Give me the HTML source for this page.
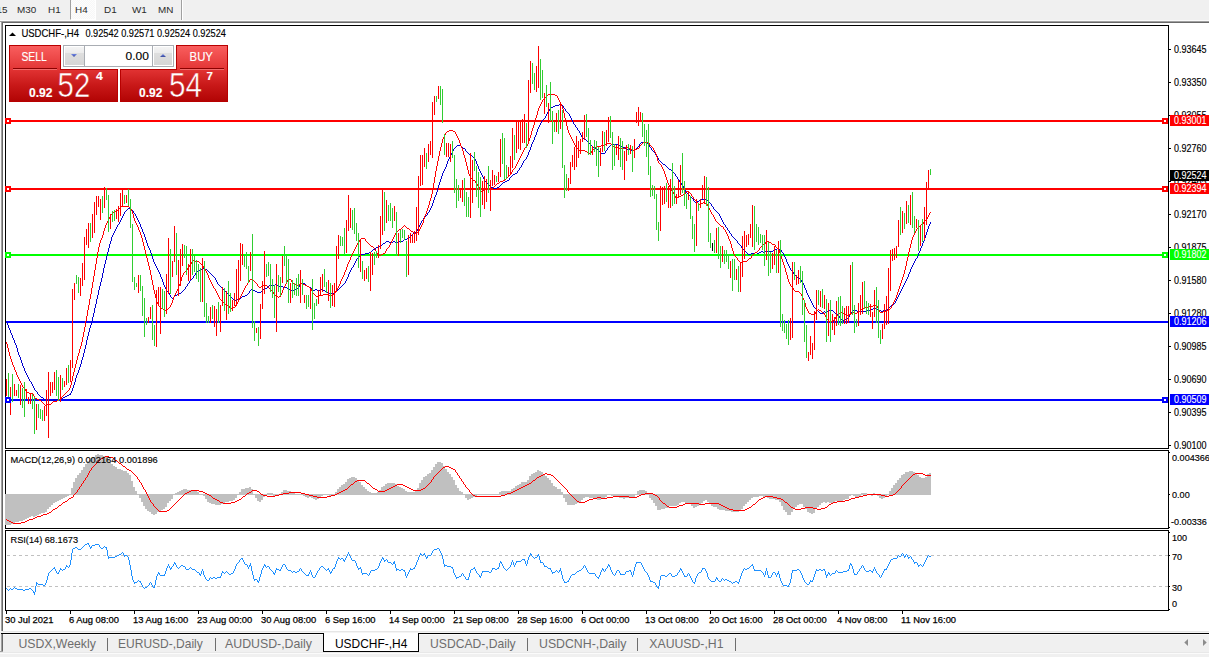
<!DOCTYPE html>
<html><head><meta charset="utf-8"><title>USDCHF-,H4</title>
<style>
*{box-sizing:border-box}
html,body{margin:0;padding:0;overflow:hidden}
body{width:1209px;height:657px;overflow:hidden;position:relative;background:#f0f0f0;font-family:"Liberation Sans",Arial,sans-serif}
.a{position:absolute}
.tb{position:absolute;top:0;left:0;width:1209px;height:20px;background:#f0f0f0}
.ti{position:absolute;top:4px;font-size:9.9px;color:#2b2b2b;line-height:11px;white-space:nowrap}
.press{position:absolute;left:70px;top:0;width:26px;height:20px;border-left:1px solid #a0a0a0;border-right:1px solid #fff;border-bottom:1px solid #fff;
 background-color:#f7f7f7;background-image:linear-gradient(45deg,#fdfdfd 25%,transparent 25%,transparent 75%,#fdfdfd 75%),linear-gradient(45deg,#fdfdfd 25%,transparent 25%,transparent 75%,#fdfdfd 75%);background-size:2px 2px;background-position:0 0,1px 1px}
.mdi{position:absolute;left:3px;top:23px;width:1206px;height:608px;background:#fff}
.tabs{position:absolute;left:0;top:633px;width:1209px;height:24px}
.tab{position:absolute;top:637px;font-size:12.1px;color:#6d6d6d;white-space:nowrap;line-height:14px}
.sep{position:absolute;top:638px;width:1px;height:13px;background:#6d6d6d}
.box{position:absolute}
.w{color:#fff;position:absolute;white-space:nowrap}
</style></head><body>
<!-- toolbar -->
<div class="tb"></div>
<div class="press"></div>
<div class="ti" style="left:-3.5px">15</div>
<div class="ti" style="left:17px">M30</div>
<div class="ti" style="left:48px">H1</div>
<div class="ti" style="left:75px">H4</div>
<div class="ti" style="left:104px">D1</div>
<div class="ti" style="left:132px">W1</div>
<div class="ti" style="left:158px">MN</div>
<div class="a" style="left:181px;top:0;width:1px;height:20px;background:#a0a0a0"></div>
<div class="a" style="left:182px;top:0;width:1px;height:20px;background:#fff"></div>
<div class="a" style="left:0;top:20px;width:1209px;height:1px;background:#fafafa"></div>
<div class="a" style="left:0;top:21px;width:1209px;height:1px;background:#a0a0a0"></div>
<div class="a" style="left:1px;top:22px;width:1208px;height:1px;background:#696969"></div>
<!-- mdi frame -->
<div class="a" style="left:0;top:22px;width:1px;height:610px;background:#f8f8f8"></div>
<div class="a" style="left:1px;top:21px;width:1px;height:610px;background:#a0a0a0"></div>
<div class="a" style="left:2px;top:22px;width:1px;height:609px;background:#696969"></div>
<div class="mdi"></div>
<div class="a" style="left:2px;top:631px;width:1207px;height:1px;background:#e6e6e6"></div>
<div class="a" style="left:2px;top:632px;width:1207px;height:1px;background:#f4f4f4"></div>
<!-- tab bar -->
<div class="a" style="left:1px;top:633px;width:1208px;height:1px;background:#000"></div>
<div class="a" style="left:3px;top:634px;width:1206px;height:1px;background:#fafafa"></div>
<div class="a" style="left:1px;top:634px;width:1px;height:18px;background:#a0a0a0"></div>
<div class="a" style="left:2px;top:634px;width:1px;height:17px;background:#696969"></div>
<div class="a" style="left:0;top:651px;width:3px;height:1px;background:#a0a0a0"></div>
<div class="a" style="left:0;top:652px;width:1209px;height:1px;background:#e8e8e8"></div>
<div class="a" style="left:0;top:653px;width:1209px;height:1px;background:#fbfbfb"></div>
<div class="sep" style="left:107px"></div>
<div class="sep" style="left:215px"></div>
<div class="a" style="left:323px;top:633px;width:96px;height:19px;background:#fff;border:1px solid #000;border-top:none"></div>
<div class="sep" style="left:527px"></div>
<div class="sep" style="left:637px"></div>
<div class="sep" style="left:735px"></div>
<svg class="a" style="left:0;top:630px" width="1209" height="27" viewBox="0 630 1209 27" font-family="Liberation Sans, Arial, sans-serif"><text x="18.4" y="647.8" font-size="12.4" fill="#6d6d6d" textLength="77.4" lengthAdjust="spacingAndGlyphs">USDX,Weekly</text><text x="118.1" y="647.8" font-size="12.4" fill="#6d6d6d" textLength="84.7" lengthAdjust="spacingAndGlyphs">EURUSD-,Daily</text><text x="225" y="647.8" font-size="12.4" fill="#6d6d6d" textLength="87.0" lengthAdjust="spacingAndGlyphs">AUDUSD-,Daily</text><text x="335" y="647.8" font-size="12.4" fill="#000" textLength="72.3" lengthAdjust="spacingAndGlyphs">USDCHF-,H4</text><text x="430.1" y="647.8" font-size="12.4" fill="#6d6d6d" textLength="85.6" lengthAdjust="spacingAndGlyphs">USDCAD-,Daily</text><text x="539" y="647.8" font-size="12.4" fill="#6d6d6d" textLength="87.5" lengthAdjust="spacingAndGlyphs">USDCNH-,Daily</text><text x="649.3" y="647.8" font-size="12.4" fill="#6d6d6d" textLength="74.2" lengthAdjust="spacingAndGlyphs">XAUUSD-,H1</text></svg>
<svg class="a" style="left:1180px;top:637px" width="29" height="14" viewBox="0 0 29 14"><path d="M8 2 L4.3 5.5 L8 9 Z" fill="#8c8c8c"/><path d="M23 2 L26.7 5.5 L23 9 Z" fill="#8c8c8c"/></svg>

<!-- chart svg -->
<svg class="a" style="left:0;top:0" width="1209" height="657" viewBox="0 0 1209 657" font-family="Liberation Sans, Arial, sans-serif">
<g shape-rendering="crispEdges">
<!-- panel frames -->
<rect x="5.5" y="25.5" width="1163" height="423" fill="none" stroke="#000"/>
<rect x="5.5" y="450.5" width="1163" height="78" fill="none" stroke="#000"/>
<rect x="5.5" y="530.5" width="1163" height="80" fill="none" stroke="#000"/>
<rect x="1169" y="49" width="2" height="1" fill="#000"/>
<rect x="1169" y="82" width="2" height="1" fill="#000"/>
<rect x="1169" y="115" width="2" height="1" fill="#000"/>
<rect x="1169" y="148" width="2" height="1" fill="#000"/>
<rect x="1169" y="181" width="2" height="1" fill="#000"/>
<rect x="1169" y="214" width="2" height="1" fill="#000"/>
<rect x="1169" y="247" width="2" height="1" fill="#000"/>
<rect x="1169" y="280" width="2" height="1" fill="#000"/>
<rect x="1169" y="313" width="2" height="1" fill="#000"/>
<rect x="1169" y="346" width="2" height="1" fill="#000"/>
<rect x="1169" y="379" width="2" height="1" fill="#000"/>
<rect x="1169" y="412" width="2" height="1" fill="#000"/>
<rect x="1169" y="445" width="2" height="1" fill="#000"/>
<rect x="6" y="611" width="1" height="3" fill="#000"/>
<rect x="70" y="611" width="1" height="3" fill="#000"/>
<rect x="134" y="611" width="1" height="3" fill="#000"/>
<rect x="198" y="611" width="1" height="3" fill="#000"/>
<rect x="262" y="611" width="1" height="3" fill="#000"/>
<rect x="326" y="611" width="1" height="3" fill="#000"/>
<rect x="390" y="611" width="1" height="3" fill="#000"/>
<rect x="454" y="611" width="1" height="3" fill="#000"/>
<rect x="518" y="611" width="1" height="3" fill="#000"/>
<rect x="582" y="611" width="1" height="3" fill="#000"/>
<rect x="646" y="611" width="1" height="3" fill="#000"/>
<rect x="710" y="611" width="1" height="3" fill="#000"/>
<rect x="774" y="611" width="1" height="3" fill="#000"/>
<rect x="838" y="611" width="1" height="3" fill="#000"/>
<rect x="902" y="611" width="1" height="3" fill="#000"/>
<rect x="1169" y="452" width="1" height="1" fill="#000"/>
<rect x="1169" y="494" width="1" height="1" fill="#000"/>
<rect x="1169" y="527" width="1" height="1" fill="#000"/>
<rect x="1169" y="532" width="1" height="1" fill="#000"/>
<rect x="1169" y="555" width="1" height="1" fill="#000"/>
<rect x="1169" y="586" width="1" height="1" fill="#000"/>
<rect x="1169" y="609" width="1" height="1" fill="#000"/>
<!-- rsi levels -->
<line x1="6" y1="555.5" x2="1168" y2="555.5" stroke="#c0c0c0" stroke-dasharray="3 3" stroke-dashoffset="5"/>
<line x1="6" y1="586.5" x2="1168" y2="586.5" stroke="#c0c0c0" stroke-dasharray="3 3" stroke-dashoffset="5"/>
</g>
<!-- horizontal lines -->
<g shape-rendering="crispEdges">
<rect x="6" y="120" width="1162" height="2" fill="#ff0000"/>
<rect x="6" y="188" width="1162" height="2" fill="#ff0000"/>
<rect x="6" y="254" width="1162" height="2" fill="#00ff00"/>
<rect x="6" y="321" width="1162" height="2" fill="#0000ff"/>
<rect x="6" y="399" width="1162" height="2" fill="#0000ff"/>
</g>
<g shape-rendering="crispEdges">
<path fill="#0000cd" d="M6 322h1v1h-1zM7 323h1v2h-1zM8 325h1v3h-1zM9 328h1v2h-1zM10 330h1v3h-1zM11 333h1v2h-1zM12 335h1v3h-1zM13 338h1v2h-1zM14 340h1v3h-1zM15 343h1v2h-1zM16 345h1v3h-1zM17 348h1v4h-1zM18 352h1v3h-1zM19 355h1v2h-1zM20 357h1v3h-1zM21 360h1v3h-1zM22 363h1v3h-1zM23 366h1v2h-1zM24 368h1v3h-1zM25 371h1v2h-1zM26 373h1v2h-1zM27 375h1v2h-1zM28 377h1v2h-1zM29 379h1v2h-1zM30 381h1v1h-1zM31 382h1v2h-1zM32 384h1v2h-1zM33 386h1v2h-1zM34 388h1v2h-1zM35 390h1v1h-1zM36 391h1v1h-1zM37 392h1v2h-1zM38 394h1v1h-1zM39 395h1v1h-1zM40 396h1v1h-1zM41 397h1v1h-1zM42 397h1v1h-1zM43 398h1v1h-1zM44 399h1v1h-1zM45 399h1v1h-1zM46 399h1v1h-1zM47 400h1v1h-1zM48 400h1v1h-1zM49 400h1v1h-1zM50 400h1v1h-1zM51 400h1v1h-1zM52 400h1v1h-1zM53 399h1v1h-1zM54 399h1v1h-1zM55 399h1v1h-1zM56 399h1v1h-1zM57 399h1v1h-1zM58 399h1v1h-1zM59 399h1v1h-1zM60 399h1v1h-1zM61 398h1v1h-1zM62 398h1v1h-1zM63 397h1v1h-1zM64 397h1v1h-1zM65 396h1v1h-1zM66 396h1v1h-1zM67 395h1v1h-1zM68 395h1v1h-1zM69 394h1v1h-1zM70 393h1v2h-1zM71 391h1v2h-1zM72 388h1v3h-1zM73 385h1v3h-1zM74 382h1v3h-1zM75 378h1v4h-1zM76 375h1v3h-1zM77 373h1v2h-1zM78 370h1v3h-1zM79 367h1v3h-1zM80 364h1v3h-1zM81 360h1v4h-1zM82 357h1v3h-1zM83 353h1v4h-1zM84 349h1v4h-1zM85 345h1v4h-1zM86 340h1v5h-1zM87 336h1v4h-1zM88 332h1v4h-1zM89 328h1v4h-1zM90 325h1v3h-1zM91 321h1v4h-1zM92 317h1v4h-1zM93 313h1v4h-1zM94 308h1v5h-1zM95 304h1v4h-1zM96 299h1v5h-1zM97 295h1v4h-1zM98 290h1v5h-1zM99 286h1v4h-1zM100 282h1v4h-1zM101 278h1v4h-1zM102 273h1v5h-1zM103 268h1v5h-1zM104 264h1v4h-1zM105 260h1v4h-1zM106 256h1v4h-1zM107 252h1v4h-1zM108 248h1v4h-1zM109 244h1v4h-1zM110 241h1v3h-1zM111 237h1v4h-1zM112 235h1v2h-1zM113 233h1v2h-1zM114 231h1v2h-1zM115 229h1v2h-1zM116 227h1v2h-1zM117 225h1v2h-1zM118 224h1v1h-1zM119 222h1v2h-1zM120 220h1v2h-1zM121 218h1v2h-1zM122 216h1v2h-1zM123 214h1v2h-1zM124 212h1v2h-1zM125 211h1v1h-1zM126 210h1v1h-1zM127 209h1v1h-1zM128 208h1v1h-1zM129 208h1v1h-1zM130 208h1v1h-1zM131 209h1v1h-1zM132 210h1v1h-1zM133 211h1v2h-1zM134 213h1v1h-1zM135 214h1v2h-1zM136 216h1v2h-1zM137 218h1v2h-1zM138 220h1v2h-1zM139 222h1v2h-1zM140 224h1v3h-1zM141 227h1v2h-1zM142 229h1v3h-1zM143 232h1v2h-1zM144 234h1v3h-1zM145 237h1v3h-1zM146 240h1v3h-1zM147 243h1v3h-1zM148 246h1v2h-1zM149 248h1v2h-1zM150 250h1v3h-1zM151 253h1v3h-1zM152 256h1v3h-1zM153 259h1v3h-1zM154 262h1v2h-1zM155 264h1v2h-1zM156 266h1v2h-1zM157 268h1v2h-1zM158 270h1v2h-1zM159 272h1v2h-1zM160 274h1v3h-1zM161 277h1v2h-1zM162 279h1v3h-1zM163 282h1v3h-1zM164 285h1v2h-1zM165 287h1v2h-1zM166 289h1v2h-1zM167 291h1v1h-1zM168 292h1v1h-1zM169 293h1v2h-1zM170 295h1v2h-1zM171 297h1v1h-1zM172 298h1v1h-1zM173 297h1v1h-1zM174 296h1v1h-1zM175 295h1v1h-1zM176 295h1v1h-1zM177 294h1v1h-1zM178 294h1v1h-1zM179 293h1v1h-1zM180 293h1v1h-1zM181 292h1v1h-1zM182 291h1v1h-1zM183 290h1v1h-1zM184 289h1v1h-1zM185 287h1v2h-1zM186 286h1v1h-1zM187 284h1v2h-1zM188 283h1v1h-1zM189 281h1v2h-1zM190 280h1v1h-1zM191 279h1v1h-1zM192 278h1v1h-1zM193 276h1v2h-1zM194 275h1v1h-1zM195 273h1v2h-1zM196 272h1v1h-1zM197 271h1v1h-1zM198 270h1v1h-1zM199 270h1v1h-1zM200 270h1v1h-1zM201 269h1v1h-1zM202 269h1v1h-1zM203 268h1v1h-1zM204 268h1v1h-1zM205 269h1v1h-1zM206 269h1v1h-1zM207 270h1v1h-1zM208 271h1v1h-1zM209 272h1v1h-1zM210 273h1v1h-1zM211 274h1v1h-1zM212 275h1v1h-1zM213 276h1v1h-1zM214 277h1v1h-1zM215 278h1v2h-1zM216 280h1v2h-1zM217 282h1v2h-1zM218 284h1v1h-1zM219 285h1v1h-1zM220 286h1v1h-1zM221 287h1v1h-1zM222 288h1v1h-1zM223 289h1v1h-1zM224 290h1v1h-1zM225 291h1v1h-1zM226 292h1v1h-1zM227 293h1v1h-1zM228 294h1v1h-1zM229 295h1v1h-1zM230 296h1v1h-1zM231 297h1v1h-1zM232 298h1v1h-1zM233 299h1v1h-1zM234 299h1v1h-1zM235 300h1v1h-1zM236 300h1v1h-1zM237 299h1v1h-1zM238 299h1v1h-1zM239 298h1v1h-1zM240 298h1v1h-1zM241 297h1v1h-1zM242 296h1v1h-1zM243 296h1v1h-1zM244 296h1v1h-1zM245 295h1v1h-1zM246 295h1v1h-1zM247 294h1v1h-1zM248 293h1v1h-1zM249 291h1v2h-1zM250 290h1v1h-1zM251 289h1v1h-1zM252 289h1v1h-1zM253 290h1v1h-1zM254 290h1v1h-1zM255 291h1v1h-1zM256 291h1v1h-1zM257 292h1v1h-1zM258 292h1v1h-1zM259 292h1v1h-1zM260 292h1v1h-1zM261 291h1v1h-1zM262 290h1v1h-1zM263 289h1v1h-1zM264 289h1v1h-1zM265 288h1v1h-1zM266 288h1v1h-1zM267 287h1v1h-1zM268 286h1v1h-1zM269 285h1v1h-1zM270 285h1v1h-1zM271 285h1v1h-1zM272 285h1v1h-1zM273 285h1v1h-1zM274 285h1v1h-1zM275 284h1v1h-1zM276 284h1v1h-1zM277 285h1v1h-1zM278 285h1v1h-1zM279 286h1v1h-1zM280 286h1v1h-1zM281 286h1v1h-1zM282 286h1v1h-1zM283 287h1v1h-1zM284 287h1v1h-1zM285 287h1v1h-1zM286 287h1v1h-1zM287 288h1v1h-1zM288 288h1v1h-1zM289 289h1v1h-1zM290 289h1v1h-1zM291 290h1v1h-1zM292 291h1v1h-1zM293 290h1v1h-1zM294 290h1v1h-1zM295 289h1v1h-1zM296 289h1v1h-1zM297 288h1v1h-1zM298 287h1v1h-1zM299 285h1v2h-1zM300 284h1v1h-1zM301 283h1v1h-1zM302 282h1v1h-1zM303 283h1v1h-1zM304 283h1v1h-1zM305 284h1v1h-1zM306 285h1v1h-1zM307 286h1v1h-1zM308 286h1v1h-1zM309 287h1v1h-1zM310 287h1v1h-1zM311 288h1v1h-1zM312 289h1v1h-1zM313 290h1v1h-1zM314 290h1v1h-1zM315 289h1v1h-1zM316 289h1v1h-1zM317 290h1v1h-1zM318 290h1v1h-1zM319 290h1v1h-1zM320 290h1v1h-1zM321 289h1v1h-1zM322 289h1v1h-1zM323 290h1v1h-1zM324 290h1v1h-1zM325 291h1v1h-1zM326 292h1v1h-1zM327 292h1v1h-1zM328 292h1v1h-1zM329 293h1v1h-1zM330 293h1v1h-1zM331 293h1v1h-1zM332 293h1v1h-1zM333 293h1v1h-1zM334 293h1v1h-1zM335 292h1v1h-1zM336 291h1v1h-1zM337 290h1v1h-1zM338 289h1v1h-1zM339 288h1v1h-1zM340 287h1v1h-1zM341 286h1v1h-1zM342 285h1v1h-1zM343 284h1v1h-1zM344 283h1v1h-1zM345 281h1v2h-1zM346 279h1v2h-1zM347 277h1v2h-1zM348 274h1v3h-1zM349 272h1v2h-1zM350 270h1v2h-1zM351 268h1v2h-1zM352 267h1v1h-1zM353 265h1v2h-1zM354 263h1v2h-1zM355 261h1v2h-1zM356 259h1v2h-1zM357 258h1v1h-1zM358 257h1v1h-1zM359 256h1v1h-1zM360 255h1v1h-1zM361 254h1v1h-1zM362 254h1v1h-1zM363 254h1v1h-1zM364 254h1v1h-1zM365 253h1v1h-1zM366 253h1v1h-1zM367 253h1v1h-1zM368 253h1v1h-1zM369 252h1v1h-1zM370 252h1v1h-1zM371 251h1v1h-1zM372 250h1v1h-1zM373 249h1v1h-1zM374 249h1v1h-1zM375 248h1v1h-1zM376 247h1v1h-1zM377 247h1v1h-1zM378 247h1v1h-1zM379 246h1v1h-1zM380 246h1v1h-1zM381 245h1v1h-1zM382 244h1v1h-1zM383 243h1v1h-1zM384 243h1v1h-1zM385 242h1v1h-1zM386 241h1v1h-1zM387 241h1v1h-1zM388 241h1v1h-1zM389 242h1v1h-1zM390 242h1v1h-1zM391 242h1v1h-1zM392 242h1v1h-1zM393 241h1v1h-1zM394 241h1v1h-1zM395 242h1v1h-1zM396 242h1v1h-1zM397 242h1v1h-1zM398 242h1v1h-1zM399 241h1v1h-1zM400 241h1v1h-1zM401 241h1v1h-1zM402 241h1v1h-1zM403 240h1v1h-1zM404 239h1v1h-1zM405 239h1v1h-1zM406 239h1v1h-1zM407 238h1v1h-1zM408 238h1v1h-1zM409 237h1v1h-1zM410 236h1v1h-1zM411 235h1v1h-1zM412 234h1v1h-1zM413 233h1v1h-1zM414 233h1v1h-1zM415 232h1v1h-1zM416 231h1v1h-1zM417 229h1v2h-1zM418 227h1v2h-1zM419 225h1v2h-1zM420 223h1v2h-1zM421 221h1v2h-1zM422 220h1v1h-1zM423 218h1v2h-1zM424 217h1v1h-1zM425 216h1v1h-1zM426 215h1v1h-1zM427 213h1v2h-1zM428 212h1v1h-1zM429 210h1v2h-1zM430 208h1v2h-1zM431 206h1v2h-1zM432 203h1v3h-1zM433 200h1v3h-1zM434 197h1v3h-1zM435 195h1v2h-1zM436 192h1v3h-1zM437 188h1v4h-1zM438 185h1v3h-1zM439 182h1v3h-1zM440 179h1v3h-1zM441 176h1v3h-1zM442 173h1v3h-1zM443 171h1v2h-1zM444 169h1v2h-1zM445 167h1v2h-1zM446 164h1v3h-1zM447 161h1v3h-1zM448 159h1v2h-1zM449 157h1v2h-1zM450 155h1v2h-1zM451 153h1v2h-1zM452 151h1v2h-1zM453 149h1v2h-1zM454 148h1v1h-1zM455 147h1v1h-1zM456 146h1v1h-1zM457 145h1v1h-1zM458 145h1v1h-1zM459 145h1v1h-1zM460 145h1v1h-1zM461 146h1v1h-1zM462 147h1v1h-1zM463 148h1v1h-1zM464 148h1v1h-1zM465 149h1v2h-1zM466 151h1v1h-1zM467 152h1v1h-1zM468 153h1v1h-1zM469 154h1v1h-1zM470 154h1v1h-1zM471 155h1v1h-1zM472 156h1v1h-1zM473 157h1v1h-1zM474 158h1v1h-1zM475 159h1v2h-1zM476 161h1v3h-1zM477 164h1v2h-1zM478 166h1v3h-1zM479 169h1v2h-1zM480 171h1v2h-1zM481 173h1v2h-1zM482 175h1v2h-1zM483 177h1v2h-1zM484 179h1v2h-1zM485 181h1v1h-1zM486 182h1v1h-1zM487 183h1v1h-1zM488 184h1v1h-1zM489 185h1v1h-1zM490 186h1v1h-1zM491 187h1v1h-1zM492 187h1v1h-1zM493 188h1v1h-1zM494 188h1v1h-1zM495 188h1v1h-1zM496 188h1v1h-1zM497 187h1v1h-1zM498 187h1v1h-1zM499 186h1v1h-1zM500 185h1v1h-1zM501 184h1v1h-1zM502 183h1v1h-1zM503 182h1v1h-1zM504 182h1v1h-1zM505 181h1v1h-1zM506 181h1v1h-1zM507 180h1v1h-1zM508 180h1v1h-1zM509 178h1v2h-1zM510 177h1v1h-1zM511 176h1v1h-1zM512 175h1v1h-1zM513 174h1v1h-1zM514 174h1v1h-1zM515 173h1v1h-1zM516 173h1v1h-1zM517 171h1v2h-1zM518 170h1v1h-1zM519 168h1v2h-1zM520 167h1v1h-1zM521 165h1v2h-1zM522 163h1v2h-1zM523 161h1v2h-1zM524 160h1v1h-1zM525 159h1v1h-1zM526 157h1v2h-1zM527 155h1v2h-1zM528 152h1v3h-1zM529 150h1v2h-1zM530 147h1v3h-1zM531 144h1v3h-1zM532 142h1v2h-1zM533 140h1v2h-1zM534 137h1v3h-1zM535 135h1v2h-1zM536 132h1v3h-1zM537 129h1v3h-1zM538 127h1v2h-1zM539 125h1v2h-1zM540 123h1v2h-1zM541 121h1v2h-1zM542 120h1v1h-1zM543 119h1v1h-1zM544 118h1v1h-1zM545 116h1v2h-1zM546 114h1v2h-1zM547 112h1v2h-1zM548 111h1v1h-1zM549 109h1v2h-1zM550 108h1v1h-1zM551 107h1v1h-1zM552 107h1v1h-1zM553 106h1v1h-1zM554 106h1v1h-1zM555 105h1v1h-1zM556 105h1v1h-1zM557 105h1v1h-1zM558 105h1v1h-1zM559 104h1v1h-1zM560 104h1v1h-1zM561 105h1v1h-1zM562 105h1v1h-1zM563 106h1v2h-1zM564 108h1v1h-1zM565 109h1v2h-1zM566 111h1v1h-1zM567 112h1v1h-1zM568 113h1v1h-1zM569 114h1v2h-1zM570 116h1v2h-1zM571 118h1v2h-1zM572 120h1v2h-1zM573 122h1v2h-1zM574 124h1v1h-1zM575 125h1v2h-1zM576 127h1v1h-1zM577 128h1v2h-1zM578 130h1v1h-1zM579 131h1v2h-1zM580 133h1v2h-1zM581 135h1v2h-1zM582 137h1v1h-1zM583 138h1v1h-1zM584 138h1v1h-1zM585 139h1v1h-1zM586 140h1v1h-1zM587 141h1v1h-1zM588 142h1v1h-1zM589 143h1v1h-1zM590 144h1v1h-1zM591 145h1v1h-1zM592 146h1v1h-1zM593 147h1v1h-1zM594 147h1v1h-1zM595 148h1v1h-1zM596 148h1v1h-1zM597 149h1v1h-1zM598 150h1v1h-1zM599 151h1v1h-1zM600 152h1v1h-1zM601 153h1v1h-1zM602 153h1v1h-1zM603 153h1v1h-1zM604 153h1v1h-1zM605 151h1v2h-1zM606 150h1v1h-1zM607 148h1v2h-1zM608 147h1v1h-1zM609 146h1v1h-1zM610 145h1v1h-1zM611 144h1v1h-1zM612 144h1v1h-1zM613 144h1v1h-1zM614 144h1v1h-1zM615 144h1v1h-1zM616 144h1v1h-1zM617 144h1v1h-1zM618 144h1v1h-1zM619 145h1v1h-1zM620 145h1v1h-1zM621 146h1v1h-1zM622 146h1v1h-1zM623 147h1v1h-1zM624 147h1v1h-1zM625 148h1v1h-1zM626 148h1v1h-1zM627 149h1v1h-1zM628 149h1v1h-1zM629 149h1v1h-1zM630 149h1v1h-1zM631 150h1v1h-1zM632 150h1v1h-1zM633 150h1v1h-1zM634 150h1v1h-1zM635 149h1v1h-1zM636 148h1v1h-1zM637 147h1v1h-1zM638 146h1v1h-1zM639 144h1v2h-1zM640 143h1v1h-1zM641 142h1v1h-1zM642 142h1v1h-1zM643 142h1v1h-1zM644 142h1v1h-1zM645 142h1v1h-1zM646 142h1v1h-1zM647 143h1v1h-1zM648 144h1v1h-1zM649 145h1v2h-1zM650 147h1v1h-1zM651 148h1v2h-1zM652 150h1v1h-1zM653 151h1v1h-1zM654 152h1v1h-1zM655 153h1v2h-1zM656 155h1v1h-1zM657 156h1v2h-1zM658 158h1v2h-1zM659 160h1v1h-1zM660 161h1v1h-1zM661 162h1v1h-1zM662 163h1v1h-1zM663 164h1v1h-1zM664 164h1v1h-1zM665 165h1v1h-1zM666 166h1v1h-1zM667 167h1v1h-1zM668 168h1v1h-1zM669 169h1v1h-1zM670 169h1v1h-1zM671 170h1v1h-1zM672 171h1v1h-1zM673 172h1v1h-1zM674 173h1v1h-1zM675 174h1v2h-1zM676 176h1v1h-1zM677 177h1v2h-1zM678 179h1v1h-1zM679 180h1v2h-1zM680 182h1v1h-1zM681 183h1v2h-1zM682 185h1v1h-1zM683 186h1v2h-1zM684 188h1v2h-1zM685 190h1v2h-1zM686 192h1v1h-1zM687 193h1v1h-1zM688 194h1v1h-1zM689 195h1v1h-1zM690 196h1v1h-1zM691 197h1v1h-1zM692 198h1v1h-1zM693 199h1v2h-1zM694 201h1v1h-1zM695 202h1v1h-1zM696 202h1v1h-1zM697 201h1v1h-1zM698 201h1v1h-1zM699 200h1v1h-1zM700 199h1v1h-1zM701 199h1v1h-1zM702 199h1v1h-1zM703 199h1v1h-1zM704 199h1v1h-1zM705 199h1v1h-1zM706 199h1v1h-1zM707 200h1v1h-1zM708 201h1v1h-1zM709 202h1v1h-1zM710 203h1v1h-1zM711 204h1v2h-1zM712 206h1v1h-1zM713 207h1v2h-1zM714 209h1v1h-1zM715 210h1v1h-1zM716 211h1v1h-1zM717 212h1v1h-1zM718 213h1v1h-1zM719 214h1v2h-1zM720 216h1v2h-1zM721 218h1v2h-1zM722 220h1v2h-1zM723 222h1v2h-1zM724 224h1v1h-1zM725 225h1v2h-1zM726 227h1v1h-1zM727 228h1v2h-1zM728 230h1v1h-1zM729 231h1v2h-1zM730 233h1v1h-1zM731 234h1v2h-1zM732 236h1v1h-1zM733 237h1v1h-1zM734 238h1v1h-1zM735 239h1v1h-1zM736 240h1v1h-1zM737 241h1v2h-1zM738 243h1v1h-1zM739 244h1v1h-1zM740 245h1v1h-1zM741 246h1v2h-1zM742 248h1v1h-1zM743 249h1v1h-1zM744 250h1v1h-1zM745 251h1v1h-1zM746 252h1v1h-1zM747 253h1v1h-1zM748 254h1v1h-1zM749 254h1v1h-1zM750 254h1v1h-1zM751 253h1v1h-1zM752 253h1v1h-1zM753 253h1v1h-1zM754 253h1v1h-1zM755 252h1v1h-1zM756 252h1v1h-1zM757 253h1v1h-1zM758 253h1v1h-1zM759 252h1v1h-1zM760 252h1v1h-1zM761 251h1v1h-1zM762 251h1v1h-1zM763 252h1v1h-1zM764 252h1v1h-1zM765 251h1v1h-1zM766 250h1v1h-1zM767 251h1v1h-1zM768 251h1v1h-1zM769 251h1v1h-1zM770 251h1v1h-1zM771 251h1v1h-1zM772 251h1v1h-1zM773 250h1v1h-1zM774 249h1v1h-1zM775 249h1v1h-1zM776 249h1v1h-1zM777 248h1v1h-1zM778 248h1v1h-1zM779 249h1v1h-1zM780 249h1v1h-1zM781 250h1v2h-1zM782 252h1v1h-1zM783 253h1v2h-1zM784 255h1v2h-1zM785 257h1v2h-1zM786 259h1v3h-1zM787 262h1v2h-1zM788 264h1v2h-1zM789 266h1v2h-1zM790 268h1v2h-1zM791 270h1v1h-1zM792 271h1v1h-1zM793 272h1v2h-1zM794 274h1v1h-1zM795 275h1v1h-1zM796 276h1v1h-1zM797 277h1v1h-1zM798 277h1v1h-1zM799 278h1v1h-1zM800 279h1v1h-1zM801 280h1v2h-1zM802 282h1v1h-1zM803 283h1v2h-1zM804 285h1v3h-1zM805 288h1v2h-1zM806 290h1v3h-1zM807 293h1v2h-1zM808 295h1v2h-1zM809 297h1v2h-1zM810 299h1v2h-1zM811 301h1v2h-1zM812 303h1v2h-1zM813 305h1v2h-1zM814 307h1v1h-1zM815 308h1v1h-1zM816 309h1v1h-1zM817 310h1v1h-1zM818 311h1v1h-1zM819 312h1v1h-1zM820 313h1v1h-1zM821 313h1v1h-1zM822 313h1v1h-1zM823 312h1v1h-1zM824 311h1v1h-1zM825 312h1v1h-1zM826 312h1v1h-1zM827 311h1v1h-1zM828 311h1v1h-1zM829 310h1v1h-1zM830 310h1v1h-1zM831 310h1v1h-1zM832 310h1v1h-1zM833 311h1v1h-1zM834 312h1v1h-1zM835 313h1v1h-1zM836 313h1v1h-1zM837 314h1v1h-1zM838 315h1v1h-1zM839 316h1v2h-1zM840 318h1v1h-1zM841 319h1v1h-1zM842 320h1v1h-1zM843 320h1v1h-1zM844 320h1v1h-1zM845 319h1v1h-1zM846 319h1v1h-1zM847 318h1v1h-1zM848 317h1v1h-1zM849 315h1v2h-1zM850 314h1v1h-1zM851 312h1v2h-1zM852 311h1v1h-1zM853 310h1v1h-1zM854 310h1v1h-1zM855 310h1v1h-1zM856 310h1v1h-1zM857 311h1v1h-1zM858 311h1v1h-1zM859 311h1v1h-1zM860 311h1v1h-1zM861 311h1v1h-1zM862 311h1v1h-1zM863 311h1v1h-1zM864 311h1v1h-1zM865 311h1v1h-1zM866 311h1v1h-1zM867 310h1v1h-1zM868 310h1v1h-1zM869 310h1v1h-1zM870 310h1v1h-1zM871 309h1v1h-1zM872 309h1v1h-1zM873 308h1v1h-1zM874 308h1v1h-1zM875 308h1v1h-1zM876 308h1v1h-1zM877 309h1v1h-1zM878 309h1v1h-1zM879 310h1v1h-1zM880 310h1v1h-1zM881 311h1v1h-1zM882 311h1v1h-1zM883 310h1v1h-1zM884 310h1v1h-1zM885 310h1v1h-1zM886 310h1v1h-1zM887 309h1v1h-1zM888 308h1v1h-1zM889 307h1v1h-1zM890 306h1v1h-1zM891 305h1v1h-1zM892 305h1v1h-1zM893 304h1v1h-1zM894 303h1v1h-1zM895 301h1v2h-1zM896 299h1v2h-1zM897 297h1v2h-1zM898 295h1v2h-1zM899 293h1v2h-1zM900 291h1v2h-1zM901 289h1v2h-1zM902 287h1v2h-1zM903 285h1v2h-1zM904 283h1v2h-1zM905 281h1v2h-1zM906 279h1v2h-1zM907 277h1v2h-1zM908 274h1v3h-1zM909 272h1v2h-1zM910 269h1v3h-1zM911 267h1v2h-1zM912 265h1v2h-1zM913 263h1v2h-1zM914 261h1v2h-1zM915 259h1v2h-1zM916 258h1v1h-1zM917 256h1v2h-1zM918 253h1v3h-1zM919 251h1v2h-1zM920 248h1v3h-1zM921 246h1v2h-1zM922 243h1v3h-1zM923 241h1v2h-1zM924 238h1v3h-1zM925 235h1v3h-1zM926 232h1v3h-1zM927 229h1v3h-1zM928 226h1v3h-1zM929 224h1v2h-1zM930 222h1v2h-1z"/><path fill="#ff0000" d="M6 342h1v2h-1zM7 344h1v4h-1zM8 348h1v4h-1zM9 352h1v4h-1zM10 356h1v3h-1zM11 359h1v3h-1zM12 362h1v3h-1zM13 365h1v2h-1zM14 367h1v3h-1zM15 370h1v2h-1zM16 372h1v3h-1zM17 375h1v2h-1zM18 377h1v2h-1zM19 379h1v2h-1zM20 381h1v2h-1zM21 383h1v2h-1zM22 385h1v2h-1zM23 387h1v1h-1zM24 388h1v1h-1zM25 389h1v2h-1zM26 391h1v1h-1zM27 392h1v1h-1zM28 392h1v1h-1zM29 393h1v1h-1zM30 393h1v1h-1zM31 393h1v1h-1zM32 393h1v1h-1zM33 394h1v2h-1zM34 396h1v2h-1zM35 398h1v1h-1zM36 398h1v1h-1zM37 399h1v1h-1zM38 399h1v1h-1zM39 400h1v1h-1zM40 400h1v1h-1zM41 401h1v1h-1zM42 402h1v1h-1zM43 403h1v1h-1zM44 404h1v1h-1zM45 405h1v1h-1zM46 405h1v1h-1zM47 404h1v1h-1zM48 404h1v1h-1zM49 404h1v1h-1zM50 404h1v1h-1zM51 403h1v1h-1zM52 402h1v1h-1zM53 401h1v1h-1zM54 401h1v1h-1zM55 401h1v1h-1zM56 401h1v1h-1zM57 400h1v1h-1zM58 400h1v1h-1zM59 399h1v1h-1zM60 399h1v1h-1zM61 397h1v2h-1zM62 396h1v1h-1zM63 395h1v1h-1zM64 394h1v1h-1zM65 393h1v1h-1zM66 392h1v1h-1zM67 391h1v1h-1zM68 390h1v1h-1zM69 388h1v2h-1zM70 385h1v3h-1zM71 381h1v4h-1zM72 376h1v5h-1zM73 372h1v4h-1zM74 368h1v4h-1zM75 364h1v4h-1zM76 360h1v4h-1zM77 356h1v4h-1zM78 353h1v3h-1zM79 349h1v4h-1zM80 346h1v3h-1zM81 342h1v4h-1zM82 337h1v5h-1zM83 332h1v5h-1zM84 327h1v5h-1zM85 321h1v6h-1zM86 316h1v5h-1zM87 310h1v6h-1zM88 305h1v5h-1zM89 299h1v6h-1zM90 294h1v5h-1zM91 288h1v6h-1zM92 282h1v6h-1zM93 276h1v6h-1zM94 270h1v6h-1zM95 264h1v6h-1zM96 258h1v6h-1zM97 252h1v6h-1zM98 247h1v5h-1zM99 243h1v4h-1zM100 240h1v3h-1zM101 238h1v2h-1zM102 235h1v3h-1zM103 231h1v4h-1zM104 228h1v3h-1zM105 225h1v3h-1zM106 223h1v2h-1zM107 221h1v2h-1zM108 219h1v2h-1zM109 217h1v2h-1zM110 215h1v2h-1zM111 214h1v1h-1zM112 213h1v1h-1zM113 212h1v1h-1zM114 212h1v1h-1zM115 211h1v1h-1zM116 211h1v1h-1zM117 210h1v1h-1zM118 209h1v1h-1zM119 208h1v1h-1zM120 207h1v1h-1zM121 206h1v1h-1zM122 206h1v1h-1zM123 206h1v1h-1zM124 206h1v1h-1zM125 206h1v1h-1zM126 206h1v1h-1zM127 206h1v1h-1zM128 206h1v1h-1zM129 207h1v1h-1zM130 207h1v2h-1zM131 209h1v2h-1zM132 211h1v3h-1zM133 214h1v4h-1zM134 218h1v3h-1zM135 221h1v2h-1zM136 223h1v2h-1zM137 225h1v2h-1zM138 227h1v3h-1zM139 230h1v2h-1zM140 232h1v3h-1zM141 235h1v3h-1zM142 238h1v4h-1zM143 242h1v4h-1zM144 246h1v4h-1zM145 250h1v4h-1zM146 254h1v4h-1zM147 258h1v4h-1zM148 262h1v4h-1zM149 266h1v4h-1zM150 270h1v5h-1zM151 275h1v5h-1zM152 280h1v5h-1zM153 285h1v5h-1zM154 290h1v4h-1zM155 294h1v4h-1zM156 298h1v4h-1zM157 302h1v2h-1zM158 304h1v2h-1zM159 306h1v1h-1zM160 307h1v1h-1zM161 308h1v1h-1zM162 308h1v1h-1zM163 309h1v1h-1zM164 310h1v1h-1zM165 310h1v1h-1zM166 310h1v1h-1zM167 309h1v1h-1zM168 308h1v1h-1zM169 307h1v1h-1zM170 305h1v2h-1zM171 303h1v2h-1zM172 300h1v3h-1zM173 297h1v3h-1zM174 295h1v2h-1zM175 293h1v2h-1zM176 291h1v2h-1zM177 289h1v2h-1zM178 286h1v3h-1zM179 284h1v2h-1zM180 281h1v3h-1zM181 277h1v4h-1zM182 275h1v2h-1zM183 273h1v2h-1zM184 272h1v1h-1zM185 271h1v1h-1zM186 270h1v1h-1zM187 268h1v2h-1zM188 267h1v1h-1zM189 265h1v2h-1zM190 264h1v1h-1zM191 262h1v2h-1zM192 261h1v1h-1zM193 260h1v1h-1zM194 260h1v1h-1zM195 261h1v1h-1zM196 261h1v1h-1zM197 261h1v1h-1zM198 261h1v1h-1zM199 262h1v1h-1zM200 263h1v1h-1zM201 264h1v1h-1zM202 265h1v1h-1zM203 266h1v2h-1zM204 268h1v1h-1zM205 269h1v2h-1zM206 271h1v2h-1zM207 273h1v2h-1zM208 275h1v3h-1zM209 278h1v2h-1zM210 280h1v2h-1zM211 282h1v2h-1zM212 284h1v2h-1zM213 286h1v2h-1zM214 288h1v1h-1zM215 289h1v2h-1zM216 291h1v2h-1zM217 293h1v2h-1zM218 295h1v2h-1zM219 297h1v2h-1zM220 299h1v1h-1zM221 300h1v1h-1zM222 301h1v1h-1zM223 302h1v1h-1zM224 303h1v1h-1zM225 304h1v1h-1zM226 304h1v1h-1zM227 305h1v1h-1zM228 305h1v1h-1zM229 306h1v2h-1zM230 308h1v1h-1zM231 308h1v1h-1zM232 308h1v1h-1zM233 307h1v1h-1zM234 307h1v1h-1zM235 305h1v2h-1zM236 304h1v1h-1zM237 302h1v2h-1zM238 300h1v2h-1zM239 298h1v2h-1zM240 296h1v2h-1zM241 294h1v2h-1zM242 292h1v2h-1zM243 290h1v2h-1zM244 288h1v2h-1zM245 286h1v2h-1zM246 285h1v1h-1zM247 283h1v2h-1zM248 282h1v1h-1zM249 280h1v2h-1zM250 279h1v1h-1zM251 279h1v1h-1zM252 279h1v1h-1zM253 280h1v1h-1zM254 281h1v1h-1zM255 282h1v1h-1zM256 283h1v1h-1zM257 284h1v2h-1zM258 286h1v1h-1zM259 287h1v1h-1zM260 287h1v1h-1zM261 286h1v1h-1zM262 286h1v1h-1zM263 285h1v1h-1zM264 285h1v1h-1zM265 285h1v1h-1zM266 285h1v1h-1zM267 286h1v1h-1zM268 287h1v1h-1zM269 288h1v1h-1zM270 289h1v1h-1zM271 290h1v1h-1zM272 291h1v1h-1zM273 292h1v2h-1zM274 294h1v1h-1zM275 295h1v1h-1zM276 295h1v1h-1zM277 296h1v1h-1zM278 297h1v1h-1zM279 296h1v1h-1zM280 295h1v2h-1zM281 293h1v2h-1zM282 290h1v3h-1zM283 288h1v2h-1zM284 286h1v2h-1zM285 284h1v2h-1zM286 282h1v2h-1zM287 280h1v2h-1zM288 279h1v1h-1zM289 279h1v1h-1zM290 279h1v1h-1zM291 280h1v2h-1zM292 282h1v1h-1zM293 283h1v1h-1zM294 283h1v1h-1zM295 284h1v1h-1zM296 284h1v1h-1zM297 285h1v1h-1zM298 285h1v1h-1zM299 284h1v1h-1zM300 284h1v1h-1zM301 283h1v1h-1zM302 283h1v1h-1zM303 284h1v1h-1zM304 284h1v1h-1zM305 285h1v1h-1zM306 285h1v1h-1zM307 286h1v1h-1zM308 286h1v1h-1zM309 287h1v1h-1zM310 288h1v1h-1zM311 289h1v2h-1zM312 291h1v2h-1zM313 293h1v1h-1zM314 294h1v1h-1zM315 295h1v1h-1zM316 296h1v1h-1zM317 296h1v1h-1zM318 296h1v1h-1zM319 295h1v1h-1zM320 295h1v1h-1zM321 295h1v1h-1zM322 295h1v1h-1zM323 294h1v1h-1zM324 294h1v1h-1zM325 294h1v1h-1zM326 294h1v1h-1zM327 294h1v1h-1zM328 294h1v1h-1zM329 295h1v1h-1zM330 295h1v1h-1zM331 295h1v1h-1zM332 295h1v1h-1zM333 294h1v1h-1zM334 293h1v1h-1zM335 291h1v2h-1zM336 290h1v1h-1zM337 288h1v2h-1zM338 286h1v2h-1zM339 284h1v2h-1zM340 281h1v3h-1zM341 279h1v2h-1zM342 277h1v2h-1zM343 275h1v2h-1zM344 272h1v3h-1zM345 270h1v2h-1zM346 267h1v3h-1zM347 264h1v3h-1zM348 262h1v2h-1zM349 260h1v2h-1zM350 257h1v3h-1zM351 255h1v2h-1zM352 253h1v2h-1zM353 251h1v2h-1zM354 249h1v2h-1zM355 247h1v2h-1zM356 245h1v2h-1zM357 243h1v2h-1zM358 242h1v1h-1zM359 240h1v2h-1zM360 239h1v1h-1zM361 238h1v1h-1zM362 238h1v1h-1zM363 238h1v1h-1zM364 238h1v1h-1zM365 239h1v2h-1zM366 241h1v1h-1zM367 242h1v1h-1zM368 243h1v1h-1zM369 244h1v1h-1zM370 245h1v1h-1zM371 246h1v1h-1zM372 246h1v1h-1zM373 247h1v1h-1zM374 248h1v1h-1zM375 249h1v2h-1zM376 251h1v2h-1zM377 253h1v2h-1zM378 255h1v1h-1zM379 255h1v1h-1zM380 255h1v1h-1zM381 254h1v1h-1zM382 254h1v1h-1zM383 253h1v1h-1zM384 253h1v1h-1zM385 251h1v2h-1zM386 249h1v2h-1zM387 248h1v1h-1zM388 247h1v1h-1zM389 245h1v2h-1zM390 243h1v2h-1zM391 241h1v2h-1zM392 239h1v2h-1zM393 237h1v2h-1zM394 235h1v2h-1zM395 233h1v2h-1zM396 232h1v1h-1zM397 231h1v1h-1zM398 230h1v1h-1zM399 229h1v1h-1zM400 229h1v1h-1zM401 228h1v1h-1zM402 227h1v1h-1zM403 226h1v1h-1zM404 225h1v1h-1zM405 226h1v1h-1zM406 227h1v1h-1zM407 228h1v1h-1zM408 228h1v1h-1zM409 229h1v1h-1zM410 230h1v1h-1zM411 231h1v1h-1zM412 231h1v1h-1zM413 232h1v1h-1zM414 233h1v1h-1zM415 233h1v1h-1zM416 233h1v1h-1zM417 232h1v1h-1zM418 231h1v1h-1zM419 229h1v2h-1zM420 227h1v2h-1zM421 225h1v2h-1zM422 223h1v2h-1zM423 219h1v4h-1zM424 216h1v3h-1zM425 214h1v2h-1zM426 211h1v3h-1zM427 208h1v3h-1zM428 205h1v3h-1zM429 201h1v4h-1zM430 198h1v3h-1zM431 194h1v4h-1zM432 189h1v5h-1zM433 183h1v6h-1zM434 177h1v6h-1zM435 171h1v6h-1zM436 166h1v5h-1zM437 161h1v5h-1zM438 156h1v5h-1zM439 151h1v5h-1zM440 147h1v4h-1zM441 143h1v4h-1zM442 139h1v4h-1zM443 137h1v2h-1zM444 135h1v2h-1zM445 133h1v2h-1zM446 132h1v1h-1zM447 131h1v1h-1zM448 131h1v1h-1zM449 130h1v1h-1zM450 130h1v1h-1zM451 130h1v1h-1zM452 130h1v1h-1zM453 131h1v1h-1zM454 131h1v1h-1zM455 132h1v2h-1zM456 134h1v2h-1zM457 136h1v2h-1zM458 138h1v2h-1zM459 140h1v3h-1zM460 143h1v3h-1zM461 146h1v2h-1zM462 148h1v3h-1zM463 151h1v4h-1zM464 155h1v3h-1zM465 158h1v4h-1zM466 162h1v4h-1zM467 166h1v4h-1zM468 170h1v4h-1zM469 174h1v2h-1zM470 176h1v2h-1zM471 178h1v1h-1zM472 179h1v1h-1zM473 180h1v1h-1zM474 180h1v1h-1zM475 181h1v2h-1zM476 183h1v1h-1zM477 184h1v2h-1zM478 186h1v1h-1zM479 187h1v2h-1zM480 189h1v2h-1zM481 191h1v1h-1zM482 191h1v1h-1zM483 190h1v1h-1zM484 190h1v1h-1zM485 189h1v1h-1zM486 189h1v1h-1zM487 189h1v1h-1zM488 189h1v1h-1zM489 189h1v1h-1zM490 189h1v1h-1zM491 188h1v1h-1zM492 188h1v1h-1zM493 187h1v1h-1zM494 186h1v1h-1zM495 185h1v1h-1zM496 184h1v1h-1zM497 183h1v1h-1zM498 183h1v1h-1zM499 182h1v1h-1zM500 181h1v1h-1zM501 181h1v1h-1zM502 181h1v1h-1zM503 180h1v1h-1zM504 180h1v1h-1zM505 179h1v1h-1zM506 178h1v1h-1zM507 177h1v1h-1zM508 176h1v1h-1zM509 175h1v1h-1zM510 174h1v1h-1zM511 172h1v2h-1zM512 170h1v2h-1zM513 169h1v1h-1zM514 168h1v1h-1zM515 166h1v2h-1zM516 164h1v2h-1zM517 162h1v2h-1zM518 160h1v2h-1zM519 158h1v2h-1zM520 156h1v2h-1zM521 154h1v2h-1zM522 152h1v2h-1zM523 150h1v2h-1zM524 148h1v2h-1zM525 147h1v1h-1zM526 146h1v1h-1zM527 144h1v2h-1zM528 141h1v3h-1zM529 138h1v3h-1zM530 135h1v3h-1zM531 131h1v4h-1zM532 128h1v3h-1zM533 125h1v3h-1zM534 122h1v3h-1zM535 118h1v4h-1zM536 115h1v3h-1zM537 111h1v4h-1zM538 108h1v3h-1zM539 106h1v2h-1zM540 104h1v2h-1zM541 102h1v2h-1zM542 100h1v2h-1zM543 99h1v1h-1zM544 98h1v1h-1zM545 97h1v1h-1zM546 96h1v1h-1zM547 95h1v1h-1zM548 94h1v1h-1zM549 94h1v1h-1zM550 94h1v1h-1zM551 94h1v1h-1zM552 94h1v1h-1zM553 94h1v1h-1zM554 94h1v1h-1zM555 95h1v1h-1zM556 95h1v1h-1zM557 96h1v2h-1zM558 98h1v2h-1zM559 100h1v2h-1zM560 102h1v2h-1zM561 104h1v2h-1zM562 106h1v3h-1zM563 109h1v4h-1zM564 113h1v5h-1zM565 118h1v4h-1zM566 122h1v4h-1zM567 126h1v4h-1zM568 130h1v3h-1zM569 133h1v2h-1zM570 135h1v2h-1zM571 137h1v2h-1zM572 139h1v2h-1zM573 141h1v2h-1zM574 143h1v2h-1zM575 145h1v2h-1zM576 147h1v1h-1zM577 148h1v1h-1zM578 149h1v1h-1zM579 150h1v1h-1zM580 150h1v1h-1zM581 150h1v1h-1zM582 150h1v1h-1zM583 150h1v1h-1zM584 150h1v1h-1zM585 151h1v1h-1zM586 151h1v1h-1zM587 152h1v1h-1zM588 153h1v1h-1zM589 153h1v1h-1zM590 153h1v1h-1zM591 151h1v2h-1zM592 150h1v1h-1zM593 149h1v1h-1zM594 148h1v1h-1zM595 147h1v1h-1zM596 146h1v1h-1zM597 146h1v1h-1zM598 146h1v1h-1zM599 146h1v1h-1zM600 146h1v1h-1zM601 145h1v1h-1zM602 145h1v1h-1zM603 145h1v1h-1zM604 145h1v1h-1zM605 144h1v1h-1zM606 144h1v1h-1zM607 143h1v1h-1zM608 143h1v1h-1zM609 143h1v1h-1zM610 143h1v1h-1zM611 144h1v1h-1zM612 145h1v1h-1zM613 146h1v1h-1zM614 147h1v1h-1zM615 147h1v1h-1zM616 147h1v1h-1zM617 147h1v1h-1zM618 147h1v1h-1zM619 148h1v1h-1zM620 148h1v1h-1zM621 148h1v1h-1zM622 148h1v1h-1zM623 148h1v1h-1zM624 148h1v1h-1zM625 147h1v1h-1zM626 147h1v1h-1zM627 147h1v1h-1zM628 147h1v1h-1zM629 148h1v1h-1zM630 148h1v1h-1zM631 149h1v1h-1zM632 149h1v1h-1zM633 150h1v1h-1zM634 150h1v1h-1zM635 149h1v1h-1zM636 149h1v1h-1zM637 148h1v1h-1zM638 148h1v1h-1zM639 146h1v2h-1zM640 145h1v1h-1zM641 144h1v1h-1zM642 143h1v1h-1zM643 142h1v1h-1zM644 142h1v1h-1zM645 142h1v1h-1zM646 142h1v1h-1zM647 142h1v1h-1zM648 142h1v1h-1zM649 143h1v2h-1zM650 145h1v1h-1zM651 146h1v1h-1zM652 147h1v1h-1zM653 148h1v2h-1zM654 150h1v2h-1zM655 152h1v2h-1zM656 154h1v3h-1zM657 157h1v4h-1zM658 161h1v2h-1zM659 163h1v1h-1zM660 164h1v1h-1zM661 165h1v2h-1zM662 167h1v2h-1zM663 169h1v2h-1zM664 171h1v3h-1zM665 174h1v3h-1zM666 177h1v3h-1zM667 180h1v3h-1zM668 183h1v2h-1zM669 185h1v2h-1zM670 187h1v2h-1zM671 189h1v2h-1zM672 191h1v1h-1zM673 192h1v2h-1zM674 194h1v2h-1zM675 196h1v2h-1zM676 198h1v1h-1zM677 197h1v1h-1zM678 197h1v1h-1zM679 196h1v1h-1zM680 196h1v1h-1zM681 195h1v1h-1zM682 195h1v1h-1zM683 194h1v1h-1zM684 194h1v1h-1zM685 192h1v2h-1zM686 191h1v1h-1zM687 191h1v1h-1zM688 191h1v1h-1zM689 192h1v1h-1zM690 193h1v1h-1zM691 194h1v2h-1zM692 196h1v1h-1zM693 197h1v2h-1zM694 199h1v1h-1zM695 200h1v1h-1zM696 201h1v1h-1zM697 202h1v1h-1zM698 203h1v1h-1zM699 204h1v1h-1zM700 204h1v1h-1zM701 203h1v1h-1zM702 203h1v1h-1zM703 202h1v1h-1zM704 202h1v1h-1zM705 203h1v1h-1zM706 203h1v1h-1zM707 204h1v2h-1zM708 206h1v2h-1zM709 208h1v2h-1zM710 210h1v2h-1zM711 212h1v2h-1zM712 214h1v1h-1zM713 215h1v2h-1zM714 217h1v2h-1zM715 219h1v2h-1zM716 221h1v1h-1zM717 222h1v1h-1zM718 223h1v1h-1zM719 224h1v1h-1zM720 225h1v1h-1zM721 226h1v1h-1zM722 226h1v1h-1zM723 227h1v2h-1zM724 229h1v1h-1zM725 230h1v2h-1zM726 232h1v2h-1zM727 234h1v2h-1zM728 236h1v3h-1zM729 239h1v2h-1zM730 241h1v3h-1zM731 244h1v4h-1zM732 248h1v3h-1zM733 251h1v3h-1zM734 254h1v2h-1zM735 256h1v1h-1zM736 257h1v1h-1zM737 258h1v2h-1zM738 260h1v1h-1zM739 261h1v1h-1zM740 262h1v1h-1zM741 262h1v1h-1zM742 262h1v1h-1zM743 261h1v1h-1zM744 261h1v1h-1zM745 261h1v1h-1zM746 261h1v1h-1zM747 260h1v1h-1zM748 259h1v1h-1zM749 258h1v1h-1zM750 258h1v1h-1zM751 256h1v2h-1zM752 255h1v1h-1zM753 254h1v1h-1zM754 253h1v1h-1zM755 252h1v1h-1zM756 252h1v1h-1zM757 251h1v1h-1zM758 250h1v1h-1zM759 248h1v2h-1zM760 247h1v1h-1zM761 246h1v1h-1zM762 245h1v1h-1zM763 244h1v1h-1zM764 244h1v1h-1zM765 242h1v2h-1zM766 240h1v2h-1zM767 241h1v1h-1zM768 241h1v1h-1zM769 242h1v1h-1zM770 242h1v1h-1zM771 243h1v1h-1zM772 244h1v1h-1zM773 244h1v1h-1zM774 244h1v1h-1zM775 245h1v2h-1zM776 247h1v1h-1zM777 248h1v1h-1zM778 248h1v2h-1zM779 250h1v3h-1zM780 253h1v3h-1zM781 256h1v3h-1zM782 259h1v3h-1zM783 262h1v3h-1zM784 265h1v3h-1zM785 268h1v4h-1zM786 272h1v3h-1zM787 275h1v4h-1zM788 279h1v3h-1zM789 282h1v2h-1zM790 284h1v2h-1zM791 286h1v1h-1zM792 287h1v1h-1zM793 288h1v2h-1zM794 290h1v1h-1zM795 291h1v1h-1zM796 291h1v1h-1zM797 291h1v1h-1zM798 291h1v1h-1zM799 292h1v1h-1zM800 293h1v1h-1zM801 294h1v2h-1zM802 296h1v2h-1zM803 298h1v2h-1zM804 300h1v3h-1zM805 303h1v4h-1zM806 307h1v2h-1zM807 309h1v2h-1zM808 311h1v2h-1zM809 313h1v1h-1zM810 313h1v1h-1zM811 314h1v1h-1zM812 314h1v1h-1zM813 314h1v1h-1zM814 314h1v1h-1zM815 312h1v2h-1zM816 311h1v1h-1zM817 310h1v1h-1zM818 309h1v1h-1zM819 310h1v1h-1zM820 310h1v1h-1zM821 311h1v1h-1zM822 312h1v1h-1zM823 313h1v1h-1zM824 313h1v2h-1zM825 315h1v2h-1zM826 317h1v2h-1zM827 319h1v1h-1zM828 320h1v1h-1zM829 321h1v1h-1zM830 322h1v1h-1zM831 321h1v1h-1zM832 321h1v1h-1zM833 320h1v1h-1zM834 319h1v1h-1zM835 317h1v2h-1zM836 316h1v1h-1zM837 315h1v1h-1zM838 314h1v1h-1zM839 313h1v1h-1zM840 312h1v1h-1zM841 312h1v1h-1zM842 312h1v1h-1zM843 313h1v1h-1zM844 313h1v1h-1zM845 314h1v1h-1zM846 314h1v1h-1zM847 315h1v1h-1zM848 315h1v1h-1zM849 314h1v1h-1zM850 313h1v1h-1zM851 313h1v1h-1zM852 313h1v1h-1zM853 312h1v1h-1zM854 312h1v1h-1zM855 313h1v1h-1zM856 313h1v1h-1zM857 312h1v1h-1zM858 312h1v1h-1zM859 311h1v1h-1zM860 310h1v1h-1zM861 309h1v1h-1zM862 308h1v1h-1zM863 308h1v1h-1zM864 308h1v1h-1zM865 307h1v1h-1zM866 307h1v1h-1zM867 307h1v1h-1zM868 307h1v1h-1zM869 306h1v1h-1zM870 306h1v1h-1zM871 306h1v1h-1zM872 306h1v1h-1zM873 305h1v1h-1zM874 305h1v1h-1zM875 305h1v1h-1zM876 305h1v1h-1zM877 306h1v2h-1zM878 308h1v2h-1zM879 310h1v2h-1zM880 312h1v1h-1zM881 312h1v1h-1zM882 312h1v1h-1zM883 311h1v1h-1zM884 311h1v1h-1zM885 311h1v1h-1zM886 311h1v1h-1zM887 310h1v1h-1zM888 310h1v1h-1zM889 309h1v1h-1zM890 308h1v1h-1zM891 306h1v2h-1zM892 304h1v2h-1zM893 302h1v2h-1zM894 300h1v2h-1zM895 298h1v2h-1zM896 295h1v3h-1zM897 292h1v3h-1zM898 289h1v3h-1zM899 286h1v3h-1zM900 283h1v3h-1zM901 280h1v3h-1zM902 277h1v3h-1zM903 274h1v3h-1zM904 270h1v4h-1zM905 266h1v4h-1zM906 261h1v5h-1zM907 257h1v4h-1zM908 252h1v5h-1zM909 248h1v4h-1zM910 244h1v4h-1zM911 240h1v4h-1zM912 237h1v3h-1zM913 235h1v2h-1zM914 233h1v2h-1zM915 231h1v2h-1zM916 229h1v2h-1zM917 228h1v1h-1zM918 227h1v1h-1zM919 226h1v1h-1zM920 225h1v1h-1zM921 224h1v1h-1zM922 224h1v1h-1zM923 222h1v2h-1zM924 221h1v1h-1zM925 220h1v1h-1zM926 219h1v1h-1zM927 217h1v2h-1zM928 215h1v2h-1zM929 213h1v2h-1zM930 212h1v1h-1z"/>
</g>
<g shape-rendering="crispEdges">
<rect x="6" y="379" width="1" height="17" fill="#ff0000"/>
<rect x="8" y="373" width="1" height="28" fill="#32cd32"/>
<rect x="10" y="387" width="1" height="28" fill="#ff0000"/>
<rect x="12" y="374" width="1" height="28" fill="#32cd32"/>
<rect x="14" y="384" width="1" height="12" fill="#ff0000"/>
<rect x="16" y="390" width="1" height="6" fill="#ff0000"/>
<rect x="18" y="384" width="1" height="14" fill="#32cd32"/>
<rect x="20" y="385" width="1" height="20" fill="#ff0000"/>
<rect x="22" y="388" width="1" height="20" fill="#32cd32"/>
<rect x="24" y="382" width="1" height="35" fill="#32cd32"/>
<rect x="26" y="389" width="1" height="10" fill="#ff0000"/>
<rect x="28" y="397" width="1" height="7" fill="#ff0000"/>
<rect x="30" y="394" width="1" height="10" fill="#ff0000"/>
<rect x="32" y="394" width="1" height="15" fill="#32cd32"/>
<rect x="34" y="397" width="1" height="37" fill="#32cd32"/>
<rect x="36" y="404" width="1" height="26" fill="#ff0000"/>
<rect x="38" y="404" width="1" height="14" fill="#32cd32"/>
<rect x="40" y="409" width="1" height="10" fill="#32cd32"/>
<rect x="42" y="410" width="1" height="11" fill="#32cd32"/>
<rect x="44" y="406" width="1" height="15" fill="#ff0000"/>
<rect x="46" y="390" width="1" height="26" fill="#ff0000"/>
<rect x="48" y="372" width="1" height="66" fill="#ff0000"/>
<rect x="50" y="382" width="1" height="14" fill="#ff0000"/>
<rect x="52" y="382" width="1" height="11" fill="#ff0000"/>
<rect x="54" y="372" width="1" height="18" fill="#ff0000"/>
<rect x="56" y="370" width="1" height="26" fill="#32cd32"/>
<rect x="58" y="377" width="1" height="24" fill="#32cd32"/>
<rect x="60" y="375" width="1" height="27" fill="#ff0000"/>
<rect x="62" y="378" width="1" height="12" fill="#32cd32"/>
<rect x="64" y="381" width="1" height="6" fill="#ff0000"/>
<rect x="66" y="368" width="1" height="17" fill="#ff0000"/>
<rect x="68" y="365" width="1" height="18" fill="#32cd32"/>
<rect x="70" y="360" width="1" height="22" fill="#ff0000"/>
<rect x="72" y="289" width="1" height="79" fill="#ff0000"/>
<rect x="74" y="283" width="1" height="17" fill="#ff0000"/>
<rect x="76" y="275" width="1" height="9" fill="#32cd32"/>
<rect x="78" y="277" width="1" height="16" fill="#32cd32"/>
<rect x="80" y="278" width="1" height="18" fill="#ff0000"/>
<rect x="82" y="263" width="1" height="23" fill="#ff0000"/>
<rect x="84" y="237" width="1" height="43" fill="#ff0000"/>
<rect x="86" y="229" width="1" height="16" fill="#ff0000"/>
<rect x="88" y="223" width="1" height="25" fill="#ff0000"/>
<rect x="90" y="223" width="1" height="19" fill="#32cd32"/>
<rect x="92" y="214" width="1" height="24" fill="#ff0000"/>
<rect x="94" y="202" width="1" height="31" fill="#ff0000"/>
<rect x="96" y="196" width="1" height="19" fill="#ff0000"/>
<rect x="98" y="196" width="1" height="11" fill="#ff0000"/>
<rect x="100" y="199" width="1" height="21" fill="#ff0000"/>
<rect x="102" y="196" width="1" height="17" fill="#32cd32"/>
<rect x="104" y="187" width="1" height="21" fill="#ff0000"/>
<rect x="106" y="188" width="1" height="12" fill="#32cd32"/>
<rect x="108" y="195" width="1" height="37" fill="#32cd32"/>
<rect x="110" y="214" width="1" height="15" fill="#ff0000"/>
<rect x="112" y="211" width="1" height="11" fill="#32cd32"/>
<rect x="114" y="210" width="1" height="11" fill="#32cd32"/>
<rect x="116" y="209" width="1" height="10" fill="#ff0000"/>
<rect x="118" y="206" width="1" height="16" fill="#ff0000"/>
<rect x="120" y="193" width="1" height="23" fill="#ff0000"/>
<rect x="122" y="189" width="1" height="18" fill="#ff0000"/>
<rect x="124" y="195" width="1" height="9" fill="#32cd32"/>
<rect x="126" y="195" width="1" height="8" fill="#ff0000"/>
<rect x="128" y="189" width="1" height="17" fill="#32cd32"/>
<rect x="130" y="199" width="1" height="29" fill="#32cd32"/>
<rect x="132" y="224" width="1" height="58" fill="#32cd32"/>
<rect x="134" y="277" width="1" height="13" fill="#32cd32"/>
<rect x="136" y="283" width="1" height="4" fill="#32cd32"/>
<rect x="138" y="275" width="1" height="18" fill="#ff0000"/>
<rect x="140" y="275" width="1" height="16" fill="#32cd32"/>
<rect x="142" y="286" width="1" height="30" fill="#32cd32"/>
<rect x="144" y="298" width="1" height="39" fill="#32cd32"/>
<rect x="146" y="318" width="1" height="7" fill="#32cd32"/>
<rect x="148" y="317" width="1" height="6" fill="#ff0000"/>
<rect x="150" y="307" width="1" height="12" fill="#ff0000"/>
<rect x="152" y="305" width="1" height="35" fill="#32cd32"/>
<rect x="154" y="325" width="1" height="21" fill="#32cd32"/>
<rect x="156" y="290" width="1" height="57" fill="#ff0000"/>
<rect x="158" y="287" width="1" height="19" fill="#ff0000"/>
<rect x="160" y="287" width="1" height="47" fill="#ff0000"/>
<rect x="162" y="289" width="1" height="20" fill="#32cd32"/>
<rect x="164" y="291" width="1" height="26" fill="#32cd32"/>
<rect x="166" y="274" width="1" height="40" fill="#ff0000"/>
<rect x="168" y="238" width="1" height="56" fill="#ff0000"/>
<rect x="170" y="249" width="1" height="45" fill="#32cd32"/>
<rect x="172" y="261" width="1" height="16" fill="#ff0000"/>
<rect x="174" y="226" width="1" height="36" fill="#ff0000"/>
<rect x="176" y="233" width="1" height="42" fill="#32cd32"/>
<rect x="178" y="260" width="1" height="36" fill="#ff0000"/>
<rect x="180" y="249" width="1" height="37" fill="#ff0000"/>
<rect x="182" y="244" width="1" height="22" fill="#ff0000"/>
<rect x="184" y="245" width="1" height="13" fill="#32cd32"/>
<rect x="186" y="246" width="1" height="29" fill="#32cd32"/>
<rect x="188" y="264" width="1" height="17" fill="#ff0000"/>
<rect x="190" y="249" width="1" height="31" fill="#ff0000"/>
<rect x="192" y="249" width="1" height="26" fill="#32cd32"/>
<rect x="194" y="256" width="1" height="16" fill="#32cd32"/>
<rect x="196" y="260" width="1" height="19" fill="#32cd32"/>
<rect x="198" y="264" width="1" height="18" fill="#32cd32"/>
<rect x="200" y="268" width="1" height="34" fill="#32cd32"/>
<rect x="202" y="258" width="1" height="44" fill="#ff0000"/>
<rect x="204" y="261" width="1" height="56" fill="#32cd32"/>
<rect x="206" y="303" width="1" height="20" fill="#32cd32"/>
<rect x="208" y="316" width="1" height="7" fill="#32cd32"/>
<rect x="210" y="307" width="1" height="16" fill="#ff0000"/>
<rect x="212" y="305" width="1" height="14" fill="#32cd32"/>
<rect x="214" y="306" width="1" height="21" fill="#ff0000"/>
<rect x="216" y="309" width="1" height="27" fill="#ff0000"/>
<rect x="218" y="302" width="1" height="21" fill="#32cd32"/>
<rect x="220" y="305" width="1" height="27" fill="#ff0000"/>
<rect x="222" y="287" width="1" height="19" fill="#ff0000"/>
<rect x="224" y="288" width="1" height="23" fill="#32cd32"/>
<rect x="226" y="291" width="1" height="29" fill="#ff0000"/>
<rect x="228" y="281" width="1" height="33" fill="#32cd32"/>
<rect x="230" y="293" width="1" height="19" fill="#32cd32"/>
<rect x="232" y="300" width="1" height="11" fill="#ff0000"/>
<rect x="234" y="293" width="1" height="13" fill="#ff0000"/>
<rect x="236" y="269" width="1" height="37" fill="#ff0000"/>
<rect x="238" y="260" width="1" height="40" fill="#ff0000"/>
<rect x="240" y="243" width="1" height="38" fill="#ff0000"/>
<rect x="242" y="244" width="1" height="21" fill="#ff0000"/>
<rect x="244" y="256" width="1" height="11" fill="#32cd32"/>
<rect x="246" y="252" width="1" height="17" fill="#32cd32"/>
<rect x="248" y="266" width="1" height="17" fill="#32cd32"/>
<rect x="250" y="252" width="1" height="19" fill="#ff0000"/>
<rect x="252" y="234" width="1" height="94" fill="#32cd32"/>
<rect x="254" y="321" width="1" height="20" fill="#32cd32"/>
<rect x="256" y="328" width="1" height="5" fill="#ff0000"/>
<rect x="258" y="327" width="1" height="19" fill="#32cd32"/>
<rect x="260" y="304" width="1" height="35" fill="#ff0000"/>
<rect x="262" y="281" width="1" height="28" fill="#ff0000"/>
<rect x="264" y="251" width="1" height="43" fill="#ff0000"/>
<rect x="266" y="264" width="1" height="13" fill="#32cd32"/>
<rect x="268" y="262" width="1" height="14" fill="#32cd32"/>
<rect x="270" y="264" width="1" height="28" fill="#32cd32"/>
<rect x="272" y="279" width="1" height="19" fill="#32cd32"/>
<rect x="274" y="285" width="1" height="33" fill="#32cd32"/>
<rect x="276" y="264" width="1" height="68" fill="#ff0000"/>
<rect x="278" y="275" width="1" height="17" fill="#32cd32"/>
<rect x="280" y="277" width="1" height="19" fill="#32cd32"/>
<rect x="282" y="256" width="1" height="27" fill="#ff0000"/>
<rect x="284" y="246" width="1" height="20" fill="#32cd32"/>
<rect x="286" y="255" width="1" height="28" fill="#32cd32"/>
<rect x="288" y="259" width="1" height="44" fill="#32cd32"/>
<rect x="290" y="283" width="1" height="20" fill="#ff0000"/>
<rect x="292" y="280" width="1" height="18" fill="#32cd32"/>
<rect x="294" y="283" width="1" height="12" fill="#32cd32"/>
<rect x="296" y="278" width="1" height="18" fill="#32cd32"/>
<rect x="298" y="274" width="1" height="22" fill="#32cd32"/>
<rect x="300" y="270" width="1" height="33" fill="#ff0000"/>
<rect x="302" y="279" width="1" height="16" fill="#32cd32"/>
<rect x="304" y="295" width="1" height="8" fill="#ff0000"/>
<rect x="306" y="295" width="1" height="14" fill="#32cd32"/>
<rect x="308" y="295" width="1" height="12" fill="#32cd32"/>
<rect x="310" y="288" width="1" height="21" fill="#ff0000"/>
<rect x="312" y="279" width="1" height="51" fill="#32cd32"/>
<rect x="314" y="303" width="1" height="16" fill="#32cd32"/>
<rect x="316" y="299" width="1" height="7" fill="#32cd32"/>
<rect x="318" y="290" width="1" height="14" fill="#ff0000"/>
<rect x="320" y="277" width="1" height="18" fill="#ff0000"/>
<rect x="322" y="274" width="1" height="18" fill="#ff0000"/>
<rect x="324" y="269" width="1" height="18" fill="#32cd32"/>
<rect x="326" y="282" width="1" height="11" fill="#32cd32"/>
<rect x="328" y="280" width="1" height="21" fill="#ff0000"/>
<rect x="330" y="283" width="1" height="25" fill="#32cd32"/>
<rect x="332" y="285" width="1" height="21" fill="#ff0000"/>
<rect x="334" y="283" width="1" height="24" fill="#ff0000"/>
<rect x="336" y="246" width="1" height="46" fill="#ff0000"/>
<rect x="338" y="235" width="1" height="24" fill="#ff0000"/>
<rect x="340" y="236" width="1" height="10" fill="#32cd32"/>
<rect x="342" y="237" width="1" height="9" fill="#32cd32"/>
<rect x="344" y="228" width="1" height="27" fill="#32cd32"/>
<rect x="346" y="220" width="1" height="33" fill="#ff0000"/>
<rect x="348" y="195" width="1" height="36" fill="#ff0000"/>
<rect x="350" y="208" width="1" height="20" fill="#ff0000"/>
<rect x="352" y="210" width="1" height="20" fill="#32cd32"/>
<rect x="354" y="208" width="1" height="26" fill="#32cd32"/>
<rect x="356" y="223" width="1" height="18" fill="#32cd32"/>
<rect x="358" y="233" width="1" height="35" fill="#32cd32"/>
<rect x="360" y="239" width="1" height="33" fill="#ff0000"/>
<rect x="362" y="261" width="1" height="18" fill="#32cd32"/>
<rect x="364" y="270" width="1" height="11" fill="#ff0000"/>
<rect x="366" y="268" width="1" height="11" fill="#ff0000"/>
<rect x="368" y="266" width="1" height="16" fill="#32cd32"/>
<rect x="370" y="252" width="1" height="39" fill="#ff0000"/>
<rect x="372" y="253" width="1" height="22" fill="#ff0000"/>
<rect x="374" y="252" width="1" height="13" fill="#32cd32"/>
<rect x="376" y="251" width="1" height="7" fill="#32cd32"/>
<rect x="378" y="245" width="1" height="13" fill="#ff0000"/>
<rect x="380" y="216" width="1" height="33" fill="#ff0000"/>
<rect x="382" y="189" width="1" height="46" fill="#ff0000"/>
<rect x="384" y="192" width="1" height="39" fill="#32cd32"/>
<rect x="386" y="200" width="1" height="23" fill="#ff0000"/>
<rect x="388" y="205" width="1" height="16" fill="#32cd32"/>
<rect x="390" y="203" width="1" height="18" fill="#32cd32"/>
<rect x="392" y="208" width="1" height="20" fill="#32cd32"/>
<rect x="394" y="206" width="1" height="15" fill="#ff0000"/>
<rect x="396" y="212" width="1" height="44" fill="#32cd32"/>
<rect x="398" y="233" width="1" height="23" fill="#ff0000"/>
<rect x="400" y="230" width="1" height="13" fill="#32cd32"/>
<rect x="402" y="229" width="1" height="9" fill="#32cd32"/>
<rect x="404" y="230" width="1" height="10" fill="#32cd32"/>
<rect x="406" y="241" width="1" height="36" fill="#32cd32"/>
<rect x="408" y="235" width="1" height="40" fill="#ff0000"/>
<rect x="410" y="233" width="1" height="10" fill="#ff0000"/>
<rect x="412" y="234" width="1" height="9" fill="#ff0000"/>
<rect x="414" y="231" width="1" height="12" fill="#ff0000"/>
<rect x="416" y="207" width="1" height="34" fill="#ff0000"/>
<rect x="418" y="176" width="1" height="59" fill="#ff0000"/>
<rect x="420" y="155" width="1" height="31" fill="#ff0000"/>
<rect x="422" y="155" width="1" height="30" fill="#ff0000"/>
<rect x="424" y="148" width="1" height="19" fill="#ff0000"/>
<rect x="426" y="153" width="1" height="16" fill="#32cd32"/>
<rect x="428" y="144" width="1" height="18" fill="#ff0000"/>
<rect x="430" y="141" width="1" height="14" fill="#ff0000"/>
<rect x="432" y="102" width="1" height="56" fill="#ff0000"/>
<rect x="434" y="96" width="1" height="19" fill="#ff0000"/>
<rect x="436" y="96" width="1" height="6" fill="#32cd32"/>
<rect x="438" y="86" width="1" height="13" fill="#ff0000"/>
<rect x="440" y="86" width="1" height="19" fill="#32cd32"/>
<rect x="442" y="89" width="1" height="34" fill="#32cd32"/>
<rect x="444" y="134" width="1" height="21" fill="#32cd32"/>
<rect x="446" y="143" width="1" height="14" fill="#ff0000"/>
<rect x="448" y="143" width="1" height="14" fill="#ff0000"/>
<rect x="450" y="144" width="1" height="18" fill="#ff0000"/>
<rect x="452" y="141" width="1" height="17" fill="#32cd32"/>
<rect x="454" y="155" width="1" height="38" fill="#32cd32"/>
<rect x="456" y="179" width="1" height="29" fill="#32cd32"/>
<rect x="458" y="185" width="1" height="16" fill="#32cd32"/>
<rect x="460" y="189" width="1" height="9" fill="#ff0000"/>
<rect x="462" y="180" width="1" height="22" fill="#ff0000"/>
<rect x="464" y="178" width="1" height="28" fill="#32cd32"/>
<rect x="466" y="192" width="1" height="25" fill="#32cd32"/>
<rect x="468" y="197" width="1" height="20" fill="#32cd32"/>
<rect x="470" y="153" width="1" height="65" fill="#ff0000"/>
<rect x="472" y="160" width="1" height="43" fill="#ff0000"/>
<rect x="474" y="152" width="1" height="19" fill="#32cd32"/>
<rect x="476" y="166" width="1" height="31" fill="#32cd32"/>
<rect x="478" y="172" width="1" height="36" fill="#32cd32"/>
<rect x="480" y="177" width="1" height="40" fill="#32cd32"/>
<rect x="482" y="181" width="1" height="24" fill="#ff0000"/>
<rect x="484" y="176" width="1" height="33" fill="#ff0000"/>
<rect x="486" y="179" width="1" height="23" fill="#ff0000"/>
<rect x="488" y="166" width="1" height="27" fill="#32cd32"/>
<rect x="490" y="180" width="1" height="31" fill="#ff0000"/>
<rect x="492" y="170" width="1" height="16" fill="#ff0000"/>
<rect x="494" y="175" width="1" height="10" fill="#ff0000"/>
<rect x="496" y="176" width="1" height="6" fill="#32cd32"/>
<rect x="498" y="172" width="1" height="10" fill="#ff0000"/>
<rect x="500" y="139" width="1" height="38" fill="#ff0000"/>
<rect x="502" y="133" width="1" height="31" fill="#32cd32"/>
<rect x="504" y="138" width="1" height="42" fill="#32cd32"/>
<rect x="506" y="165" width="1" height="14" fill="#32cd32"/>
<rect x="508" y="167" width="1" height="10" fill="#ff0000"/>
<rect x="510" y="156" width="1" height="18" fill="#ff0000"/>
<rect x="512" y="128" width="1" height="40" fill="#ff0000"/>
<rect x="514" y="135" width="1" height="25" fill="#32cd32"/>
<rect x="516" y="122" width="1" height="31" fill="#ff0000"/>
<rect x="518" y="120" width="1" height="29" fill="#ff0000"/>
<rect x="520" y="120" width="1" height="30" fill="#ff0000"/>
<rect x="522" y="119" width="1" height="24" fill="#ff0000"/>
<rect x="524" y="114" width="1" height="29" fill="#ff0000"/>
<rect x="526" y="123" width="1" height="25" fill="#32cd32"/>
<rect x="528" y="80" width="1" height="62" fill="#ff0000"/>
<rect x="530" y="61" width="1" height="32" fill="#ff0000"/>
<rect x="532" y="63" width="1" height="21" fill="#32cd32"/>
<rect x="534" y="73" width="1" height="17" fill="#32cd32"/>
<rect x="536" y="66" width="1" height="26" fill="#ff0000"/>
<rect x="538" y="46" width="1" height="42" fill="#ff0000"/>
<rect x="540" y="59" width="1" height="41" fill="#32cd32"/>
<rect x="542" y="70" width="1" height="28" fill="#32cd32"/>
<rect x="544" y="93" width="1" height="21" fill="#ff0000"/>
<rect x="546" y="85" width="1" height="22" fill="#32cd32"/>
<rect x="548" y="103" width="1" height="20" fill="#ff0000"/>
<rect x="550" y="82" width="1" height="39" fill="#32cd32"/>
<rect x="552" y="111" width="1" height="33" fill="#32cd32"/>
<rect x="554" y="122" width="1" height="10" fill="#32cd32"/>
<rect x="556" y="113" width="1" height="19" fill="#ff0000"/>
<rect x="558" y="110" width="1" height="24" fill="#32cd32"/>
<rect x="560" y="102" width="1" height="27" fill="#ff0000"/>
<rect x="562" y="110" width="1" height="58" fill="#32cd32"/>
<rect x="564" y="165" width="1" height="33" fill="#32cd32"/>
<rect x="566" y="174" width="1" height="17" fill="#32cd32"/>
<rect x="568" y="178" width="1" height="13" fill="#ff0000"/>
<rect x="570" y="162" width="1" height="22" fill="#ff0000"/>
<rect x="572" y="155" width="1" height="12" fill="#ff0000"/>
<rect x="574" y="147" width="1" height="23" fill="#ff0000"/>
<rect x="576" y="136" width="1" height="31" fill="#ff0000"/>
<rect x="578" y="141" width="1" height="17" fill="#ff0000"/>
<rect x="580" y="139" width="1" height="15" fill="#ff0000"/>
<rect x="582" y="132" width="1" height="10" fill="#ff0000"/>
<rect x="584" y="115" width="1" height="25" fill="#ff0000"/>
<rect x="586" y="114" width="1" height="23" fill="#32cd32"/>
<rect x="588" y="128" width="1" height="27" fill="#32cd32"/>
<rect x="590" y="140" width="1" height="15" fill="#32cd32"/>
<rect x="592" y="146" width="1" height="9" fill="#ff0000"/>
<rect x="594" y="140" width="1" height="12" fill="#32cd32"/>
<rect x="596" y="141" width="1" height="25" fill="#32cd32"/>
<rect x="598" y="147" width="1" height="30" fill="#32cd32"/>
<rect x="600" y="148" width="1" height="18" fill="#ff0000"/>
<rect x="602" y="131" width="1" height="21" fill="#ff0000"/>
<rect x="604" y="132" width="1" height="19" fill="#32cd32"/>
<rect x="606" y="130" width="1" height="16" fill="#ff0000"/>
<rect x="608" y="117" width="1" height="25" fill="#ff0000"/>
<rect x="610" y="116" width="1" height="22" fill="#32cd32"/>
<rect x="612" y="132" width="1" height="38" fill="#32cd32"/>
<rect x="614" y="144" width="1" height="22" fill="#32cd32"/>
<rect x="616" y="145" width="1" height="10" fill="#ff0000"/>
<rect x="618" y="136" width="1" height="24" fill="#ff0000"/>
<rect x="620" y="138" width="1" height="29" fill="#32cd32"/>
<rect x="622" y="141" width="1" height="29" fill="#32cd32"/>
<rect x="624" y="151" width="1" height="29" fill="#ff0000"/>
<rect x="626" y="145" width="1" height="16" fill="#ff0000"/>
<rect x="628" y="144" width="1" height="11" fill="#32cd32"/>
<rect x="630" y="145" width="1" height="9" fill="#ff0000"/>
<rect x="632" y="146" width="1" height="26" fill="#32cd32"/>
<rect x="634" y="139" width="1" height="19" fill="#ff0000"/>
<rect x="636" y="112" width="1" height="11" fill="#ff0000"/>
<rect x="638" y="107" width="1" height="19" fill="#ff0000"/>
<rect x="640" y="112" width="1" height="9" fill="#ff0000"/>
<rect x="642" y="113" width="1" height="24" fill="#32cd32"/>
<rect x="644" y="124" width="1" height="22" fill="#32cd32"/>
<rect x="646" y="130" width="1" height="27" fill="#32cd32"/>
<rect x="648" y="124" width="1" height="51" fill="#32cd32"/>
<rect x="650" y="166" width="1" height="31" fill="#32cd32"/>
<rect x="652" y="185" width="1" height="11" fill="#32cd32"/>
<rect x="654" y="186" width="1" height="13" fill="#32cd32"/>
<rect x="656" y="194" width="1" height="36" fill="#32cd32"/>
<rect x="658" y="222" width="1" height="19" fill="#32cd32"/>
<rect x="660" y="186" width="1" height="45" fill="#ff0000"/>
<rect x="662" y="187" width="1" height="18" fill="#ff0000"/>
<rect x="664" y="186" width="1" height="18" fill="#ff0000"/>
<rect x="666" y="183" width="1" height="19" fill="#32cd32"/>
<rect x="668" y="186" width="1" height="22" fill="#ff0000"/>
<rect x="670" y="179" width="1" height="29" fill="#ff0000"/>
<rect x="672" y="163" width="1" height="43" fill="#32cd32"/>
<rect x="674" y="186" width="1" height="18" fill="#32cd32"/>
<rect x="676" y="194" width="1" height="10" fill="#ff0000"/>
<rect x="678" y="180" width="1" height="17" fill="#ff0000"/>
<rect x="680" y="165" width="1" height="30" fill="#ff0000"/>
<rect x="682" y="153" width="1" height="40" fill="#32cd32"/>
<rect x="684" y="181" width="1" height="25" fill="#32cd32"/>
<rect x="686" y="194" width="1" height="15" fill="#32cd32"/>
<rect x="688" y="192" width="1" height="8" fill="#ff0000"/>
<rect x="690" y="196" width="1" height="23" fill="#32cd32"/>
<rect x="692" y="216" width="1" height="23" fill="#32cd32"/>
<rect x="694" y="224" width="1" height="28" fill="#32cd32"/>
<rect x="696" y="199" width="1" height="47" fill="#ff0000"/>
<rect x="698" y="203" width="1" height="8" fill="#32cd32"/>
<rect x="700" y="199" width="1" height="9" fill="#ff0000"/>
<rect x="702" y="185" width="1" height="14" fill="#ff0000"/>
<rect x="704" y="176" width="1" height="28" fill="#ff0000"/>
<rect x="706" y="177" width="1" height="29" fill="#32cd32"/>
<rect x="708" y="187" width="1" height="55" fill="#32cd32"/>
<rect x="710" y="233" width="1" height="15" fill="#32cd32"/>
<rect x="712" y="243" width="1" height="8" fill="#000000"/>
<rect x="714" y="240" width="1" height="13" fill="#32cd32"/>
<rect x="716" y="228" width="1" height="25" fill="#ff0000"/>
<rect x="718" y="227" width="1" height="32" fill="#32cd32"/>
<rect x="720" y="246" width="1" height="22" fill="#32cd32"/>
<rect x="722" y="246" width="1" height="16" fill="#ff0000"/>
<rect x="724" y="250" width="1" height="14" fill="#32cd32"/>
<rect x="726" y="250" width="1" height="12" fill="#32cd32"/>
<rect x="728" y="254" width="1" height="15" fill="#32cd32"/>
<rect x="730" y="261" width="1" height="17" fill="#ff0000"/>
<rect x="732" y="259" width="1" height="32" fill="#32cd32"/>
<rect x="734" y="259" width="1" height="21" fill="#32cd32"/>
<rect x="736" y="269" width="1" height="11" fill="#ff0000"/>
<rect x="738" y="266" width="1" height="26" fill="#32cd32"/>
<rect x="740" y="262" width="1" height="30" fill="#ff0000"/>
<rect x="742" y="236" width="1" height="41" fill="#ff0000"/>
<rect x="744" y="231" width="1" height="28" fill="#ff0000"/>
<rect x="746" y="235" width="1" height="12" fill="#ff0000"/>
<rect x="748" y="234" width="1" height="11" fill="#ff0000"/>
<rect x="750" y="224" width="1" height="14" fill="#ff0000"/>
<rect x="752" y="205" width="1" height="42" fill="#ff0000"/>
<rect x="754" y="206" width="1" height="44" fill="#32cd32"/>
<rect x="756" y="224" width="1" height="18" fill="#32cd32"/>
<rect x="758" y="227" width="1" height="18" fill="#32cd32"/>
<rect x="760" y="234" width="1" height="9" fill="#32cd32"/>
<rect x="762" y="235" width="1" height="15" fill="#32cd32"/>
<rect x="764" y="235" width="1" height="31" fill="#32cd32"/>
<rect x="766" y="230" width="1" height="30" fill="#ff0000"/>
<rect x="768" y="242" width="1" height="34" fill="#32cd32"/>
<rect x="770" y="252" width="1" height="21" fill="#32cd32"/>
<rect x="772" y="253" width="1" height="16" fill="#ff0000"/>
<rect x="774" y="246" width="1" height="19" fill="#ff0000"/>
<rect x="776" y="250" width="1" height="23" fill="#32cd32"/>
<rect x="778" y="241" width="1" height="32" fill="#ff0000"/>
<rect x="780" y="240" width="1" height="87" fill="#32cd32"/>
<rect x="782" y="314" width="1" height="17" fill="#32cd32"/>
<rect x="784" y="320" width="1" height="13" fill="#32cd32"/>
<rect x="786" y="324" width="1" height="15" fill="#32cd32"/>
<rect x="788" y="320" width="1" height="25" fill="#32cd32"/>
<rect x="790" y="318" width="1" height="22" fill="#ff0000"/>
<rect x="792" y="262" width="1" height="76" fill="#ff0000"/>
<rect x="794" y="262" width="1" height="18" fill="#32cd32"/>
<rect x="796" y="275" width="1" height="10" fill="#ff0000"/>
<rect x="798" y="270" width="1" height="14" fill="#ff0000"/>
<rect x="800" y="266" width="1" height="17" fill="#32cd32"/>
<rect x="802" y="271" width="1" height="44" fill="#32cd32"/>
<rect x="804" y="300" width="1" height="42" fill="#32cd32"/>
<rect x="806" y="325" width="1" height="33" fill="#32cd32"/>
<rect x="808" y="352" width="1" height="9" fill="#ff0000"/>
<rect x="810" y="336" width="1" height="19" fill="#ff0000"/>
<rect x="812" y="343" width="1" height="16" fill="#ff0000"/>
<rect x="814" y="311" width="1" height="39" fill="#ff0000"/>
<rect x="816" y="290" width="1" height="30" fill="#ff0000"/>
<rect x="818" y="290" width="1" height="15" fill="#32cd32"/>
<rect x="820" y="291" width="1" height="16" fill="#ff0000"/>
<rect x="822" y="289" width="1" height="19" fill="#32cd32"/>
<rect x="824" y="295" width="1" height="14" fill="#ff0000"/>
<rect x="826" y="299" width="1" height="43" fill="#32cd32"/>
<rect x="828" y="303" width="1" height="33" fill="#ff0000"/>
<rect x="830" y="300" width="1" height="42" fill="#32cd32"/>
<rect x="832" y="314" width="1" height="16" fill="#ff0000"/>
<rect x="834" y="317" width="1" height="18" fill="#ff0000"/>
<rect x="836" y="301" width="1" height="25" fill="#ff0000"/>
<rect x="838" y="297" width="1" height="28" fill="#32cd32"/>
<rect x="840" y="296" width="1" height="30" fill="#32cd32"/>
<rect x="842" y="306" width="1" height="18" fill="#32cd32"/>
<rect x="844" y="308" width="1" height="16" fill="#ff0000"/>
<rect x="846" y="306" width="1" height="18" fill="#ff0000"/>
<rect x="848" y="306" width="1" height="17" fill="#ff0000"/>
<rect x="850" y="265" width="1" height="50" fill="#ff0000"/>
<rect x="852" y="262" width="1" height="53" fill="#32cd32"/>
<rect x="854" y="305" width="1" height="28" fill="#32cd32"/>
<rect x="856" y="319" width="1" height="8" fill="#32cd32"/>
<rect x="858" y="303" width="1" height="23" fill="#ff0000"/>
<rect x="860" y="295" width="1" height="20" fill="#ff0000"/>
<rect x="862" y="282" width="1" height="32" fill="#ff0000"/>
<rect x="864" y="281" width="1" height="28" fill="#32cd32"/>
<rect x="866" y="301" width="1" height="13" fill="#32cd32"/>
<rect x="868" y="303" width="1" height="12" fill="#32cd32"/>
<rect x="870" y="304" width="1" height="13" fill="#ff0000"/>
<rect x="872" y="312" width="1" height="17" fill="#ff0000"/>
<rect x="874" y="290" width="1" height="27" fill="#ff0000"/>
<rect x="876" y="287" width="1" height="36" fill="#32cd32"/>
<rect x="878" y="300" width="1" height="38" fill="#32cd32"/>
<rect x="880" y="330" width="1" height="14" fill="#32cd32"/>
<rect x="882" y="324" width="1" height="15" fill="#ff0000"/>
<rect x="884" y="304" width="1" height="25" fill="#ff0000"/>
<rect x="886" y="296" width="1" height="29" fill="#ff0000"/>
<rect x="888" y="268" width="1" height="56" fill="#ff0000"/>
<rect x="890" y="250" width="1" height="41" fill="#ff0000"/>
<rect x="892" y="249" width="1" height="12" fill="#ff0000"/>
<rect x="894" y="248" width="1" height="12" fill="#ff0000"/>
<rect x="896" y="246" width="1" height="12" fill="#ff0000"/>
<rect x="898" y="220" width="1" height="27" fill="#ff0000"/>
<rect x="900" y="207" width="1" height="28" fill="#32cd32"/>
<rect x="902" y="211" width="1" height="22" fill="#ff0000"/>
<rect x="904" y="213" width="1" height="16" fill="#32cd32"/>
<rect x="906" y="201" width="1" height="23" fill="#ff0000"/>
<rect x="908" y="205" width="1" height="18" fill="#32cd32"/>
<rect x="910" y="195" width="1" height="30" fill="#ff0000"/>
<rect x="912" y="192" width="1" height="36" fill="#32cd32"/>
<rect x="914" y="216" width="1" height="17" fill="#32cd32"/>
<rect x="916" y="219" width="1" height="9" fill="#ff0000"/>
<rect x="918" y="220" width="1" height="31" fill="#32cd32"/>
<rect x="920" y="225" width="1" height="21" fill="#ff0000"/>
<rect x="922" y="219" width="1" height="23" fill="#32cd32"/>
<rect x="924" y="207" width="1" height="33" fill="#ff0000"/>
<rect x="926" y="182" width="1" height="43" fill="#ff0000"/>
<rect x="928" y="170" width="1" height="18" fill="#ff0000"/>
<rect x="930" y="169" width="1" height="6" fill="#32cd32"/>
</g>
<g shape-rendering="crispEdges">
<rect x="5" y="494" width="2" height="31" fill="#c0c0c0"/>
<rect x="7" y="494" width="2" height="31" fill="#c0c0c0"/>
<rect x="9" y="494" width="2" height="31" fill="#c0c0c0"/>
<rect x="11" y="494" width="2" height="30" fill="#c0c0c0"/>
<rect x="13" y="494" width="2" height="29" fill="#c0c0c0"/>
<rect x="15" y="494" width="2" height="28" fill="#c0c0c0"/>
<rect x="17" y="494" width="2" height="28" fill="#c0c0c0"/>
<rect x="19" y="494" width="2" height="27" fill="#c0c0c0"/>
<rect x="21" y="494" width="2" height="27" fill="#c0c0c0"/>
<rect x="23" y="494" width="2" height="26" fill="#c0c0c0"/>
<rect x="25" y="494" width="2" height="25" fill="#c0c0c0"/>
<rect x="27" y="494" width="2" height="24" fill="#c0c0c0"/>
<rect x="29" y="494" width="2" height="23" fill="#c0c0c0"/>
<rect x="31" y="494" width="2" height="22" fill="#c0c0c0"/>
<rect x="33" y="494" width="2" height="23" fill="#c0c0c0"/>
<rect x="35" y="494" width="2" height="22" fill="#c0c0c0"/>
<rect x="37" y="494" width="2" height="21" fill="#c0c0c0"/>
<rect x="39" y="494" width="2" height="20" fill="#c0c0c0"/>
<rect x="41" y="494" width="2" height="19" fill="#c0c0c0"/>
<rect x="43" y="494" width="2" height="19" fill="#c0c0c0"/>
<rect x="45" y="494" width="2" height="18" fill="#c0c0c0"/>
<rect x="47" y="494" width="2" height="15" fill="#c0c0c0"/>
<rect x="49" y="494" width="2" height="13" fill="#c0c0c0"/>
<rect x="51" y="494" width="2" height="11" fill="#c0c0c0"/>
<rect x="53" y="494" width="2" height="9" fill="#c0c0c0"/>
<rect x="55" y="494" width="2" height="8" fill="#c0c0c0"/>
<rect x="57" y="494" width="2" height="7" fill="#c0c0c0"/>
<rect x="59" y="494" width="2" height="6" fill="#c0c0c0"/>
<rect x="61" y="494" width="2" height="5" fill="#c0c0c0"/>
<rect x="63" y="494" width="2" height="4" fill="#c0c0c0"/>
<rect x="65" y="494" width="2" height="3" fill="#c0c0c0"/>
<rect x="67" y="494" width="2" height="2" fill="#c0c0c0"/>
<rect x="69" y="494" width="2" height="1" fill="#c0c0c0"/>
<rect x="71" y="488" width="2" height="7" fill="#c0c0c0"/>
<rect x="73" y="482" width="2" height="13" fill="#c0c0c0"/>
<rect x="75" y="478" width="2" height="17" fill="#c0c0c0"/>
<rect x="77" y="475" width="2" height="20" fill="#c0c0c0"/>
<rect x="79" y="473" width="2" height="22" fill="#c0c0c0"/>
<rect x="81" y="470" width="2" height="25" fill="#c0c0c0"/>
<rect x="83" y="467" width="2" height="28" fill="#c0c0c0"/>
<rect x="85" y="464" width="2" height="31" fill="#c0c0c0"/>
<rect x="87" y="461" width="2" height="34" fill="#c0c0c0"/>
<rect x="89" y="460" width="2" height="35" fill="#c0c0c0"/>
<rect x="91" y="458" width="2" height="37" fill="#c0c0c0"/>
<rect x="93" y="457" width="2" height="38" fill="#c0c0c0"/>
<rect x="95" y="455" width="2" height="40" fill="#c0c0c0"/>
<rect x="97" y="454" width="2" height="41" fill="#c0c0c0"/>
<rect x="99" y="455" width="2" height="40" fill="#c0c0c0"/>
<rect x="101" y="455" width="2" height="40" fill="#c0c0c0"/>
<rect x="103" y="456" width="2" height="39" fill="#c0c0c0"/>
<rect x="105" y="456" width="2" height="39" fill="#c0c0c0"/>
<rect x="107" y="459" width="2" height="36" fill="#c0c0c0"/>
<rect x="109" y="462" width="2" height="33" fill="#c0c0c0"/>
<rect x="111" y="464" width="2" height="31" fill="#c0c0c0"/>
<rect x="113" y="466" width="2" height="29" fill="#c0c0c0"/>
<rect x="115" y="467" width="2" height="28" fill="#c0c0c0"/>
<rect x="117" y="469" width="2" height="26" fill="#c0c0c0"/>
<rect x="119" y="469" width="2" height="26" fill="#c0c0c0"/>
<rect x="121" y="470" width="2" height="25" fill="#c0c0c0"/>
<rect x="123" y="471" width="2" height="24" fill="#c0c0c0"/>
<rect x="125" y="471" width="2" height="24" fill="#c0c0c0"/>
<rect x="127" y="473" width="2" height="22" fill="#c0c0c0"/>
<rect x="129" y="475" width="2" height="20" fill="#c0c0c0"/>
<rect x="131" y="481" width="2" height="14" fill="#c0c0c0"/>
<rect x="133" y="487" width="2" height="8" fill="#c0c0c0"/>
<rect x="135" y="491" width="2" height="4" fill="#c0c0c0"/>
<rect x="137" y="494" width="2" height="1" fill="#c0c0c0"/>
<rect x="139" y="494" width="2" height="4" fill="#c0c0c0"/>
<rect x="141" y="494" width="2" height="8" fill="#c0c0c0"/>
<rect x="143" y="494" width="2" height="12" fill="#c0c0c0"/>
<rect x="145" y="494" width="2" height="15" fill="#c0c0c0"/>
<rect x="147" y="494" width="2" height="17" fill="#c0c0c0"/>
<rect x="149" y="494" width="2" height="18" fill="#c0c0c0"/>
<rect x="151" y="494" width="2" height="20" fill="#c0c0c0"/>
<rect x="153" y="494" width="2" height="21" fill="#c0c0c0"/>
<rect x="155" y="494" width="2" height="20" fill="#c0c0c0"/>
<rect x="157" y="494" width="2" height="18" fill="#c0c0c0"/>
<rect x="159" y="494" width="2" height="17" fill="#c0c0c0"/>
<rect x="161" y="494" width="2" height="16" fill="#c0c0c0"/>
<rect x="163" y="494" width="2" height="15" fill="#c0c0c0"/>
<rect x="165" y="494" width="2" height="13" fill="#c0c0c0"/>
<rect x="167" y="494" width="2" height="9" fill="#c0c0c0"/>
<rect x="169" y="494" width="2" height="7" fill="#c0c0c0"/>
<rect x="171" y="494" width="2" height="5" fill="#c0c0c0"/>
<rect x="173" y="494" width="2" height="1" fill="#c0c0c0"/>
<rect x="175" y="493" width="2" height="2" fill="#c0c0c0"/>
<rect x="177" y="492" width="2" height="3" fill="#c0c0c0"/>
<rect x="179" y="491" width="2" height="4" fill="#c0c0c0"/>
<rect x="181" y="490" width="2" height="5" fill="#c0c0c0"/>
<rect x="183" y="489" width="2" height="6" fill="#c0c0c0"/>
<rect x="185" y="489" width="2" height="6" fill="#c0c0c0"/>
<rect x="187" y="490" width="2" height="5" fill="#c0c0c0"/>
<rect x="189" y="490" width="2" height="5" fill="#c0c0c0"/>
<rect x="191" y="490" width="2" height="5" fill="#c0c0c0"/>
<rect x="193" y="490" width="2" height="5" fill="#c0c0c0"/>
<rect x="195" y="491" width="2" height="4" fill="#c0c0c0"/>
<rect x="197" y="492" width="2" height="3" fill="#c0c0c0"/>
<rect x="199" y="494" width="2" height="1" fill="#c0c0c0"/>
<rect x="201" y="494" width="2" height="1" fill="#c0c0c0"/>
<rect x="203" y="494" width="2" height="2" fill="#c0c0c0"/>
<rect x="205" y="494" width="2" height="5" fill="#c0c0c0"/>
<rect x="207" y="494" width="2" height="8" fill="#c0c0c0"/>
<rect x="209" y="494" width="2" height="9" fill="#c0c0c0"/>
<rect x="211" y="494" width="2" height="10" fill="#c0c0c0"/>
<rect x="213" y="494" width="2" height="10" fill="#c0c0c0"/>
<rect x="215" y="494" width="2" height="11" fill="#c0c0c0"/>
<rect x="217" y="494" width="2" height="11" fill="#c0c0c0"/>
<rect x="219" y="494" width="2" height="11" fill="#c0c0c0"/>
<rect x="221" y="494" width="2" height="10" fill="#c0c0c0"/>
<rect x="223" y="494" width="2" height="9" fill="#c0c0c0"/>
<rect x="225" y="494" width="2" height="8" fill="#c0c0c0"/>
<rect x="227" y="494" width="2" height="8" fill="#c0c0c0"/>
<rect x="229" y="494" width="2" height="7" fill="#c0c0c0"/>
<rect x="231" y="494" width="2" height="7" fill="#c0c0c0"/>
<rect x="233" y="494" width="2" height="6" fill="#c0c0c0"/>
<rect x="235" y="494" width="2" height="4" fill="#c0c0c0"/>
<rect x="237" y="494" width="2" height="1" fill="#c0c0c0"/>
<rect x="239" y="492" width="2" height="3" fill="#c0c0c0"/>
<rect x="241" y="489" width="2" height="6" fill="#c0c0c0"/>
<rect x="243" y="489" width="2" height="6" fill="#c0c0c0"/>
<rect x="245" y="488" width="2" height="7" fill="#c0c0c0"/>
<rect x="247" y="488" width="2" height="7" fill="#c0c0c0"/>
<rect x="249" y="487" width="2" height="8" fill="#c0c0c0"/>
<rect x="251" y="489" width="2" height="6" fill="#c0c0c0"/>
<rect x="253" y="494" width="2" height="1" fill="#c0c0c0"/>
<rect x="255" y="494" width="2" height="4" fill="#c0c0c0"/>
<rect x="257" y="494" width="2" height="7" fill="#c0c0c0"/>
<rect x="259" y="494" width="2" height="8" fill="#c0c0c0"/>
<rect x="261" y="494" width="2" height="6" fill="#c0c0c0"/>
<rect x="263" y="494" width="2" height="3" fill="#c0c0c0"/>
<rect x="265" y="494" width="2" height="1" fill="#c0c0c0"/>
<rect x="267" y="493" width="2" height="2" fill="#c0c0c0"/>
<rect x="269" y="493" width="2" height="2" fill="#c0c0c0"/>
<rect x="271" y="493" width="2" height="2" fill="#c0c0c0"/>
<rect x="273" y="494" width="2" height="2" fill="#c0c0c0"/>
<rect x="275" y="494" width="2" height="1" fill="#c0c0c0"/>
<rect x="277" y="494" width="2" height="1" fill="#c0c0c0"/>
<rect x="279" y="494" width="2" height="1" fill="#c0c0c0"/>
<rect x="281" y="492" width="2" height="3" fill="#c0c0c0"/>
<rect x="283" y="490" width="2" height="5" fill="#c0c0c0"/>
<rect x="285" y="490" width="2" height="5" fill="#c0c0c0"/>
<rect x="287" y="491" width="2" height="4" fill="#c0c0c0"/>
<rect x="289" y="491" width="2" height="4" fill="#c0c0c0"/>
<rect x="291" y="493" width="2" height="2" fill="#c0c0c0"/>
<rect x="293" y="493" width="2" height="2" fill="#c0c0c0"/>
<rect x="295" y="494" width="2" height="1" fill="#c0c0c0"/>
<rect x="297" y="494" width="2" height="1" fill="#c0c0c0"/>
<rect x="299" y="494" width="2" height="1" fill="#c0c0c0"/>
<rect x="301" y="494" width="2" height="1" fill="#c0c0c0"/>
<rect x="303" y="494" width="2" height="2" fill="#c0c0c0"/>
<rect x="305" y="494" width="2" height="3" fill="#c0c0c0"/>
<rect x="307" y="494" width="2" height="4" fill="#c0c0c0"/>
<rect x="309" y="494" width="2" height="3" fill="#c0c0c0"/>
<rect x="311" y="494" width="2" height="4" fill="#c0c0c0"/>
<rect x="313" y="494" width="2" height="5" fill="#c0c0c0"/>
<rect x="315" y="494" width="2" height="6" fill="#c0c0c0"/>
<rect x="317" y="494" width="2" height="5" fill="#c0c0c0"/>
<rect x="319" y="494" width="2" height="3" fill="#c0c0c0"/>
<rect x="321" y="494" width="2" height="2" fill="#c0c0c0"/>
<rect x="323" y="494" width="2" height="1" fill="#c0c0c0"/>
<rect x="325" y="494" width="2" height="1" fill="#c0c0c0"/>
<rect x="327" y="494" width="2" height="1" fill="#c0c0c0"/>
<rect x="329" y="494" width="2" height="2" fill="#c0c0c0"/>
<rect x="331" y="494" width="2" height="1" fill="#c0c0c0"/>
<rect x="333" y="494" width="2" height="1" fill="#c0c0c0"/>
<rect x="335" y="492" width="2" height="3" fill="#c0c0c0"/>
<rect x="337" y="489" width="2" height="6" fill="#c0c0c0"/>
<rect x="339" y="487" width="2" height="8" fill="#c0c0c0"/>
<rect x="341" y="485" width="2" height="10" fill="#c0c0c0"/>
<rect x="343" y="484" width="2" height="11" fill="#c0c0c0"/>
<rect x="345" y="482" width="2" height="13" fill="#c0c0c0"/>
<rect x="347" y="479" width="2" height="16" fill="#c0c0c0"/>
<rect x="349" y="478" width="2" height="17" fill="#c0c0c0"/>
<rect x="351" y="477" width="2" height="18" fill="#c0c0c0"/>
<rect x="353" y="477" width="2" height="18" fill="#c0c0c0"/>
<rect x="355" y="478" width="2" height="17" fill="#c0c0c0"/>
<rect x="357" y="481" width="2" height="14" fill="#c0c0c0"/>
<rect x="359" y="482" width="2" height="13" fill="#c0c0c0"/>
<rect x="361" y="485" width="2" height="10" fill="#c0c0c0"/>
<rect x="363" y="487" width="2" height="8" fill="#c0c0c0"/>
<rect x="365" y="489" width="2" height="6" fill="#c0c0c0"/>
<rect x="367" y="491" width="2" height="4" fill="#c0c0c0"/>
<rect x="369" y="492" width="2" height="3" fill="#c0c0c0"/>
<rect x="371" y="493" width="2" height="2" fill="#c0c0c0"/>
<rect x="373" y="493" width="2" height="2" fill="#c0c0c0"/>
<rect x="375" y="493" width="2" height="2" fill="#c0c0c0"/>
<rect x="377" y="492" width="2" height="3" fill="#c0c0c0"/>
<rect x="379" y="490" width="2" height="5" fill="#c0c0c0"/>
<rect x="381" y="487" width="2" height="8" fill="#c0c0c0"/>
<rect x="383" y="486" width="2" height="9" fill="#c0c0c0"/>
<rect x="385" y="484" width="2" height="11" fill="#c0c0c0"/>
<rect x="387" y="483" width="2" height="12" fill="#c0c0c0"/>
<rect x="389" y="483" width="2" height="12" fill="#c0c0c0"/>
<rect x="391" y="483" width="2" height="12" fill="#c0c0c0"/>
<rect x="393" y="483" width="2" height="12" fill="#c0c0c0"/>
<rect x="395" y="484" width="2" height="11" fill="#c0c0c0"/>
<rect x="397" y="486" width="2" height="9" fill="#c0c0c0"/>
<rect x="399" y="487" width="2" height="8" fill="#c0c0c0"/>
<rect x="401" y="488" width="2" height="7" fill="#c0c0c0"/>
<rect x="403" y="489" width="2" height="6" fill="#c0c0c0"/>
<rect x="405" y="491" width="2" height="4" fill="#c0c0c0"/>
<rect x="407" y="492" width="2" height="3" fill="#c0c0c0"/>
<rect x="409" y="492" width="2" height="3" fill="#c0c0c0"/>
<rect x="411" y="492" width="2" height="3" fill="#c0c0c0"/>
<rect x="413" y="492" width="2" height="3" fill="#c0c0c0"/>
<rect x="415" y="491" width="2" height="4" fill="#c0c0c0"/>
<rect x="417" y="488" width="2" height="7" fill="#c0c0c0"/>
<rect x="419" y="483" width="2" height="12" fill="#c0c0c0"/>
<rect x="421" y="480" width="2" height="15" fill="#c0c0c0"/>
<rect x="423" y="477" width="2" height="18" fill="#c0c0c0"/>
<rect x="425" y="476" width="2" height="19" fill="#c0c0c0"/>
<rect x="427" y="474" width="2" height="21" fill="#c0c0c0"/>
<rect x="429" y="473" width="2" height="22" fill="#c0c0c0"/>
<rect x="431" y="470" width="2" height="25" fill="#c0c0c0"/>
<rect x="433" y="467" width="2" height="28" fill="#c0c0c0"/>
<rect x="435" y="464" width="2" height="31" fill="#c0c0c0"/>
<rect x="437" y="462" width="2" height="33" fill="#c0c0c0"/>
<rect x="439" y="462" width="2" height="33" fill="#c0c0c0"/>
<rect x="441" y="463" width="2" height="32" fill="#c0c0c0"/>
<rect x="443" y="466" width="2" height="29" fill="#c0c0c0"/>
<rect x="445" y="469" width="2" height="26" fill="#c0c0c0"/>
<rect x="447" y="472" width="2" height="23" fill="#c0c0c0"/>
<rect x="449" y="474" width="2" height="21" fill="#c0c0c0"/>
<rect x="451" y="477" width="2" height="18" fill="#c0c0c0"/>
<rect x="453" y="480" width="2" height="15" fill="#c0c0c0"/>
<rect x="455" y="485" width="2" height="10" fill="#c0c0c0"/>
<rect x="457" y="488" width="2" height="7" fill="#c0c0c0"/>
<rect x="459" y="491" width="2" height="4" fill="#c0c0c0"/>
<rect x="461" y="492" width="2" height="3" fill="#c0c0c0"/>
<rect x="463" y="494" width="2" height="1" fill="#c0c0c0"/>
<rect x="465" y="494" width="2" height="4" fill="#c0c0c0"/>
<rect x="467" y="494" width="2" height="6" fill="#c0c0c0"/>
<rect x="469" y="494" width="2" height="5" fill="#c0c0c0"/>
<rect x="471" y="494" width="2" height="4" fill="#c0c0c0"/>
<rect x="473" y="494" width="2" height="3" fill="#c0c0c0"/>
<rect x="475" y="494" width="2" height="3" fill="#c0c0c0"/>
<rect x="477" y="494" width="2" height="1" fill="#c0c0c0"/>
<rect x="479" y="494" width="2" height="1" fill="#c0c0c0"/>
<rect x="481" y="494" width="2" height="1" fill="#c0c0c0"/>
<rect x="483" y="494" width="2" height="1" fill="#c0c0c0"/>
<rect x="485" y="494" width="2" height="1" fill="#c0c0c0"/>
<rect x="487" y="494" width="2" height="1" fill="#c0c0c0"/>
<rect x="489" y="494" width="2" height="1" fill="#c0c0c0"/>
<rect x="491" y="494" width="2" height="1" fill="#c0c0c0"/>
<rect x="493" y="494" width="2" height="1" fill="#c0c0c0"/>
<rect x="495" y="494" width="2" height="1" fill="#c0c0c0"/>
<rect x="497" y="494" width="2" height="1" fill="#c0c0c0"/>
<rect x="499" y="492" width="2" height="3" fill="#c0c0c0"/>
<rect x="501" y="491" width="2" height="4" fill="#c0c0c0"/>
<rect x="503" y="491" width="2" height="4" fill="#c0c0c0"/>
<rect x="505" y="491" width="2" height="4" fill="#c0c0c0"/>
<rect x="507" y="491" width="2" height="4" fill="#c0c0c0"/>
<rect x="509" y="491" width="2" height="4" fill="#c0c0c0"/>
<rect x="511" y="489" width="2" height="6" fill="#c0c0c0"/>
<rect x="513" y="488" width="2" height="7" fill="#c0c0c0"/>
<rect x="515" y="486" width="2" height="9" fill="#c0c0c0"/>
<rect x="517" y="485" width="2" height="10" fill="#c0c0c0"/>
<rect x="519" y="484" width="2" height="11" fill="#c0c0c0"/>
<rect x="521" y="482" width="2" height="13" fill="#c0c0c0"/>
<rect x="523" y="482" width="2" height="13" fill="#c0c0c0"/>
<rect x="525" y="482" width="2" height="13" fill="#c0c0c0"/>
<rect x="527" y="480" width="2" height="15" fill="#c0c0c0"/>
<rect x="529" y="476" width="2" height="19" fill="#c0c0c0"/>
<rect x="531" y="474" width="2" height="21" fill="#c0c0c0"/>
<rect x="533" y="473" width="2" height="22" fill="#c0c0c0"/>
<rect x="535" y="472" width="2" height="23" fill="#c0c0c0"/>
<rect x="537" y="470" width="2" height="25" fill="#c0c0c0"/>
<rect x="539" y="471" width="2" height="24" fill="#c0c0c0"/>
<rect x="541" y="472" width="2" height="23" fill="#c0c0c0"/>
<rect x="543" y="474" width="2" height="21" fill="#c0c0c0"/>
<rect x="545" y="476" width="2" height="19" fill="#c0c0c0"/>
<rect x="547" y="478" width="2" height="17" fill="#c0c0c0"/>
<rect x="549" y="480" width="2" height="15" fill="#c0c0c0"/>
<rect x="551" y="483" width="2" height="12" fill="#c0c0c0"/>
<rect x="553" y="486" width="2" height="9" fill="#c0c0c0"/>
<rect x="555" y="487" width="2" height="8" fill="#c0c0c0"/>
<rect x="557" y="489" width="2" height="6" fill="#c0c0c0"/>
<rect x="559" y="489" width="2" height="6" fill="#c0c0c0"/>
<rect x="561" y="492" width="2" height="3" fill="#c0c0c0"/>
<rect x="563" y="494" width="2" height="4" fill="#c0c0c0"/>
<rect x="565" y="494" width="2" height="8" fill="#c0c0c0"/>
<rect x="567" y="494" width="2" height="11" fill="#c0c0c0"/>
<rect x="569" y="494" width="2" height="11" fill="#c0c0c0"/>
<rect x="571" y="494" width="2" height="11" fill="#c0c0c0"/>
<rect x="573" y="494" width="2" height="11" fill="#c0c0c0"/>
<rect x="575" y="494" width="2" height="10" fill="#c0c0c0"/>
<rect x="577" y="494" width="2" height="9" fill="#c0c0c0"/>
<rect x="579" y="494" width="2" height="8" fill="#c0c0c0"/>
<rect x="581" y="494" width="2" height="6" fill="#c0c0c0"/>
<rect x="583" y="494" width="2" height="4" fill="#c0c0c0"/>
<rect x="585" y="494" width="2" height="3" fill="#c0c0c0"/>
<rect x="587" y="494" width="2" height="3" fill="#c0c0c0"/>
<rect x="589" y="494" width="2" height="4" fill="#c0c0c0"/>
<rect x="591" y="494" width="2" height="4" fill="#c0c0c0"/>
<rect x="593" y="494" width="2" height="4" fill="#c0c0c0"/>
<rect x="595" y="494" width="2" height="5" fill="#c0c0c0"/>
<rect x="597" y="494" width="2" height="6" fill="#c0c0c0"/>
<rect x="599" y="494" width="2" height="6" fill="#c0c0c0"/>
<rect x="601" y="494" width="2" height="5" fill="#c0c0c0"/>
<rect x="603" y="494" width="2" height="4" fill="#c0c0c0"/>
<rect x="605" y="494" width="2" height="3" fill="#c0c0c0"/>
<rect x="607" y="494" width="2" height="1" fill="#c0c0c0"/>
<rect x="609" y="494" width="2" height="1" fill="#c0c0c0"/>
<rect x="611" y="494" width="2" height="2" fill="#c0c0c0"/>
<rect x="613" y="494" width="2" height="3" fill="#c0c0c0"/>
<rect x="615" y="494" width="2" height="3" fill="#c0c0c0"/>
<rect x="617" y="494" width="2" height="3" fill="#c0c0c0"/>
<rect x="619" y="494" width="2" height="4" fill="#c0c0c0"/>
<rect x="621" y="494" width="2" height="4" fill="#c0c0c0"/>
<rect x="623" y="494" width="2" height="5" fill="#c0c0c0"/>
<rect x="625" y="494" width="2" height="4" fill="#c0c0c0"/>
<rect x="627" y="494" width="2" height="4" fill="#c0c0c0"/>
<rect x="629" y="494" width="2" height="3" fill="#c0c0c0"/>
<rect x="631" y="494" width="2" height="4" fill="#c0c0c0"/>
<rect x="633" y="494" width="2" height="3" fill="#c0c0c0"/>
<rect x="635" y="494" width="2" height="1" fill="#c0c0c0"/>
<rect x="637" y="491" width="2" height="4" fill="#c0c0c0"/>
<rect x="639" y="490" width="2" height="5" fill="#c0c0c0"/>
<rect x="641" y="490" width="2" height="5" fill="#c0c0c0"/>
<rect x="643" y="490" width="2" height="5" fill="#c0c0c0"/>
<rect x="645" y="491" width="2" height="4" fill="#c0c0c0"/>
<rect x="647" y="493" width="2" height="2" fill="#c0c0c0"/>
<rect x="649" y="494" width="2" height="4" fill="#c0c0c0"/>
<rect x="651" y="494" width="2" height="6" fill="#c0c0c0"/>
<rect x="653" y="494" width="2" height="9" fill="#c0c0c0"/>
<rect x="655" y="494" width="2" height="12" fill="#c0c0c0"/>
<rect x="657" y="494" width="2" height="16" fill="#c0c0c0"/>
<rect x="659" y="494" width="2" height="16" fill="#c0c0c0"/>
<rect x="661" y="494" width="2" height="15" fill="#c0c0c0"/>
<rect x="663" y="494" width="2" height="15" fill="#c0c0c0"/>
<rect x="665" y="494" width="2" height="14" fill="#c0c0c0"/>
<rect x="667" y="494" width="2" height="14" fill="#c0c0c0"/>
<rect x="669" y="494" width="2" height="12" fill="#c0c0c0"/>
<rect x="671" y="494" width="2" height="12" fill="#c0c0c0"/>
<rect x="673" y="494" width="2" height="12" fill="#c0c0c0"/>
<rect x="675" y="494" width="2" height="12" fill="#c0c0c0"/>
<rect x="677" y="494" width="2" height="11" fill="#c0c0c0"/>
<rect x="679" y="494" width="2" height="9" fill="#c0c0c0"/>
<rect x="681" y="494" width="2" height="8" fill="#c0c0c0"/>
<rect x="683" y="494" width="2" height="8" fill="#c0c0c0"/>
<rect x="685" y="494" width="2" height="9" fill="#c0c0c0"/>
<rect x="687" y="494" width="2" height="9" fill="#c0c0c0"/>
<rect x="689" y="494" width="2" height="9" fill="#c0c0c0"/>
<rect x="691" y="494" width="2" height="12" fill="#c0c0c0"/>
<rect x="693" y="494" width="2" height="14" fill="#c0c0c0"/>
<rect x="695" y="494" width="2" height="13" fill="#c0c0c0"/>
<rect x="697" y="494" width="2" height="12" fill="#c0c0c0"/>
<rect x="699" y="494" width="2" height="11" fill="#c0c0c0"/>
<rect x="701" y="494" width="2" height="9" fill="#c0c0c0"/>
<rect x="703" y="494" width="2" height="7" fill="#c0c0c0"/>
<rect x="705" y="494" width="2" height="6" fill="#c0c0c0"/>
<rect x="707" y="494" width="2" height="8" fill="#c0c0c0"/>
<rect x="709" y="494" width="2" height="10" fill="#c0c0c0"/>
<rect x="711" y="494" width="2" height="12" fill="#c0c0c0"/>
<rect x="713" y="494" width="2" height="13" fill="#c0c0c0"/>
<rect x="715" y="494" width="2" height="13" fill="#c0c0c0"/>
<rect x="717" y="494" width="2" height="15" fill="#c0c0c0"/>
<rect x="719" y="494" width="2" height="16" fill="#c0c0c0"/>
<rect x="721" y="494" width="2" height="16" fill="#c0c0c0"/>
<rect x="723" y="494" width="2" height="16" fill="#c0c0c0"/>
<rect x="725" y="494" width="2" height="17" fill="#c0c0c0"/>
<rect x="727" y="494" width="2" height="17" fill="#c0c0c0"/>
<rect x="729" y="494" width="2" height="17" fill="#c0c0c0"/>
<rect x="731" y="494" width="2" height="18" fill="#c0c0c0"/>
<rect x="733" y="494" width="2" height="18" fill="#c0c0c0"/>
<rect x="735" y="494" width="2" height="18" fill="#c0c0c0"/>
<rect x="737" y="494" width="2" height="18" fill="#c0c0c0"/>
<rect x="739" y="494" width="2" height="17" fill="#c0c0c0"/>
<rect x="741" y="494" width="2" height="15" fill="#c0c0c0"/>
<rect x="743" y="494" width="2" height="12" fill="#c0c0c0"/>
<rect x="745" y="494" width="2" height="10" fill="#c0c0c0"/>
<rect x="747" y="494" width="2" height="8" fill="#c0c0c0"/>
<rect x="749" y="494" width="2" height="6" fill="#c0c0c0"/>
<rect x="751" y="494" width="2" height="4" fill="#c0c0c0"/>
<rect x="753" y="494" width="2" height="3" fill="#c0c0c0"/>
<rect x="755" y="494" width="2" height="3" fill="#c0c0c0"/>
<rect x="757" y="494" width="2" height="3" fill="#c0c0c0"/>
<rect x="759" y="494" width="2" height="2" fill="#c0c0c0"/>
<rect x="761" y="494" width="2" height="2" fill="#c0c0c0"/>
<rect x="763" y="494" width="2" height="3" fill="#c0c0c0"/>
<rect x="765" y="494" width="2" height="2" fill="#c0c0c0"/>
<rect x="767" y="494" width="2" height="4" fill="#c0c0c0"/>
<rect x="769" y="494" width="2" height="5" fill="#c0c0c0"/>
<rect x="771" y="494" width="2" height="5" fill="#c0c0c0"/>
<rect x="773" y="494" width="2" height="5" fill="#c0c0c0"/>
<rect x="775" y="494" width="2" height="6" fill="#c0c0c0"/>
<rect x="777" y="494" width="2" height="6" fill="#c0c0c0"/>
<rect x="779" y="494" width="2" height="8" fill="#c0c0c0"/>
<rect x="781" y="494" width="2" height="12" fill="#c0c0c0"/>
<rect x="783" y="494" width="2" height="16" fill="#c0c0c0"/>
<rect x="785" y="494" width="2" height="18" fill="#c0c0c0"/>
<rect x="787" y="494" width="2" height="21" fill="#c0c0c0"/>
<rect x="789" y="494" width="2" height="21" fill="#c0c0c0"/>
<rect x="791" y="494" width="2" height="18" fill="#c0c0c0"/>
<rect x="793" y="494" width="2" height="15" fill="#c0c0c0"/>
<rect x="795" y="494" width="2" height="13" fill="#c0c0c0"/>
<rect x="797" y="494" width="2" height="11" fill="#c0c0c0"/>
<rect x="799" y="494" width="2" height="10" fill="#c0c0c0"/>
<rect x="801" y="494" width="2" height="10" fill="#c0c0c0"/>
<rect x="803" y="494" width="2" height="13" fill="#c0c0c0"/>
<rect x="805" y="494" width="2" height="15" fill="#c0c0c0"/>
<rect x="807" y="494" width="2" height="18" fill="#c0c0c0"/>
<rect x="809" y="494" width="2" height="19" fill="#c0c0c0"/>
<rect x="811" y="494" width="2" height="20" fill="#c0c0c0"/>
<rect x="813" y="494" width="2" height="19" fill="#c0c0c0"/>
<rect x="815" y="494" width="2" height="15" fill="#c0c0c0"/>
<rect x="817" y="494" width="2" height="13" fill="#c0c0c0"/>
<rect x="819" y="494" width="2" height="11" fill="#c0c0c0"/>
<rect x="821" y="494" width="2" height="9" fill="#c0c0c0"/>
<rect x="823" y="494" width="2" height="8" fill="#c0c0c0"/>
<rect x="825" y="494" width="2" height="9" fill="#c0c0c0"/>
<rect x="827" y="494" width="2" height="8" fill="#c0c0c0"/>
<rect x="829" y="494" width="2" height="9" fill="#c0c0c0"/>
<rect x="831" y="494" width="2" height="9" fill="#c0c0c0"/>
<rect x="833" y="494" width="2" height="9" fill="#c0c0c0"/>
<rect x="835" y="494" width="2" height="7" fill="#c0c0c0"/>
<rect x="837" y="494" width="2" height="7" fill="#c0c0c0"/>
<rect x="839" y="494" width="2" height="7" fill="#c0c0c0"/>
<rect x="841" y="494" width="2" height="7" fill="#c0c0c0"/>
<rect x="843" y="494" width="2" height="6" fill="#c0c0c0"/>
<rect x="845" y="494" width="2" height="5" fill="#c0c0c0"/>
<rect x="847" y="494" width="2" height="5" fill="#c0c0c0"/>
<rect x="849" y="494" width="2" height="2" fill="#c0c0c0"/>
<rect x="851" y="494" width="2" height="1" fill="#c0c0c0"/>
<rect x="853" y="494" width="2" height="2" fill="#c0c0c0"/>
<rect x="855" y="494" width="2" height="3" fill="#c0c0c0"/>
<rect x="857" y="494" width="2" height="3" fill="#c0c0c0"/>
<rect x="859" y="494" width="2" height="2" fill="#c0c0c0"/>
<rect x="861" y="493" width="2" height="2" fill="#c0c0c0"/>
<rect x="863" y="493" width="2" height="2" fill="#c0c0c0"/>
<rect x="865" y="493" width="2" height="2" fill="#c0c0c0"/>
<rect x="867" y="494" width="2" height="1" fill="#c0c0c0"/>
<rect x="869" y="494" width="2" height="1" fill="#c0c0c0"/>
<rect x="871" y="494" width="2" height="2" fill="#c0c0c0"/>
<rect x="873" y="493" width="2" height="2" fill="#c0c0c0"/>
<rect x="875" y="494" width="2" height="1" fill="#c0c0c0"/>
<rect x="877" y="494" width="2" height="2" fill="#c0c0c0"/>
<rect x="879" y="494" width="2" height="4" fill="#c0c0c0"/>
<rect x="881" y="494" width="2" height="5" fill="#c0c0c0"/>
<rect x="883" y="494" width="2" height="4" fill="#c0c0c0"/>
<rect x="885" y="494" width="2" height="3" fill="#c0c0c0"/>
<rect x="887" y="494" width="2" height="1" fill="#c0c0c0"/>
<rect x="889" y="491" width="2" height="4" fill="#c0c0c0"/>
<rect x="891" y="488" width="2" height="7" fill="#c0c0c0"/>
<rect x="893" y="485" width="2" height="10" fill="#c0c0c0"/>
<rect x="895" y="483" width="2" height="12" fill="#c0c0c0"/>
<rect x="897" y="480" width="2" height="15" fill="#c0c0c0"/>
<rect x="899" y="478" width="2" height="17" fill="#c0c0c0"/>
<rect x="901" y="475" width="2" height="20" fill="#c0c0c0"/>
<rect x="903" y="474" width="2" height="21" fill="#c0c0c0"/>
<rect x="905" y="472" width="2" height="23" fill="#c0c0c0"/>
<rect x="907" y="472" width="2" height="23" fill="#c0c0c0"/>
<rect x="909" y="471" width="2" height="24" fill="#c0c0c0"/>
<rect x="911" y="471" width="2" height="24" fill="#c0c0c0"/>
<rect x="913" y="472" width="2" height="23" fill="#c0c0c0"/>
<rect x="915" y="473" width="2" height="22" fill="#c0c0c0"/>
<rect x="917" y="475" width="2" height="20" fill="#c0c0c0"/>
<rect x="919" y="477" width="2" height="18" fill="#c0c0c0"/>
<rect x="921" y="478" width="2" height="17" fill="#c0c0c0"/>
<rect x="923" y="478" width="2" height="17" fill="#c0c0c0"/>
<rect x="925" y="477" width="2" height="18" fill="#c0c0c0"/>
<rect x="927" y="474" width="2" height="21" fill="#c0c0c0"/>
<rect x="929" y="473" width="2" height="22" fill="#c0c0c0"/><path fill="#ff0000" d="M6 519h1v1h-1zM7 520h1v1h-1zM8 520h1v1h-1zM9 521h1v1h-1zM10 521h1v1h-1zM11 522h1v1h-1zM12 522h1v1h-1zM13 523h1v1h-1zM14 523h1v1h-1zM15 523h1v1h-1zM16 523h1v1h-1zM17 523h1v1h-1zM18 523h1v1h-1zM19 523h1v1h-1zM20 523h1v1h-1zM21 522h1v1h-1zM22 522h1v1h-1zM23 522h1v1h-1zM24 522h1v1h-1zM25 521h1v1h-1zM26 521h1v1h-1zM27 520h1v1h-1zM28 520h1v1h-1zM29 519h1v1h-1zM30 519h1v1h-1zM31 519h1v1h-1zM32 519h1v1h-1zM33 518h1v1h-1zM34 518h1v1h-1zM35 517h1v1h-1zM36 517h1v1h-1zM37 516h1v1h-1zM38 516h1v1h-1zM39 516h1v1h-1zM40 516h1v1h-1zM41 515h1v1h-1zM42 515h1v1h-1zM43 514h1v1h-1zM44 514h1v1h-1zM45 514h1v1h-1zM46 514h1v1h-1zM47 513h1v1h-1zM48 513h1v1h-1zM49 512h1v1h-1zM50 512h1v1h-1zM51 511h1v1h-1zM52 510h1v1h-1zM53 509h1v1h-1zM54 509h1v1h-1zM55 508h1v1h-1zM56 508h1v1h-1zM57 507h1v1h-1zM58 506h1v1h-1zM59 505h1v1h-1zM60 505h1v1h-1zM61 504h1v1h-1zM62 503h1v1h-1zM63 502h1v1h-1zM64 502h1v1h-1zM65 501h1v1h-1zM66 501h1v1h-1zM67 500h1v1h-1zM68 499h1v1h-1zM69 498h1v1h-1zM70 498h1v1h-1zM71 497h1v1h-1zM72 497h1v1h-1zM73 495h1v2h-1zM74 494h1v1h-1zM75 493h1v1h-1zM76 492h1v1h-1zM77 490h1v2h-1zM78 489h1v1h-1zM79 487h1v2h-1zM80 486h1v1h-1zM81 484h1v2h-1zM82 483h1v1h-1zM83 481h1v2h-1zM84 480h1v1h-1zM85 478h1v2h-1zM86 477h1v1h-1zM87 475h1v2h-1zM88 473h1v2h-1zM89 471h1v2h-1zM90 470h1v1h-1zM91 468h1v2h-1zM92 467h1v1h-1zM93 466h1v1h-1zM94 465h1v1h-1zM95 464h1v1h-1zM96 463h1v1h-1zM97 462h1v1h-1zM98 461h1v1h-1zM99 460h1v1h-1zM100 459h1v1h-1zM101 458h1v1h-1zM102 458h1v1h-1zM103 457h1v1h-1zM104 457h1v1h-1zM105 456h1v1h-1zM106 456h1v1h-1zM107 456h1v1h-1zM108 456h1v1h-1zM109 457h1v1h-1zM110 457h1v1h-1zM111 457h1v1h-1zM112 457h1v1h-1zM113 458h1v1h-1zM114 459h1v1h-1zM115 460h1v1h-1zM116 460h1v1h-1zM117 461h1v1h-1zM118 462h1v1h-1zM119 463h1v1h-1zM120 463h1v1h-1zM121 464h1v1h-1zM122 465h1v1h-1zM123 466h1v1h-1zM124 466h1v1h-1zM125 467h1v1h-1zM126 468h1v1h-1zM127 469h1v1h-1zM128 469h1v1h-1zM129 470h1v1h-1zM130 470h1v1h-1zM131 471h1v1h-1zM132 472h1v1h-1zM133 473h1v1h-1zM134 474h1v1h-1zM135 475h1v1h-1zM136 476h1v1h-1zM137 477h1v2h-1zM138 479h1v1h-1zM139 480h1v2h-1zM140 482h1v1h-1zM141 483h1v2h-1zM142 485h1v2h-1zM143 487h1v2h-1zM144 489h1v1h-1zM145 490h1v2h-1zM146 492h1v2h-1zM147 494h1v2h-1zM148 496h1v2h-1zM149 498h1v2h-1zM150 500h1v2h-1zM151 502h1v1h-1zM152 503h1v1h-1zM153 504h1v2h-1zM154 506h1v1h-1zM155 507h1v1h-1zM156 508h1v1h-1zM157 509h1v1h-1zM158 510h1v1h-1zM159 511h1v1h-1zM160 511h1v1h-1zM161 511h1v1h-1zM162 511h1v1h-1zM163 511h1v1h-1zM164 511h1v1h-1zM165 511h1v1h-1zM166 511h1v1h-1zM167 510h1v1h-1zM168 510h1v1h-1zM169 509h1v1h-1zM170 508h1v1h-1zM171 507h1v1h-1zM172 506h1v1h-1zM173 505h1v1h-1zM174 504h1v1h-1zM175 503h1v1h-1zM176 502h1v1h-1zM177 501h1v1h-1zM178 500h1v1h-1zM179 499h1v1h-1zM180 498h1v1h-1zM181 497h1v1h-1zM182 496h1v1h-1zM183 495h1v1h-1zM184 494h1v1h-1zM185 493h1v1h-1zM186 493h1v1h-1zM187 492h1v1h-1zM188 492h1v1h-1zM189 491h1v1h-1zM190 491h1v1h-1zM191 490h1v1h-1zM192 490h1v1h-1zM193 490h1v1h-1zM194 490h1v1h-1zM195 490h1v1h-1zM196 490h1v1h-1zM197 490h1v1h-1zM198 490h1v1h-1zM199 491h1v1h-1zM200 491h1v1h-1zM201 491h1v1h-1zM202 491h1v1h-1zM203 492h1v1h-1zM204 492h1v1h-1zM205 493h1v1h-1zM206 493h1v1h-1zM207 494h1v1h-1zM208 494h1v1h-1zM209 495h1v1h-1zM210 495h1v1h-1zM211 496h1v1h-1zM212 497h1v1h-1zM213 498h1v1h-1zM214 498h1v1h-1zM215 499h1v1h-1zM216 499h1v1h-1zM217 500h1v1h-1zM218 500h1v1h-1zM219 501h1v1h-1zM220 502h1v1h-1zM221 502h1v1h-1zM222 502h1v1h-1zM223 503h1v1h-1zM224 503h1v1h-1zM225 503h1v1h-1zM226 503h1v1h-1zM227 503h1v1h-1zM228 503h1v1h-1zM229 503h1v1h-1zM230 503h1v1h-1zM231 502h1v1h-1zM232 502h1v1h-1zM233 502h1v1h-1zM234 502h1v1h-1zM235 501h1v1h-1zM236 501h1v1h-1zM237 500h1v1h-1zM238 500h1v1h-1zM239 499h1v1h-1zM240 499h1v1h-1zM241 498h1v1h-1zM242 497h1v1h-1zM243 496h1v1h-1zM244 496h1v1h-1zM245 495h1v1h-1zM246 494h1v1h-1zM247 493h1v1h-1zM248 493h1v1h-1zM249 492h1v1h-1zM250 492h1v1h-1zM251 491h1v1h-1zM252 490h1v1h-1zM253 490h1v1h-1zM254 490h1v1h-1zM255 490h1v1h-1zM256 490h1v1h-1zM257 491h1v1h-1zM258 491h1v1h-1zM259 492h1v1h-1zM260 493h1v1h-1zM261 494h1v1h-1zM262 494h1v1h-1zM263 495h1v1h-1zM264 495h1v1h-1zM265 495h1v1h-1zM266 495h1v1h-1zM267 496h1v1h-1zM268 496h1v1h-1zM269 496h1v1h-1zM270 496h1v1h-1zM271 496h1v1h-1zM272 496h1v1h-1zM273 496h1v1h-1zM274 496h1v1h-1zM275 495h1v1h-1zM276 495h1v1h-1zM277 495h1v1h-1zM278 495h1v1h-1zM279 494h1v1h-1zM280 494h1v1h-1zM281 494h1v1h-1zM282 494h1v1h-1zM283 493h1v1h-1zM284 493h1v1h-1zM285 493h1v1h-1zM286 493h1v1h-1zM287 493h1v1h-1zM288 493h1v1h-1zM289 492h1v1h-1zM290 492h1v1h-1zM291 492h1v1h-1zM292 492h1v1h-1zM293 492h1v1h-1zM294 492h1v1h-1zM295 492h1v1h-1zM296 492h1v1h-1zM297 492h1v1h-1zM298 492h1v1h-1zM299 492h1v1h-1zM300 492h1v1h-1zM301 493h1v1h-1zM302 493h1v1h-1zM303 493h1v1h-1zM304 493h1v1h-1zM305 494h1v1h-1zM306 494h1v1h-1zM307 494h1v1h-1zM308 494h1v1h-1zM309 495h1v1h-1zM310 495h1v1h-1zM311 495h1v1h-1zM312 495h1v1h-1zM313 496h1v1h-1zM314 496h1v1h-1zM315 496h1v1h-1zM316 496h1v1h-1zM317 497h1v1h-1zM318 497h1v1h-1zM319 497h1v1h-1zM320 497h1v1h-1zM321 497h1v1h-1zM322 497h1v1h-1zM323 497h1v1h-1zM324 497h1v1h-1zM325 497h1v1h-1zM326 497h1v1h-1zM327 496h1v1h-1zM328 496h1v1h-1zM329 496h1v1h-1zM330 496h1v1h-1zM331 495h1v1h-1zM332 495h1v1h-1zM333 495h1v1h-1zM334 495h1v1h-1zM335 494h1v1h-1zM336 494h1v1h-1zM337 493h1v1h-1zM338 493h1v1h-1zM339 492h1v1h-1zM340 492h1v1h-1zM341 491h1v1h-1zM342 491h1v1h-1zM343 490h1v1h-1zM344 490h1v1h-1zM345 489h1v1h-1zM346 489h1v1h-1zM347 488h1v1h-1zM348 487h1v1h-1zM349 486h1v1h-1zM350 485h1v1h-1zM351 484h1v1h-1zM352 484h1v1h-1zM353 483h1v1h-1zM354 482h1v1h-1zM355 481h1v1h-1zM356 481h1v1h-1zM357 480h1v1h-1zM358 480h1v1h-1zM359 480h1v1h-1zM360 480h1v1h-1zM361 480h1v1h-1zM362 480h1v1h-1zM363 480h1v1h-1zM364 480h1v1h-1zM365 481h1v1h-1zM366 482h1v1h-1zM367 483h1v1h-1zM368 483h1v1h-1zM369 484h1v1h-1zM370 485h1v1h-1zM371 486h1v1h-1zM372 487h1v1h-1zM373 488h1v1h-1zM374 488h1v1h-1zM375 489h1v1h-1zM376 489h1v1h-1zM377 490h1v1h-1zM378 491h1v1h-1zM379 491h1v1h-1zM380 491h1v1h-1zM381 491h1v1h-1zM382 491h1v1h-1zM383 491h1v1h-1zM384 491h1v1h-1zM385 490h1v1h-1zM386 490h1v1h-1zM387 489h1v1h-1zM388 489h1v1h-1zM389 488h1v1h-1zM390 488h1v1h-1zM391 487h1v1h-1zM392 487h1v1h-1zM393 486h1v1h-1zM394 486h1v1h-1zM395 485h1v1h-1zM396 485h1v1h-1zM397 484h1v1h-1zM398 484h1v1h-1zM399 484h1v1h-1zM400 484h1v1h-1zM401 484h1v1h-1zM402 484h1v1h-1zM403 485h1v1h-1zM404 485h1v1h-1zM405 486h1v1h-1zM406 486h1v1h-1zM407 487h1v1h-1zM408 487h1v1h-1zM409 488h1v1h-1zM410 488h1v1h-1zM411 489h1v1h-1zM412 489h1v1h-1zM413 490h1v1h-1zM414 490h1v1h-1zM415 490h1v1h-1zM416 490h1v1h-1zM417 490h1v1h-1zM418 490h1v1h-1zM419 490h1v1h-1zM420 490h1v1h-1zM421 489h1v1h-1zM422 489h1v1h-1zM423 488h1v1h-1zM424 488h1v1h-1zM425 487h1v1h-1zM426 486h1v1h-1zM427 485h1v1h-1zM428 484h1v1h-1zM429 483h1v1h-1zM430 482h1v1h-1zM431 480h1v2h-1zM432 479h1v1h-1zM433 477h1v2h-1zM434 476h1v1h-1zM435 475h1v1h-1zM436 474h1v1h-1zM437 473h1v1h-1zM438 472h1v1h-1zM439 471h1v1h-1zM440 470h1v1h-1zM441 469h1v1h-1zM442 468h1v1h-1zM443 467h1v1h-1zM444 467h1v1h-1zM445 466h1v1h-1zM446 466h1v1h-1zM447 466h1v1h-1zM448 466h1v1h-1zM449 467h1v1h-1zM450 467h1v1h-1zM451 468h1v1h-1zM452 468h1v1h-1zM453 469h1v1h-1zM454 469h1v1h-1zM455 470h1v2h-1zM456 472h1v1h-1zM457 473h1v2h-1zM458 475h1v1h-1zM459 476h1v2h-1zM460 478h1v1h-1zM461 479h1v2h-1zM462 481h1v1h-1zM463 482h1v2h-1zM464 484h1v1h-1zM465 485h1v2h-1zM466 487h1v1h-1zM467 488h1v1h-1zM468 489h1v1h-1zM469 490h1v2h-1zM470 492h1v1h-1zM471 493h1v1h-1zM472 494h1v1h-1zM473 495h1v1h-1zM474 495h1v1h-1zM475 496h1v1h-1zM476 496h1v1h-1zM477 496h1v1h-1zM478 496h1v1h-1zM479 496h1v1h-1zM480 496h1v1h-1zM481 496h1v1h-1zM482 496h1v1h-1zM483 496h1v1h-1zM484 496h1v1h-1zM485 496h1v1h-1zM486 496h1v1h-1zM487 496h1v1h-1zM488 496h1v1h-1zM489 496h1v1h-1zM490 496h1v1h-1zM491 496h1v1h-1zM492 496h1v1h-1zM493 496h1v1h-1zM494 496h1v1h-1zM495 496h1v1h-1zM496 496h1v1h-1zM497 496h1v1h-1zM498 496h1v1h-1zM499 496h1v1h-1zM500 496h1v1h-1zM501 495h1v1h-1zM502 495h1v1h-1zM503 495h1v1h-1zM504 495h1v1h-1zM505 494h1v1h-1zM506 494h1v1h-1zM507 493h1v1h-1zM508 493h1v1h-1zM509 493h1v1h-1zM510 493h1v1h-1zM511 492h1v1h-1zM512 492h1v1h-1zM513 491h1v1h-1zM514 491h1v1h-1zM515 490h1v1h-1zM516 490h1v1h-1zM517 489h1v1h-1zM518 489h1v1h-1zM519 488h1v1h-1zM520 488h1v1h-1zM521 487h1v1h-1zM522 487h1v1h-1zM523 486h1v1h-1zM524 486h1v1h-1zM525 485h1v1h-1zM526 485h1v1h-1zM527 484h1v1h-1zM528 484h1v1h-1zM529 483h1v1h-1zM530 483h1v1h-1zM531 482h1v1h-1zM532 481h1v1h-1zM533 480h1v1h-1zM534 480h1v1h-1zM535 479h1v1h-1zM536 478h1v1h-1zM537 477h1v1h-1zM538 477h1v1h-1zM539 476h1v1h-1zM540 476h1v1h-1zM541 475h1v1h-1zM542 475h1v1h-1zM543 474h1v1h-1zM544 474h1v1h-1zM545 473h1v1h-1zM546 473h1v1h-1zM547 474h1v1h-1zM548 474h1v1h-1zM549 474h1v1h-1zM550 474h1v1h-1zM551 475h1v1h-1zM552 475h1v1h-1zM553 476h1v1h-1zM554 477h1v1h-1zM555 478h1v1h-1zM556 479h1v1h-1zM557 480h1v1h-1zM558 481h1v1h-1zM559 482h1v1h-1zM560 483h1v1h-1zM561 484h1v1h-1zM562 485h1v1h-1zM563 486h1v1h-1zM564 487h1v1h-1zM565 488h1v1h-1zM566 489h1v1h-1zM567 490h1v2h-1zM568 492h1v1h-1zM569 493h1v1h-1zM570 494h1v1h-1zM571 495h1v1h-1zM572 496h1v1h-1zM573 497h1v1h-1zM574 498h1v1h-1zM575 499h1v1h-1zM576 500h1v1h-1zM577 501h1v1h-1zM578 501h1v1h-1zM579 502h1v1h-1zM580 502h1v1h-1zM581 502h1v1h-1zM582 502h1v1h-1zM583 502h1v1h-1zM584 502h1v1h-1zM585 501h1v1h-1zM586 501h1v1h-1zM587 500h1v1h-1zM588 500h1v1h-1zM589 499h1v1h-1zM590 499h1v1h-1zM591 499h1v1h-1zM592 499h1v1h-1zM593 498h1v1h-1zM594 498h1v1h-1zM595 498h1v1h-1zM596 498h1v1h-1zM597 497h1v1h-1zM598 497h1v1h-1zM599 497h1v1h-1zM600 497h1v1h-1zM601 498h1v1h-1zM602 498h1v1h-1zM603 498h1v1h-1zM604 498h1v1h-1zM605 498h1v1h-1zM606 498h1v1h-1zM607 497h1v1h-1zM608 497h1v1h-1zM609 497h1v1h-1zM610 497h1v1h-1zM611 497h1v1h-1zM612 497h1v1h-1zM613 496h1v1h-1zM614 496h1v1h-1zM615 496h1v1h-1zM616 496h1v1h-1zM617 496h1v1h-1zM618 496h1v1h-1zM619 496h1v1h-1zM620 496h1v1h-1zM621 496h1v1h-1zM622 496h1v1h-1zM623 496h1v1h-1zM624 496h1v1h-1zM625 496h1v1h-1zM626 496h1v1h-1zM627 496h1v1h-1zM628 496h1v1h-1zM629 497h1v1h-1zM630 497h1v1h-1zM631 497h1v1h-1zM632 497h1v1h-1zM633 497h1v1h-1zM634 497h1v1h-1zM635 497h1v1h-1zM636 497h1v1h-1zM637 496h1v1h-1zM638 496h1v1h-1zM639 495h1v1h-1zM640 495h1v1h-1zM641 494h1v1h-1zM642 494h1v1h-1zM643 494h1v1h-1zM644 494h1v1h-1zM645 493h1v1h-1zM646 493h1v1h-1zM647 493h1v1h-1zM648 493h1v1h-1zM649 493h1v1h-1zM650 493h1v1h-1zM651 493h1v1h-1zM652 493h1v1h-1zM653 494h1v1h-1zM654 494h1v1h-1zM655 495h1v1h-1zM656 495h1v1h-1zM657 496h1v1h-1zM658 497h1v1h-1zM659 498h1v2h-1zM660 500h1v1h-1zM661 501h1v1h-1zM662 502h1v1h-1zM663 503h1v1h-1zM664 503h1v1h-1zM665 504h1v1h-1zM666 505h1v1h-1zM667 506h1v1h-1zM668 506h1v1h-1zM669 507h1v1h-1zM670 507h1v1h-1zM671 507h1v1h-1zM672 507h1v1h-1zM673 507h1v1h-1zM674 507h1v1h-1zM675 507h1v1h-1zM676 507h1v1h-1zM677 506h1v1h-1zM678 506h1v1h-1zM679 505h1v1h-1zM680 505h1v1h-1zM681 505h1v1h-1zM682 505h1v1h-1zM683 504h1v1h-1zM684 504h1v1h-1zM685 503h1v1h-1zM686 503h1v1h-1zM687 503h1v1h-1zM688 503h1v1h-1zM689 503h1v1h-1zM690 503h1v1h-1zM691 503h1v1h-1zM692 503h1v1h-1zM693 503h1v1h-1zM694 503h1v1h-1zM695 503h1v1h-1zM696 503h1v1h-1zM697 503h1v1h-1zM698 503h1v1h-1zM699 504h1v1h-1zM700 504h1v1h-1zM701 504h1v1h-1zM702 504h1v1h-1zM703 504h1v1h-1zM704 504h1v1h-1zM705 503h1v1h-1zM706 503h1v1h-1zM707 503h1v1h-1zM708 503h1v1h-1zM709 503h1v1h-1zM710 503h1v1h-1zM711 503h1v1h-1zM712 503h1v1h-1zM713 503h1v1h-1zM714 503h1v1h-1zM715 503h1v1h-1zM716 503h1v1h-1zM717 503h1v1h-1zM718 503h1v1h-1zM719 504h1v1h-1zM720 504h1v1h-1zM721 505h1v1h-1zM722 505h1v1h-1zM723 506h1v1h-1zM724 506h1v1h-1zM725 507h1v1h-1zM726 507h1v1h-1zM727 508h1v1h-1zM728 508h1v1h-1zM729 509h1v1h-1zM730 509h1v1h-1zM731 509h1v1h-1zM732 509h1v1h-1zM733 510h1v1h-1zM734 510h1v1h-1zM735 510h1v1h-1zM736 510h1v1h-1zM737 510h1v1h-1zM738 510h1v1h-1zM739 510h1v1h-1zM740 510h1v1h-1zM741 510h1v1h-1zM742 510h1v1h-1zM743 510h1v1h-1zM744 510h1v1h-1zM745 509h1v1h-1zM746 509h1v1h-1zM747 508h1v1h-1zM748 508h1v1h-1zM749 507h1v1h-1zM750 507h1v1h-1zM751 506h1v1h-1zM752 505h1v1h-1zM753 504h1v1h-1zM754 504h1v1h-1zM755 503h1v1h-1zM756 502h1v1h-1zM757 501h1v1h-1zM758 500h1v1h-1zM759 499h1v1h-1zM760 499h1v1h-1zM761 498h1v1h-1zM762 498h1v1h-1zM763 497h1v1h-1zM764 497h1v1h-1zM765 496h1v1h-1zM766 496h1v1h-1zM767 496h1v1h-1zM768 496h1v1h-1zM769 496h1v1h-1zM770 496h1v1h-1zM771 496h1v1h-1zM772 496h1v1h-1zM773 497h1v1h-1zM774 497h1v1h-1zM775 497h1v1h-1zM776 497h1v1h-1zM777 498h1v1h-1zM778 498h1v1h-1zM779 498h1v1h-1zM780 498h1v1h-1zM781 499h1v1h-1zM782 499h1v1h-1zM783 500h1v1h-1zM784 501h1v1h-1zM785 502h1v1h-1zM786 502h1v1h-1zM787 503h1v1h-1zM788 504h1v1h-1zM789 505h1v1h-1zM790 506h1v1h-1zM791 507h1v1h-1zM792 507h1v1h-1zM793 508h1v1h-1zM794 508h1v1h-1zM795 509h1v1h-1zM796 509h1v1h-1zM797 509h1v1h-1zM798 509h1v1h-1zM799 509h1v1h-1zM800 509h1v1h-1zM801 508h1v1h-1zM802 508h1v1h-1zM803 508h1v1h-1zM804 508h1v1h-1zM805 507h1v1h-1zM806 507h1v1h-1zM807 507h1v1h-1zM808 507h1v1h-1zM809 507h1v1h-1zM810 507h1v1h-1zM811 507h1v1h-1zM812 507h1v1h-1zM813 508h1v1h-1zM814 508h1v1h-1zM815 508h1v1h-1zM816 508h1v1h-1zM817 509h1v1h-1zM818 509h1v1h-1zM819 509h1v1h-1zM820 509h1v1h-1zM821 508h1v1h-1zM822 508h1v1h-1zM823 508h1v1h-1zM824 508h1v1h-1zM825 507h1v1h-1zM826 507h1v1h-1zM827 506h1v1h-1zM828 505h1v1h-1zM829 504h1v1h-1zM830 504h1v1h-1zM831 503h1v1h-1zM832 503h1v1h-1zM833 502h1v1h-1zM834 502h1v1h-1zM835 502h1v1h-1zM836 502h1v1h-1zM837 501h1v1h-1zM838 501h1v1h-1zM839 501h1v1h-1zM840 501h1v1h-1zM841 501h1v1h-1zM842 501h1v1h-1zM843 501h1v1h-1zM844 501h1v1h-1zM845 500h1v1h-1zM846 500h1v1h-1zM847 500h1v1h-1zM848 500h1v1h-1zM849 499h1v1h-1zM850 499h1v1h-1zM851 498h1v1h-1zM852 498h1v1h-1zM853 498h1v1h-1zM854 498h1v1h-1zM855 497h1v1h-1zM856 497h1v1h-1zM857 497h1v1h-1zM858 497h1v1h-1zM859 496h1v1h-1zM860 496h1v1h-1zM861 496h1v1h-1zM862 496h1v1h-1zM863 495h1v1h-1zM864 495h1v1h-1zM865 495h1v1h-1zM866 495h1v1h-1zM867 494h1v1h-1zM868 494h1v1h-1zM869 494h1v1h-1zM870 494h1v1h-1zM871 494h1v1h-1zM872 494h1v1h-1zM873 494h1v1h-1zM874 494h1v1h-1zM875 494h1v1h-1zM876 494h1v1h-1zM877 494h1v1h-1zM878 494h1v1h-1zM879 494h1v1h-1zM880 494h1v1h-1zM881 495h1v1h-1zM882 495h1v1h-1zM883 495h1v1h-1zM884 495h1v1h-1zM885 496h1v1h-1zM886 496h1v1h-1zM887 496h1v1h-1zM888 496h1v1h-1zM889 495h1v1h-1zM890 495h1v1h-1zM891 495h1v1h-1zM892 495h1v1h-1zM893 494h1v1h-1zM894 494h1v1h-1zM895 493h1v1h-1zM896 492h1v1h-1zM897 491h1v1h-1zM898 490h1v1h-1zM899 489h1v1h-1zM900 488h1v1h-1zM901 486h1v2h-1zM902 485h1v1h-1zM903 484h1v1h-1zM904 483h1v1h-1zM905 482h1v1h-1zM906 481h1v1h-1zM907 480h1v1h-1zM908 479h1v1h-1zM909 478h1v1h-1zM910 477h1v1h-1zM911 476h1v1h-1zM912 475h1v1h-1zM913 474h1v1h-1zM914 474h1v1h-1zM915 473h1v1h-1zM916 473h1v1h-1zM917 473h1v1h-1zM918 473h1v1h-1zM919 473h1v1h-1zM920 473h1v1h-1zM921 473h1v1h-1zM922 473h1v1h-1zM923 474h1v1h-1zM924 474h1v1h-1zM925 475h1v1h-1zM926 475h1v1h-1zM927 475h1v1h-1zM928 475h1v1h-1zM929 475h1v1h-1zM930 475h1v1h-1z"/>
</g>
<g shape-rendering="crispEdges">
<path fill="#1e90ff" d="M6 588h1v1h-1zM7 589h1v1h-1zM8 590h1v1h-1zM9 589h1v1h-1zM10 588h1v1h-1zM11 589h1v1h-1zM12 589h1v1h-1zM13 588h1v1h-1zM14 587h1v1h-1zM15 588h1v1h-1zM16 588h1v1h-1zM17 589h1v1h-1zM18 589h1v1h-1zM19 589h1v1h-1zM20 589h1v1h-1zM21 589h1v1h-1zM22 589h1v1h-1zM23 590h1v1h-1zM24 590h1v1h-1zM25 589h1v1h-1zM26 589h1v1h-1zM27 589h1v1h-1zM28 589h1v1h-1zM29 588h1v1h-1zM30 588h1v1h-1zM31 589h1v1h-1zM32 590h1v1h-1zM33 591h1v2h-1zM34 592h1v3h-1zM35 586h1v6h-1zM36 582h1v4h-1zM37 583h1v1h-1zM38 584h1v1h-1zM39 584h1v1h-1zM40 584h1v1h-1zM41 584h1v1h-1zM42 584h1v1h-1zM43 585h1v1h-1zM44 585h1v1h-1zM45 583h1v2h-1zM46 580h1v3h-1zM47 576h1v4h-1zM48 573h1v3h-1zM49 572h1v1h-1zM50 571h1v1h-1zM51 570h1v1h-1zM52 569h1v1h-1zM53 568h1v1h-1zM54 567h1v2h-1zM55 569h1v2h-1zM56 571h1v2h-1zM57 573h1v1h-1zM58 572h1v2h-1zM59 570h1v2h-1zM60 568h1v2h-1zM61 569h1v1h-1zM62 570h1v1h-1zM63 569h1v1h-1zM64 569h1v1h-1zM65 567h1v2h-1zM66 565h1v2h-1zM67 566h1v1h-1zM68 567h1v1h-1zM69 565h1v2h-1zM70 560h1v5h-1zM71 553h1v7h-1zM72 549h1v4h-1zM73 548h1v1h-1zM74 548h1v1h-1zM75 547h1v1h-1zM76 547h1v1h-1zM77 548h1v1h-1zM78 549h1v1h-1zM79 549h1v1h-1zM80 549h1v1h-1zM81 548h1v1h-1zM82 547h1v1h-1zM83 546h1v1h-1zM84 545h1v1h-1zM85 544h1v1h-1zM86 544h1v1h-1zM87 543h1v1h-1zM88 543h1v2h-1zM89 545h1v2h-1zM90 547h1v2h-1zM91 546h1v2h-1zM92 545h1v1h-1zM93 545h1v1h-1zM94 545h1v1h-1zM95 544h1v1h-1zM96 544h1v1h-1zM97 544h1v1h-1zM98 544h1v1h-1zM99 545h1v2h-1zM100 547h1v1h-1zM101 548h1v1h-1zM102 548h1v1h-1zM103 547h1v1h-1zM104 546h1v1h-1zM105 547h1v1h-1zM106 547h1v3h-1zM107 550h1v6h-1zM108 556h1v3h-1zM109 557h1v1h-1zM110 557h1v1h-1zM111 557h1v1h-1zM112 557h1v1h-1zM113 557h1v1h-1zM114 557h1v1h-1zM115 556h1v1h-1zM116 556h1v1h-1zM117 555h1v1h-1zM118 555h1v1h-1zM119 554h1v1h-1zM120 554h1v1h-1zM121 553h1v1h-1zM122 552h1v1h-1zM123 553h1v2h-1zM124 555h1v2h-1zM125 555h1v1h-1zM126 555h1v1h-1zM127 556h1v1h-1zM128 557h1v3h-1zM129 560h1v5h-1zM130 565h1v5h-1zM131 570h1v6h-1zM132 576h1v4h-1zM133 580h1v2h-1zM134 582h1v2h-1zM135 582h1v1h-1zM136 582h1v1h-1zM137 581h1v1h-1zM138 580h1v1h-1zM139 581h1v1h-1zM140 581h1v2h-1zM141 583h1v2h-1zM142 585h1v2h-1zM143 587h1v1h-1zM144 588h1v1h-1zM145 587h1v1h-1zM146 587h1v1h-1zM147 586h1v1h-1zM148 585h1v1h-1zM149 583h1v2h-1zM150 582h1v1h-1zM151 583h1v2h-1zM152 585h1v2h-1zM153 587h1v1h-1zM154 585h1v3h-1zM155 580h1v5h-1zM156 576h1v4h-1zM157 574h1v2h-1zM158 572h1v2h-1zM159 573h1v2h-1zM160 575h1v1h-1zM161 575h1v1h-1zM162 575h1v1h-1zM163 575h1v1h-1zM164 574h1v2h-1zM165 571h1v3h-1zM166 568h1v3h-1zM167 566h1v2h-1zM168 564h1v2h-1zM169 566h1v2h-1zM170 568h1v2h-1zM171 567h1v2h-1zM172 566h1v1h-1zM173 564h1v2h-1zM174 562h1v2h-1zM175 563h1v2h-1zM176 565h1v2h-1zM177 567h1v1h-1zM178 568h1v1h-1zM179 567h1v1h-1zM180 566h1v1h-1zM181 565h1v1h-1zM182 565h1v1h-1zM183 566h1v1h-1zM184 566h1v1h-1zM185 567h1v2h-1zM186 569h1v1h-1zM187 569h1v1h-1zM188 569h1v1h-1zM189 568h1v1h-1zM190 567h1v1h-1zM191 568h1v1h-1zM192 569h1v1h-1zM193 569h1v1h-1zM194 569h1v1h-1zM195 570h1v1h-1zM196 571h1v1h-1zM197 572h1v1h-1zM198 572h1v1h-1zM199 573h1v2h-1zM200 574h1v2h-1zM201 571h1v3h-1zM202 569h1v2h-1zM203 571h1v4h-1zM204 575h1v2h-1zM205 577h1v2h-1zM206 579h1v1h-1zM207 580h1v1h-1zM208 580h1v1h-1zM209 578h1v2h-1zM210 577h1v1h-1zM211 578h1v1h-1zM212 578h1v1h-1zM213 577h1v1h-1zM214 577h1v1h-1zM215 578h1v1h-1zM216 578h1v1h-1zM217 577h1v1h-1zM218 577h1v1h-1zM219 577h1v1h-1zM220 576h1v2h-1zM221 573h1v3h-1zM222 571h1v2h-1zM223 572h1v1h-1zM224 573h1v1h-1zM225 572h1v1h-1zM226 571h1v1h-1zM227 572h1v1h-1zM228 573h1v1h-1zM229 574h1v1h-1zM230 574h1v1h-1zM231 573h1v1h-1zM232 573h1v1h-1zM233 571h1v2h-1zM234 569h1v2h-1zM235 566h1v3h-1zM236 564h1v2h-1zM237 563h1v1h-1zM238 562h1v1h-1zM239 560h1v2h-1zM240 559h1v1h-1zM241 558h1v1h-1zM242 558h1v2h-1zM243 560h1v2h-1zM244 562h1v2h-1zM245 564h1v1h-1zM246 564h1v1h-1zM247 565h1v2h-1zM248 567h1v2h-1zM249 565h1v2h-1zM250 563h1v3h-1zM251 566h1v5h-1zM252 571h1v4h-1zM253 575h1v4h-1zM254 579h1v2h-1zM255 579h1v1h-1zM256 579h1v1h-1zM257 580h1v2h-1zM258 581h1v2h-1zM259 577h1v4h-1zM260 574h1v3h-1zM261 570h1v4h-1zM262 568h1v2h-1zM263 566h1v2h-1zM264 564h1v2h-1zM265 565h1v2h-1zM266 567h1v1h-1zM267 566h1v1h-1zM268 566h1v1h-1zM269 567h1v2h-1zM270 569h1v1h-1zM271 570h1v1h-1zM272 571h1v1h-1zM273 572h1v2h-1zM274 573h1v2h-1zM275 570h1v3h-1zM276 568h1v2h-1zM277 569h1v1h-1zM278 569h1v1h-1zM279 570h1v1h-1zM280 569h1v2h-1zM281 567h1v2h-1zM282 565h1v2h-1zM283 564h1v1h-1zM284 564h1v1h-1zM285 565h1v2h-1zM286 567h1v2h-1zM287 569h1v1h-1zM288 570h1v1h-1zM289 570h1v1h-1zM290 570h1v1h-1zM291 571h1v1h-1zM292 572h1v1h-1zM293 571h1v1h-1zM294 571h1v1h-1zM295 572h1v1h-1zM296 572h1v1h-1zM297 571h1v1h-1zM298 571h1v1h-1zM299 569h1v2h-1zM300 568h1v1h-1zM301 569h1v2h-1zM302 571h1v1h-1zM303 572h1v1h-1zM304 573h1v1h-1zM305 574h1v1h-1zM306 575h1v1h-1zM307 575h1v1h-1zM308 574h1v2h-1zM309 572h1v2h-1zM310 570h1v2h-1zM311 572h1v3h-1zM312 575h1v2h-1zM313 577h1v1h-1zM314 577h1v1h-1zM315 575h1v2h-1zM316 573h1v2h-1zM317 571h1v2h-1zM318 570h1v1h-1zM319 568h1v2h-1zM320 567h1v1h-1zM321 566h1v1h-1zM322 566h1v1h-1zM323 567h1v1h-1zM324 568h1v1h-1zM325 569h1v1h-1zM326 570h1v1h-1zM327 569h1v1h-1zM328 568h1v2h-1zM329 570h1v2h-1zM330 572h1v2h-1zM331 571h1v2h-1zM332 569h1v2h-1zM333 568h1v1h-1zM334 567h1v2h-1zM335 564h1v3h-1zM336 561h1v3h-1zM337 559h1v2h-1zM338 557h1v2h-1zM339 558h1v1h-1zM340 559h1v1h-1zM341 558h1v1h-1zM342 558h1v1h-1zM343 559h1v2h-1zM344 560h1v2h-1zM345 558h1v2h-1zM346 556h1v2h-1zM347 554h1v2h-1zM348 552h1v2h-1zM349 554h1v2h-1zM350 556h1v2h-1zM351 558h1v2h-1zM352 560h1v1h-1zM353 560h1v1h-1zM354 560h1v1h-1zM355 561h1v2h-1zM356 563h1v3h-1zM357 566h1v2h-1zM358 568h1v2h-1zM359 568h1v1h-1zM360 567h1v2h-1zM361 569h1v4h-1zM362 573h1v2h-1zM363 573h1v1h-1zM364 573h1v1h-1zM365 573h1v1h-1zM366 573h1v1h-1zM367 574h1v1h-1zM368 575h1v1h-1zM369 573h1v2h-1zM370 571h1v2h-1zM371 570h1v1h-1zM372 570h1v1h-1zM373 570h1v1h-1zM374 570h1v1h-1zM375 569h1v1h-1zM376 569h1v1h-1zM377 568h1v1h-1zM378 566h1v2h-1zM379 563h1v3h-1zM380 561h1v2h-1zM381 559h1v2h-1zM382 557h1v2h-1zM383 558h1v2h-1zM384 560h1v2h-1zM385 560h1v1h-1zM386 559h1v1h-1zM387 560h1v2h-1zM388 562h1v1h-1zM389 562h1v1h-1zM390 562h1v1h-1zM391 563h1v1h-1zM392 564h1v1h-1zM393 562h1v2h-1zM394 561h1v3h-1zM395 564h1v4h-1zM396 568h1v3h-1zM397 569h1v1h-1zM398 569h1v1h-1zM399 570h1v1h-1zM400 570h1v1h-1zM401 569h1v1h-1zM402 569h1v1h-1zM403 570h1v1h-1zM404 570h1v2h-1zM405 572h1v4h-1zM406 576h1v2h-1zM407 574h1v2h-1zM408 572h1v2h-1zM409 570h1v2h-1zM410 568h1v2h-1zM411 569h1v1h-1zM412 569h1v1h-1zM413 568h1v1h-1zM414 567h1v2h-1zM415 565h1v2h-1zM416 562h1v3h-1zM417 560h1v2h-1zM418 557h1v3h-1zM419 555h1v2h-1zM420 553h1v2h-1zM421 554h1v1h-1zM422 555h1v1h-1zM423 554h1v1h-1zM424 553h1v2h-1zM425 555h1v2h-1zM426 557h1v2h-1zM427 556h1v2h-1zM428 555h1v1h-1zM429 555h1v1h-1zM430 555h1v1h-1zM431 553h1v2h-1zM432 551h1v2h-1zM433 550h1v1h-1zM434 549h1v1h-1zM435 549h1v1h-1zM436 549h1v1h-1zM437 548h1v1h-1zM438 548h1v1h-1zM439 549h1v2h-1zM440 551h1v2h-1zM441 553h1v2h-1zM442 555h1v4h-1zM443 559h1v5h-1zM444 564h1v3h-1zM445 565h1v1h-1zM446 565h1v1h-1zM447 566h1v1h-1zM448 566h1v1h-1zM449 566h1v1h-1zM450 566h1v1h-1zM451 567h1v1h-1zM452 567h1v2h-1zM453 569h1v4h-1zM454 573h1v2h-1zM455 575h1v2h-1zM456 577h1v2h-1zM457 577h1v1h-1zM458 577h1v1h-1zM459 576h1v1h-1zM460 576h1v1h-1zM461 574h1v2h-1zM462 573h1v1h-1zM463 574h1v2h-1zM464 576h1v1h-1zM465 577h1v2h-1zM466 579h1v1h-1zM467 579h1v1h-1zM468 577h1v3h-1zM469 573h1v4h-1zM470 570h1v3h-1zM471 569h1v1h-1zM472 569h1v1h-1zM473 568h1v1h-1zM474 567h1v2h-1zM475 569h1v2h-1zM476 571h1v2h-1zM477 573h1v1h-1zM478 574h1v1h-1zM479 575h1v2h-1zM480 576h1v2h-1zM481 573h1v3h-1zM482 571h1v2h-1zM483 571h1v1h-1zM484 571h1v1h-1zM485 571h1v1h-1zM486 571h1v1h-1zM487 571h1v1h-1zM488 571h1v1h-1zM489 572h1v1h-1zM490 572h1v1h-1zM491 570h1v2h-1zM492 568h1v2h-1zM493 568h1v1h-1zM494 568h1v1h-1zM495 569h1v1h-1zM496 569h1v1h-1zM497 568h1v1h-1zM498 567h1v2h-1zM499 563h1v4h-1zM500 561h1v2h-1zM501 562h1v2h-1zM502 564h1v2h-1zM503 566h1v2h-1zM504 568h1v1h-1zM505 569h1v1h-1zM506 570h1v1h-1zM507 569h1v1h-1zM508 568h1v1h-1zM509 567h1v1h-1zM510 565h1v2h-1zM511 562h1v3h-1zM512 560h1v2h-1zM513 562h1v3h-1zM514 565h1v2h-1zM515 563h1v2h-1zM516 561h1v2h-1zM517 561h1v1h-1zM518 561h1v1h-1zM519 561h1v1h-1zM520 561h1v1h-1zM521 560h1v1h-1zM522 559h1v1h-1zM523 559h1v1h-1zM524 559h1v2h-1zM525 561h1v3h-1zM526 564h1v2h-1zM527 560h1v4h-1zM528 557h1v3h-1zM529 555h1v2h-1zM530 553h1v2h-1zM531 554h1v2h-1zM532 556h1v1h-1zM533 557h1v1h-1zM534 558h1v1h-1zM535 557h1v1h-1zM536 557h1v1h-1zM537 555h1v2h-1zM538 554h1v2h-1zM539 556h1v4h-1zM540 560h1v3h-1zM541 562h1v1h-1zM542 562h1v1h-1zM543 563h1v2h-1zM544 565h1v2h-1zM545 566h1v1h-1zM546 566h1v1h-1zM547 567h1v1h-1zM548 568h1v1h-1zM549 568h1v1h-1zM550 568h1v2h-1zM551 570h1v2h-1zM552 572h1v2h-1zM553 572h1v1h-1zM554 572h1v1h-1zM555 571h1v1h-1zM556 570h1v1h-1zM557 571h1v1h-1zM558 572h1v1h-1zM559 570h1v2h-1zM560 568h1v3h-1zM561 571h1v4h-1zM562 575h1v4h-1zM563 579h1v2h-1zM564 581h1v2h-1zM565 582h1v1h-1zM566 582h1v1h-1zM567 581h1v1h-1zM568 580h1v2h-1zM569 578h1v2h-1zM570 576h1v2h-1zM571 575h1v1h-1zM572 574h1v1h-1zM573 574h1v1h-1zM574 574h1v1h-1zM575 573h1v1h-1zM576 572h1v1h-1zM577 571h1v1h-1zM578 571h1v1h-1zM579 570h1v1h-1zM580 570h1v1h-1zM581 569h1v1h-1zM582 568h1v1h-1zM583 566h1v2h-1zM584 565h1v1h-1zM585 566h1v2h-1zM586 568h1v2h-1zM587 570h1v2h-1zM588 572h1v1h-1zM589 573h1v1h-1zM590 573h1v1h-1zM591 573h1v1h-1zM592 573h1v1h-1zM593 573h1v1h-1zM594 573h1v1h-1zM595 574h1v2h-1zM596 576h1v1h-1zM597 577h1v1h-1zM598 577h1v2h-1zM599 575h1v2h-1zM600 572h1v3h-1zM601 570h1v2h-1zM602 568h1v2h-1zM603 569h1v2h-1zM604 571h1v1h-1zM605 569h1v2h-1zM606 568h1v1h-1zM607 566h1v2h-1zM608 564h1v2h-1zM609 565h1v2h-1zM610 567h1v3h-1zM611 570h1v2h-1zM612 572h1v2h-1zM613 574h1v1h-1zM614 575h1v1h-1zM615 573h1v2h-1zM616 571h1v2h-1zM617 570h1v1h-1zM618 570h1v1h-1zM619 571h1v2h-1zM620 573h1v2h-1zM621 574h1v1h-1zM622 574h1v1h-1zM623 574h1v1h-1zM624 574h1v1h-1zM625 572h1v2h-1zM626 571h1v1h-1zM627 571h1v1h-1zM628 571h1v1h-1zM629 570h1v1h-1zM630 570h1v2h-1zM631 572h1v3h-1zM632 575h1v2h-1zM633 571h1v4h-1zM634 567h1v4h-1zM635 564h1v3h-1zM636 562h1v2h-1zM637 562h1v1h-1zM638 562h1v1h-1zM639 562h1v1h-1zM640 562h1v1h-1zM641 563h1v2h-1zM642 565h1v2h-1zM643 567h1v2h-1zM644 569h1v2h-1zM645 571h1v1h-1zM646 572h1v1h-1zM647 573h1v2h-1zM648 575h1v2h-1zM649 577h1v3h-1zM650 580h1v2h-1zM651 581h1v1h-1zM652 581h1v1h-1zM653 582h1v1h-1zM654 582h1v1h-1zM655 583h1v2h-1zM656 585h1v2h-1zM657 587h1v1h-1zM658 586h1v3h-1zM659 580h1v6h-1zM660 576h1v4h-1zM661 575h1v1h-1zM662 575h1v1h-1zM663 575h1v1h-1zM664 575h1v1h-1zM665 576h1v1h-1zM666 576h1v1h-1zM667 575h1v1h-1zM668 574h1v1h-1zM669 573h1v1h-1zM670 573h1v1h-1zM671 574h1v2h-1zM672 576h1v1h-1zM673 576h1v1h-1zM674 576h1v1h-1zM675 575h1v1h-1zM676 575h1v1h-1zM677 573h1v2h-1zM678 572h1v1h-1zM679 570h1v2h-1zM680 568h1v2h-1zM681 569h1v2h-1zM682 571h1v2h-1zM683 573h1v2h-1zM684 575h1v2h-1zM685 576h1v1h-1zM686 576h1v1h-1zM687 574h1v2h-1zM688 573h1v1h-1zM689 574h1v2h-1zM690 576h1v2h-1zM691 578h1v2h-1zM692 580h1v2h-1zM693 582h1v1h-1zM694 582h1v2h-1zM695 578h1v4h-1zM696 576h1v2h-1zM697 574h1v2h-1zM698 573h1v1h-1zM699 572h1v1h-1zM700 572h1v1h-1zM701 570h1v2h-1zM702 568h1v2h-1zM703 568h1v1h-1zM704 568h1v1h-1zM705 569h1v2h-1zM706 571h1v2h-1zM707 573h1v4h-1zM708 577h1v2h-1zM709 579h1v1h-1zM710 580h1v1h-1zM711 581h1v1h-1zM712 581h1v1h-1zM713 581h1v1h-1zM714 581h1v1h-1zM715 579h1v2h-1zM716 577h1v2h-1zM717 578h1v2h-1zM718 580h1v1h-1zM719 581h1v1h-1zM720 581h1v1h-1zM721 579h1v2h-1zM722 578h1v1h-1zM723 579h1v1h-1zM724 580h1v1h-1zM725 579h1v1h-1zM726 579h1v1h-1zM727 580h1v1h-1zM728 580h1v1h-1zM729 581h1v1h-1zM730 581h1v1h-1zM731 582h1v1h-1zM732 583h1v1h-1zM733 582h1v1h-1zM734 582h1v1h-1zM735 581h1v1h-1zM736 581h1v1h-1zM737 582h1v1h-1zM738 582h1v2h-1zM739 579h1v3h-1zM740 576h1v3h-1zM741 573h1v3h-1zM742 571h1v2h-1zM743 569h1v2h-1zM744 568h1v1h-1zM745 569h1v1h-1zM746 569h1v1h-1zM747 568h1v1h-1zM748 568h1v1h-1zM749 567h1v1h-1zM750 566h1v1h-1zM751 565h1v1h-1zM752 564h1v2h-1zM753 566h1v3h-1zM754 569h1v2h-1zM755 570h1v1h-1zM756 570h1v1h-1zM757 570h1v1h-1zM758 570h1v1h-1zM759 570h1v1h-1zM760 570h1v1h-1zM761 571h1v1h-1zM762 572h1v1h-1zM763 573h1v2h-1zM764 575h1v2h-1zM765 571h1v4h-1zM766 568h1v3h-1zM767 571h1v4h-1zM768 575h1v3h-1zM769 577h1v1h-1zM770 577h1v1h-1zM771 575h1v2h-1zM772 573h1v2h-1zM773 572h1v1h-1zM774 572h1v1h-1zM775 573h1v2h-1zM776 575h1v2h-1zM777 573h1v2h-1zM778 571h1v3h-1zM779 574h1v4h-1zM780 578h1v3h-1zM781 581h1v2h-1zM782 583h1v2h-1zM783 585h1v1h-1zM784 585h1v1h-1zM785 585h1v1h-1zM786 585h1v1h-1zM787 586h1v1h-1zM788 585h1v2h-1zM789 583h1v2h-1zM790 579h1v4h-1zM791 573h1v6h-1zM792 570h1v3h-1zM793 570h1v1h-1zM794 570h1v1h-1zM795 570h1v1h-1zM796 570h1v1h-1zM797 569h1v1h-1zM798 569h1v1h-1zM799 570h1v1h-1zM800 571h1v2h-1zM801 573h1v2h-1zM802 575h1v3h-1zM803 578h1v2h-1zM804 580h1v2h-1zM805 582h1v1h-1zM806 583h1v1h-1zM807 584h1v1h-1zM808 584h1v1h-1zM809 582h1v2h-1zM810 580h1v2h-1zM811 581h1v1h-1zM812 580h1v2h-1zM813 577h1v3h-1zM814 574h1v3h-1zM815 571h1v3h-1zM816 569h1v2h-1zM817 570h1v1h-1zM818 570h1v1h-1zM819 569h1v1h-1zM820 569h1v1h-1zM821 570h1v1h-1zM822 570h1v1h-1zM823 569h1v1h-1zM824 569h1v2h-1zM825 571h1v4h-1zM826 575h1v3h-1zM827 574h1v2h-1zM828 572h1v2h-1zM829 573h1v2h-1zM830 575h1v1h-1zM831 574h1v1h-1zM832 573h1v1h-1zM833 573h1v1h-1zM834 573h1v1h-1zM835 571h1v2h-1zM836 570h1v1h-1zM837 571h1v1h-1zM838 572h1v1h-1zM839 572h1v1h-1zM840 572h1v1h-1zM841 572h1v1h-1zM842 572h1v1h-1zM843 571h1v1h-1zM844 571h1v1h-1zM845 571h1v1h-1zM846 571h1v1h-1zM847 570h1v1h-1zM848 569h1v2h-1zM849 565h1v4h-1zM850 563h1v2h-1zM851 564h1v2h-1zM852 566h1v3h-1zM853 569h1v4h-1zM854 573h1v2h-1zM855 574h1v1h-1zM856 574h1v1h-1zM857 572h1v2h-1zM858 571h1v1h-1zM859 569h1v2h-1zM860 568h1v1h-1zM861 566h1v2h-1zM862 565h1v1h-1zM863 566h1v2h-1zM864 568h1v2h-1zM865 570h1v1h-1zM866 571h1v1h-1zM867 571h1v1h-1zM868 571h1v1h-1zM869 570h1v1h-1zM870 570h1v1h-1zM871 571h1v1h-1zM872 571h1v2h-1zM873 569h1v2h-1zM874 567h1v2h-1zM875 569h1v2h-1zM876 571h1v2h-1zM877 573h1v1h-1zM878 574h1v1h-1zM879 575h1v2h-1zM880 577h1v1h-1zM881 575h1v2h-1zM882 573h1v2h-1zM883 571h1v2h-1zM884 569h1v2h-1zM885 569h1v1h-1zM886 568h1v2h-1zM887 566h1v2h-1zM888 564h1v2h-1zM889 562h1v2h-1zM890 560h1v2h-1zM891 559h1v1h-1zM892 559h1v1h-1zM893 558h1v1h-1zM894 558h1v1h-1zM895 558h1v1h-1zM896 558h1v1h-1zM897 556h1v2h-1zM898 555h1v1h-1zM899 556h1v1h-1zM900 556h1v1h-1zM901 554h1v2h-1zM902 553h1v1h-1zM903 554h1v2h-1zM904 556h1v2h-1zM905 555h1v2h-1zM906 554h1v1h-1zM907 555h1v2h-1zM908 557h1v2h-1zM909 557h1v1h-1zM910 556h1v1h-1zM911 557h1v2h-1zM912 559h1v1h-1zM913 560h1v2h-1zM914 562h1v2h-1zM915 562h1v1h-1zM916 562h1v1h-1zM917 563h1v2h-1zM918 565h1v2h-1zM919 565h1v1h-1zM920 564h1v1h-1zM921 565h1v1h-1zM922 566h1v1h-1zM923 564h1v2h-1zM924 562h1v2h-1zM925 560h1v2h-1zM926 558h1v2h-1zM927 556h1v2h-1zM928 555h1v1h-1zM929 556h1v1h-1zM930 556h1v1h-1z"/>
</g>
<rect x="5" y="118" width="6" height="6" fill="#ff0000" shape-rendering="crispEdges"/><rect x="7" y="120" width="2" height="2" fill="#fff" shape-rendering="crispEdges"/>
<rect x="1162" y="118" width="6" height="6" fill="#ff0000" shape-rendering="crispEdges"/><rect x="1164" y="120" width="2" height="2" fill="#fff" shape-rendering="crispEdges"/>
<rect x="5" y="186" width="6" height="6" fill="#ff0000" shape-rendering="crispEdges"/><rect x="7" y="188" width="2" height="2" fill="#fff" shape-rendering="crispEdges"/>
<rect x="1162" y="186" width="6" height="6" fill="#ff0000" shape-rendering="crispEdges"/><rect x="1164" y="188" width="2" height="2" fill="#fff" shape-rendering="crispEdges"/>
<rect x="5" y="252" width="6" height="6" fill="#00ff00" shape-rendering="crispEdges"/><rect x="7" y="254" width="2" height="2" fill="#fff" shape-rendering="crispEdges"/>
<rect x="1162" y="252" width="6" height="6" fill="#00ff00" shape-rendering="crispEdges"/><rect x="1164" y="254" width="2" height="2" fill="#fff" shape-rendering="crispEdges"/>
<rect x="5" y="397" width="6" height="6" fill="#0000ff" shape-rendering="crispEdges"/><rect x="7" y="399" width="2" height="2" fill="#fff" shape-rendering="crispEdges"/>
<rect x="1162" y="397" width="6" height="6" fill="#0000ff" shape-rendering="crispEdges"/><rect x="1164" y="399" width="2" height="2" fill="#fff" shape-rendering="crispEdges"/>
<text x="1174" y="53" font-size="10" fill="#000" textLength="32.4" lengthAdjust="spacingAndGlyphs" stroke="#000" stroke-width="0.15">0.93645</text>
<text x="1174" y="86" font-size="10" fill="#000" textLength="32.4" lengthAdjust="spacingAndGlyphs" stroke="#000" stroke-width="0.15">0.93350</text>
<text x="1174" y="119" font-size="10" fill="#000" textLength="32.4" lengthAdjust="spacingAndGlyphs" stroke="#000" stroke-width="0.15">0.93055</text>
<text x="1174" y="152" font-size="10" fill="#000" textLength="32.4" lengthAdjust="spacingAndGlyphs" stroke="#000" stroke-width="0.15">0.92760</text>
<text x="1174" y="185" font-size="10" fill="#000" textLength="32.4" lengthAdjust="spacingAndGlyphs" stroke="#000" stroke-width="0.15">0.92465</text>
<text x="1174" y="218" font-size="10" fill="#000" textLength="32.4" lengthAdjust="spacingAndGlyphs" stroke="#000" stroke-width="0.15">0.92170</text>
<text x="1174" y="251" font-size="10" fill="#000" textLength="32.4" lengthAdjust="spacingAndGlyphs" stroke="#000" stroke-width="0.15">0.91875</text>
<text x="1174" y="284" font-size="10" fill="#000" textLength="32.4" lengthAdjust="spacingAndGlyphs" stroke="#000" stroke-width="0.15">0.91580</text>
<text x="1174" y="317" font-size="10" fill="#000" textLength="32.4" lengthAdjust="spacingAndGlyphs" stroke="#000" stroke-width="0.15">0.91280</text>
<text x="1174" y="350" font-size="10" fill="#000" textLength="32.4" lengthAdjust="spacingAndGlyphs" stroke="#000" stroke-width="0.15">0.90985</text>
<text x="1174" y="383" font-size="10" fill="#000" textLength="32.4" lengthAdjust="spacingAndGlyphs" stroke="#000" stroke-width="0.15">0.90690</text>
<text x="1174" y="416" font-size="10" fill="#000" textLength="32.4" lengthAdjust="spacingAndGlyphs" stroke="#000" stroke-width="0.15">0.90395</text>
<text x="1174" y="449" font-size="10" fill="#000" textLength="32.4" lengthAdjust="spacingAndGlyphs" stroke="#000" stroke-width="0.15">0.90100</text>
<text x="5" y="623" font-size="9.4" fill="#000" stroke="#000" stroke-width="0.25">30 Jul 2021</text>
<text x="69" y="623" font-size="9.4" fill="#000" stroke="#000" stroke-width="0.25">6 Aug 08:00</text>
<text x="133" y="623" font-size="9.4" fill="#000" stroke="#000" stroke-width="0.25">13 Aug 16:00</text>
<text x="197" y="623" font-size="9.4" fill="#000" stroke="#000" stroke-width="0.25">23 Aug 00:00</text>
<text x="261" y="623" font-size="9.4" fill="#000" stroke="#000" stroke-width="0.25">30 Aug 08:00</text>
<text x="325" y="623" font-size="9.4" fill="#000" stroke="#000" stroke-width="0.25">6 Sep 16:00</text>
<text x="389" y="623" font-size="9.4" fill="#000" stroke="#000" stroke-width="0.25">14 Sep 00:00</text>
<text x="453" y="623" font-size="9.4" fill="#000" stroke="#000" stroke-width="0.25">21 Sep 08:00</text>
<text x="517" y="623" font-size="9.4" fill="#000" stroke="#000" stroke-width="0.25">28 Sep 16:00</text>
<text x="581" y="623" font-size="9.4" fill="#000" stroke="#000" stroke-width="0.25">6 Oct 00:00</text>
<text x="645" y="623" font-size="9.4" fill="#000" stroke="#000" stroke-width="0.25">13 Oct 08:00</text>
<text x="709" y="623" font-size="9.4" fill="#000" stroke="#000" stroke-width="0.25">20 Oct 16:00</text>
<text x="773" y="623" font-size="9.4" fill="#000" stroke="#000" stroke-width="0.25">28 Oct 00:00</text>
<text x="837" y="623" font-size="9.4" fill="#000" stroke="#000" stroke-width="0.25">4 Nov 08:00</text>
<text x="901" y="623" font-size="9.4" fill="#000" stroke="#000" stroke-width="0.25">11 Nov 16:00</text>
<text x="1172" y="461" font-size="9.1" fill="#000" stroke="#000" stroke-width="0.15">0.004366</text>
<text x="1172" y="497.5" font-size="9.1" fill="#000" stroke="#000" stroke-width="0.15">0.00</text>
<text x="1171" y="524.5" font-size="9.1" fill="#000" stroke="#000" stroke-width="0.15">-0.00336</text>
<text x="1172" y="541" font-size="9.1" fill="#000" stroke="#000" stroke-width="0.15">100</text>
<text x="1172" y="559.5" font-size="9.1" fill="#000" stroke="#000" stroke-width="0.15">70</text>
<text x="1172" y="590.5" font-size="9.1" fill="#000" stroke="#000" stroke-width="0.15">30</text>
<text x="1172" y="607" font-size="9.1" fill="#000" stroke="#000" stroke-width="0.15">0</text>
<path d="M9 36 L16 36 L12.5 32.5 Z" fill="#000"/>
<text x="21.4" y="37" font-size="10.2" fill="#000" textLength="57.6" lengthAdjust="spacingAndGlyphs" stroke="#000" stroke-width="0.15">USDCHF-,H4</text>
<text x="85.4" y="37" font-size="10.2" fill="#000" textLength="140.5" lengthAdjust="spacingAndGlyphs" stroke="#000" stroke-width="0.15">0.92542 0.92571 0.92524 0.92524</text>
<text x="10.5" y="463" font-size="9.8" fill="#000" textLength="147.3" lengthAdjust="spacingAndGlyphs" stroke="#000" stroke-width="0.15">MACD(12,26,9) 0.002164 0.001896</text>
<text x="10.5" y="543" font-size="9.8" fill="#000" textLength="67.5" lengthAdjust="spacingAndGlyphs" stroke="#000" stroke-width="0.15">RSI(14) 68.1673</text>
<rect x="1170" y="115" width="39" height="11" fill="#ff0000" shape-rendering="crispEdges"/>
<text x="1174" y="124" font-size="10" fill="#fff" textLength="32.4" lengthAdjust="spacingAndGlyphs" stroke="#fff" stroke-width="0.1">0.93001</text>
<rect x="1170" y="183" width="39" height="11" fill="#ff0000" shape-rendering="crispEdges"/>
<text x="1174" y="192" font-size="10" fill="#fff" textLength="32.4" lengthAdjust="spacingAndGlyphs" stroke="#fff" stroke-width="0.1">0.92394</text>
<rect x="1170" y="249" width="39" height="11" fill="#00ff00" shape-rendering="crispEdges"/>
<text x="1174" y="258" font-size="10" fill="#fff" textLength="32.4" lengthAdjust="spacingAndGlyphs" stroke="#fff" stroke-width="0.1">0.91802</text>
<rect x="1170" y="316" width="39" height="11" fill="#0000ff" shape-rendering="crispEdges"/>
<text x="1174" y="325" font-size="10" fill="#fff" textLength="32.4" lengthAdjust="spacingAndGlyphs" stroke="#fff" stroke-width="0.1">0.91206</text>
<rect x="1170" y="394" width="39" height="11" fill="#0000ff" shape-rendering="crispEdges"/>
<text x="1174" y="403" font-size="10" fill="#fff" textLength="32.4" lengthAdjust="spacingAndGlyphs" stroke="#fff" stroke-width="0.1">0.90509</text>
<rect x="1170" y="170" width="39" height="11" fill="#000" shape-rendering="crispEdges"/>
<text x="1174" y="179" font-size="10" fill="#fff" textLength="32.4" lengthAdjust="spacingAndGlyphs" stroke="#fff" stroke-width="0.1">0.92524</text>
</svg>
<svg class="a" style="left:0;top:0" width="240" height="110" viewBox="0 0 240 110">
<defs>
<linearGradient id="gt" x1="0" y1="0" x2="0" y2="1"><stop offset="0" stop-color="#f95e5e"/><stop offset="1" stop-color="#e23434"/></linearGradient>
<linearGradient id="gm" x1="0" y1="0" x2="0" y2="1"><stop offset="0" stop-color="#e03232"/><stop offset="0.5" stop-color="#c81818"/><stop offset="1" stop-color="#b20404"/></linearGradient>
<linearGradient id="gmu" gradientUnits="userSpaceOnUse" x1="0" y1="70" x2="0" y2="101"><stop offset="0" stop-color="#e03232"/><stop offset="0.5" stop-color="#c81818"/><stop offset="1" stop-color="#b20404"/></linearGradient>
<linearGradient id="gb" x1="0" y1="0" x2="0" y2="1"><stop offset="0" stop-color="#f4f4f4"/><stop offset="0.35" stop-color="#ebebeb"/><stop offset="0.36" stop-color="#dedede"/><stop offset="1" stop-color="#d6d6d6"/></linearGradient>
<linearGradient id="gtri" x1="0" y1="0" x2="0" y2="1"><stop offset="0" stop-color="#6f86e8"/><stop offset="1" stop-color="#3b4a9a"/></linearGradient>
</defs>
<g shape-rendering="crispEdges">
<!-- SELL -->
<rect x="9" y="69" width="109" height="33" fill="#b80000"/>
<rect x="10" y="70" width="107" height="31" fill="url(#gm)"/>
<rect x="9" y="45" width="52" height="25" fill="#b80000"/>
<rect x="10" y="46" width="50" height="24" fill="url(#gt)"/>
<rect x="13" y="68" width="44" height="1" fill="#8a0000"/>
<rect x="13" y="69" width="44" height="1" fill="#f06a6a"/>
<!-- BUY -->
<rect x="120" y="69" width="108" height="33" fill="#b80000"/>
<rect x="121" y="70" width="106" height="31" fill="url(#gm)"/>
<rect x="176" y="45" width="52" height="25" fill="#b80000"/>
<rect x="177" y="46" width="50" height="24" fill="url(#gt)"/>
<rect x="180" y="68" width="44" height="1" fill="#8a0000"/>
<rect x="180" y="69" width="44" height="1" fill="#f06a6a"/>
<!-- spinner -->
<rect x="63" y="45" width="111" height="22" fill="#a9adb3"/>
<rect x="64" y="46" width="109" height="20" fill="#fff"/>
<rect x="65" y="47" width="19" height="18" fill="url(#gb)"/>
<rect x="84" y="46" width="1" height="20" fill="#a9adb3"/>
<rect x="152" y="46" width="1" height="20" fill="#a9adb3"/>
<rect x="154" y="47" width="18" height="18" fill="url(#gb)"/>
</g>
<path d="M71 54 L77 54 L74 57 Z" fill="url(#gtri)"/>
<path d="M160 57 L166 57 L163 54 Z" fill="url(#gtri)"/>

<text x="21.4" y="60.8" font-size="12.4" fill="#fff" textLength="25.3" lengthAdjust="spacingAndGlyphs" stroke="#fff" stroke-width="0.15">SELL</text>
<text x="189.6" y="60.8" font-size="12.4" fill="#fff" textLength="23.3" lengthAdjust="spacingAndGlyphs" stroke="#fff" stroke-width="0.15">BUY</text>
<text x="125.5" y="59.6" font-size="11.5" fill="#000" textLength="23.3" lengthAdjust="spacingAndGlyphs" stroke="#000" stroke-width="0.15">0.00</text>
<text x="29" y="96.8" font-size="12.2" fill="#fff" font-weight="bold" textLength="23.5" lengthAdjust="spacingAndGlyphs" stroke="#fff" stroke-width="0.15">0.92</text>
<text x="57.6" y="96.8" font-size="34.5" fill="#fff" textLength="32.6" lengthAdjust="spacingAndGlyphs" stroke="url(#gmu)" stroke-width="0.5" paint-order="fill">52</text>
<text x="96" y="80.2" font-size="11.4" fill="#fff" font-weight="bold" textLength="6.8" lengthAdjust="spacingAndGlyphs" stroke="#fff" stroke-width="0.15">4</text>
<text x="139" y="96.8" font-size="12.2" fill="#fff" font-weight="bold" textLength="23.3" lengthAdjust="spacingAndGlyphs" stroke="#fff" stroke-width="0.15">0.92</text>
<text x="169" y="96.8" font-size="34.5" fill="#fff" textLength="33" lengthAdjust="spacingAndGlyphs" stroke="url(#gmu)" stroke-width="0.5" paint-order="fill">54</text>
<text x="206.5" y="80.2" font-size="11.4" fill="#fff" font-weight="bold" textLength="6.4" lengthAdjust="spacingAndGlyphs" stroke="#fff" stroke-width="0.15">7</text>
</svg>
</body></html>
